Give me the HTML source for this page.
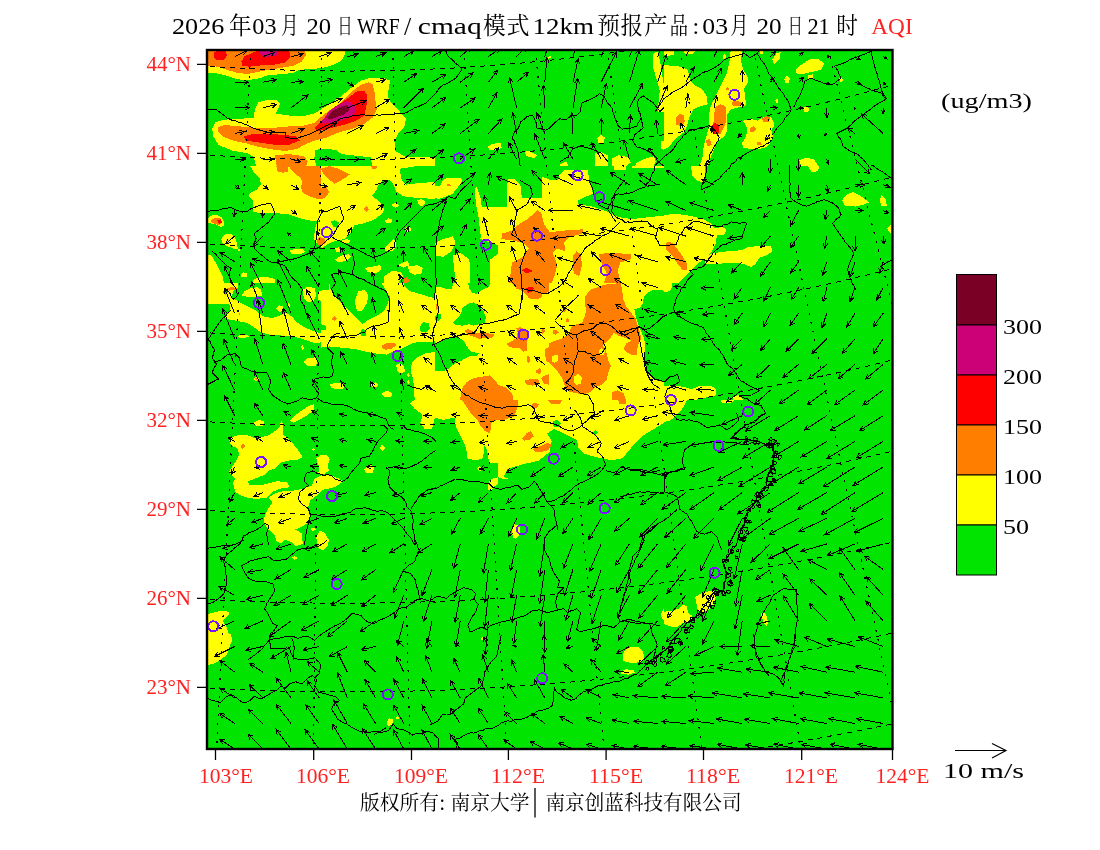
<!DOCTYPE html>
<html><head><meta charset="utf-8"><title>AQI</title>
<style>
html,body{margin:0;padding:0;background:#fff;width:1100px;height:850px;overflow:hidden}
svg{display:block}
.t{font-family:"Liberation Serif","Noto Serif CJK SC",serif;font-size:24px;fill:#000}
.c{font-family:"Noto Serif CJK SC","Liberation Serif",serif;font-size:24px;fill:#000}
.lab{font-family:"Liberation Serif",serif;font-size:21px;fill:#f22}
.cb{font-family:"Liberation Serif",serif;font-size:22px;fill:#000}
.cp{font-family:"Noto Serif CJK SC","Noto Sans CJK SC",serif;font-size:20.5px;fill:#000}
</style></head>
<body>
<svg width="1100" height="850" viewBox="0 0 1100 850">
<defs>
<clipPath id="mapclip"><rect x="207" y="50" width="685.5" height="699"/></clipPath>
<clipPath id="c0"><rect x="206" y="49" width="229" height="117"/></clipPath>
<clipPath id="c1"><rect x="435" y="49" width="229" height="117"/></clipPath>
<clipPath id="c2"><rect x="664" y="49" width="229" height="117"/></clipPath>
<clipPath id="c3"><rect x="206" y="166" width="115" height="117"/></clipPath>
<clipPath id="c4"><rect x="321" y="166" width="115" height="117"/></clipPath>
<clipPath id="c5"><rect x="435" y="166" width="229" height="117"/></clipPath>
<clipPath id="c6"><rect x="664" y="166" width="229" height="117"/></clipPath>
<clipPath id="c7"><rect x="206" y="283" width="115" height="117"/></clipPath>
<clipPath id="c8"><rect x="321" y="283" width="115" height="117"/></clipPath>
<clipPath id="c9"><rect x="435" y="283" width="115" height="117"/></clipPath>
<clipPath id="c10"><rect x="549" y="283" width="115" height="117"/></clipPath>
<clipPath id="c11"><rect x="664" y="283" width="229" height="117"/></clipPath>
<clipPath id="c12"><rect x="206" y="400" width="229" height="117"/></clipPath>
<clipPath id="c13"><rect x="435" y="400" width="229" height="117"/></clipPath>
<clipPath id="c14"><rect x="664" y="400" width="229" height="117"/></clipPath>
<clipPath id="c15"><rect x="206" y="517" width="229" height="117"/></clipPath>
<clipPath id="c16"><rect x="435" y="517" width="229" height="117"/></clipPath>
<clipPath id="c17"><rect x="664" y="517" width="229" height="117"/></clipPath>
<clipPath id="c18"><rect x="206" y="634" width="229" height="120"/></clipPath>
<clipPath id="c19"><rect x="435" y="634" width="229" height="120"/></clipPath>
</defs>
<rect width="1100" height="850" fill="#fff"/>
<g clip-path="url(#mapclip)" shape-rendering="crispEdges">
<rect x="207" y="50" width="686" height="700" fill="#00e400"/>
<g clip-path="url(#c0)"><polygon fill="#ffff00" points="206,49 345.1,49 344.4,56.3 340.3,61.5 330.9,65.7 321.5,68.2 310.1,69 299.7,69.8 293.4,72.9 278.9,74.4 268.5,75 260.1,78.1 247.6,80.2 237.2,79.2 226.8,75.6 218.5,73.6 206,72.9"/><polygon fill="#ff7e00" points="206,49 304.9,49 305.9,55.2 301.8,61.5 293.4,65.7 278.9,68.2 268.5,69.8 258,71.9 247.6,74 237.2,72.9 226.8,69.8 218.5,66.7 206,65.7"/><polygon fill="#ff0000" points="214.3,52.1 218.5,50.7 225.8,50.7 226.8,55.2 224.7,59.4 217.4,60.5 214.3,57.3"/><polygon fill="#ff0000" points="241.4,61.5 244.5,56.3 253.9,52.1 260.1,50.7 289.3,50.7 290.3,57.3 285.1,62.5 274.7,64.6 262.2,65.2 249.7,66.7 242.4,65.7"/><polygon fill="#cc0077" points="259.1,50.7 277.8,50.7 276.8,55.2 268.5,56.9 261.2,55.7"/><polygon fill="#ffff00" points="212.2,129.1 215.4,122.3 222.7,119.8 239.3,118.7 253.5,118.1 254.9,109.4 258.5,102.1 266.4,100 276.8,100 280.1,104.2 275.7,113.5 289.3,115.6 303.8,116 315.3,113.1 323.6,107.7 333,102.1 343.4,94.4 351.7,87.5 361.1,80.6 370.5,77.7 383,77.7 390.2,80.6 388.8,88.6 387.5,95.8 391.3,103.1 399.6,111.5 405.9,118.7 404.8,126 398.6,133.3 394.4,140.6 395.4,151 405.9,157.3 435,157.3 435,166 256,166 253.9,157.3 247.6,153.1 233.1,151 218.5,144.8 213.3,136.4"/><polygon fill="#00e400" points="315.3,150 324.7,148.5 336.1,150 341.3,154.1 351.7,155.2 370.5,157.3 372.5,166 316.3,166 314.3,159.3"/><polygon fill="#ff7e00" points="218.5,127.1 224.7,125 239.3,126.4 258,128.1 274.7,127.7 289.3,126.4 301.8,126 314.3,122.9 322.6,115.6 330.9,109.4 341.3,102.7 351.7,91.7 360.1,85.4 368.4,82.3 372.5,84.4 374.6,92.7 375.7,103.1 376.7,109.4 372.5,117.7 364.2,123.9 351.7,129.1 339.2,132.3 326.7,137.5 314.3,140.6 303.8,144.8 297.6,148.9 285.1,151 268.5,148.9 258,146.8 247.6,143.7 233.1,140.6 222.7,136.4 217.4,131.2"/><polygon fill="#ff0000" points="243.5,136.4 251.8,134.4 268.5,133.9 283,134.8 295.5,136.4 299.7,140.6 289.3,144.8 274.7,144.8 260.1,142.7 245.6,140.6"/><polygon fill="#ff0000" points="314.3,128.1 322.6,119.8 330.9,111.5 339.2,104.2 349.6,96.9 358,90.6 364.2,90.6 367.3,95.8 366.3,107.3 364.2,115.6 355.9,120.8 343.4,125 330.9,128.1 318.4,131.2"/><polygon fill="#cc0077" points="321.5,121.9 328.8,111.5 337.2,105.2 345.5,101 351.7,102.7 355.9,107.3 353.8,115.6 343.4,119.8 330.9,122.9 323.6,123.9"/><polygon fill="#7a0025" points="326.7,117.7 333,110.4 341.3,106.2 347.6,105.2 349.6,110.4 343.4,114.6 335.1,117.7 328.8,119.8"/><polygon fill="#ff7e00" points="274.7,155.2 289.3,154.1 303.8,156.2 308,161.4 305.9,166 276.8,166"/></g>
<g clip-path="url(#c1)"><polygon fill="#ffff00" points="653.6,53.2 657.8,51.5 660.9,65.7 663,80.2 664,86.5 664,111.5 657.8,111.5 658.8,99 659.8,90.6 655.7,76.1 652.5,65.7"/><polygon fill="#ffff00" points="547.4,56.9 550.5,55.9 550.7,58.4 547.8,58.6"/><polygon fill="#ffff00" points="488.1,146.8 492.2,143.7 500.6,143.1 501.6,147.9 495.4,150 489.1,150"/><polygon fill="#ffff00" points="524.5,152.1 528.7,150.6 537,155.2 534.9,158.3 526.6,156.2"/><polygon fill="#ffff00" points="597.4,138.5 600.5,134.8 604.7,137.5 604,142.7 598.4,142.7"/><polygon fill="#ffff00" points="595.3,153.1 601.5,152.1 607.8,155.2 607.8,166 595.3,166"/><polygon fill="#ffff00" points="612,158.3 618.2,155.2 628.6,157.3 630.7,162.5 626.5,166 612,166"/><polygon fill="#ffff00" points="636.9,162.5 643.2,159.3 653.6,156.2 655.7,161.4 653.6,166 634.9,166"/><polygon fill="#ffff00" points="660.9,141.6 664,140.6 664,150 661.5,148.9"/><polygon fill="#ffff00" points="559.9,164.5 566.2,161.4 568.2,166 559.9,166"/></g>
<g clip-path="url(#c2)"><polygon fill="#ffff00" points="664,50.7 674.4,50.7 673.4,55.2 668.2,55.7 664,54.8"/><polygon fill="#ffff00" points="683.8,50.7 695.2,50.7 693.1,53.6 684.8,53.6"/><polygon fill="#ffff00" points="664,64.6 670.2,65.7 680.7,66.7 687.9,69.8 690,80.2 695.2,85.4 702.5,89.6 706.7,95.8 707.7,104.2 700.4,106.2 693.1,109.4 689,117.7 686.9,126 683.8,132.3 678.6,136.4 672.3,142.7 668.2,147.9 664,148.9"/><polygon fill="#ffff00" points="730.6,50.7 742.1,50.7 741,61.5 743.1,69.8 747.3,76.1 748.3,82.3 744.1,88.6 745.2,96.9 746.2,105.2 738.9,107.3 730.6,109.4 726.5,115.6 726.5,123.9 726.5,132.3 724.4,136.4 718.1,140.6 714,148.9 710.8,157.3 707.7,166 699.4,166 702.5,157.3 703.6,146.8 705.6,138.5 708.8,128.1 708.8,117.7 709.8,109.4 712.9,101 718.1,90.6 722.3,82.3 726.5,74 728.5,65.7 730.2,57.3"/><polygon fill="#ffff00" points="723.3,54.8 725.4,54.2 725.8,58.4 723.5,58.8"/><polygon fill="#ffff00" points="759.8,50.7 762.9,50.7 762.9,54.2 760.2,54.2"/><polygon fill="#ffff00" points="772.3,59.4 776.4,53.2 780.6,52.1 779.5,59.4 774.3,64.6"/><polygon fill="#ffff00" points="784.3,79.2 786.8,75.6 790,78.1 788.9,83.3 785.4,83.3"/><polygon fill="#ffff00" points="775.4,100 777.5,98.5 778.5,102.7 776,103.5"/><polygon fill="#ffff00" points="795.2,69.8 801.4,64.6 809.7,59.4 819.1,59.4 824.3,63.6 821.2,69.8 811.8,71.9 803.5,74 797.2,74"/><polygon fill="#ffff00" points="807.6,75 812.9,74.4 813.5,78.1 808.1,78.6"/><polygon fill="#ffff00" points="838.5,79.2 841,77.1 843.5,79.8 841,82.3"/><polygon fill="#ffff00" points="803.1,108.3 806.6,106.2 809.3,109.4 807.6,112.5 803.9,111.5"/><polygon fill="#ffff00" points="743.1,120.8 749.4,118.7 757.7,120.8 761.8,117.7 770.2,116.7 773.3,120.8 774.3,126 771.2,130.2 773.3,136.4 770.2,142.7 767,146.8 759.8,148.9 751.4,148.9 743.1,147.9 742.1,142.7 746.2,136.4 747.3,128.1"/><polygon fill="#ffff00" points="799.3,160.4 805.6,157.7 813.9,159.3 818.1,166 801.4,166"/><polygon fill="#ff7e00" points="715,107.3 720.2,104.2 725.4,106.2 726.5,115.6 725.4,123.9 722.3,130.2 720.2,134.4 715,133.3 712.9,128.1 714,117.7"/><polygon fill="#ff7e00" points="705.6,140.6 709.8,138.5 711.9,144.8 707.7,146.8"/><polygon fill="#ff7e00" points="731.7,102.1 735.8,100.6 741,102.1 740.6,106.2 732.7,106.2"/><polygon fill="#ff7e00" points="726,88.1 728.1,86.5 729,89.8 726.5,90.2"/><polygon fill="#ff7e00" points="675.5,117.7 679.6,113.5 683.8,115.6 684.8,121.9 681.7,126 676.5,125"/><polygon fill="#ff7e00" points="761.8,118.7 766,116 770.2,117.7 769.1,121.9 763.9,122.3"/><polygon fill="#ff7e00" points="749.8,128.1 753.5,126 756.6,129.1 753.5,132.3 750.4,131.9"/><polygon fill="#ff7e00" points="756.6,142.7 760.8,141.6 761.8,144.8 757.7,145.2"/><polygon fill="#ff0000" points="711.9,126 715,122.9 719.2,125 719.2,132.3 715,134.4 712.3,131.2"/></g>
<g clip-path="url(#c3)"><polygon fill="#ffff00" points="250.1,166 321,166 321,220.4 313.4,221.1 302.4,219 288.6,214.2 280.4,213.5 272.1,212.8 261.1,213.5 252.8,211.5 253.5,205.9 252.8,200.4 248.7,196.3 250.1,192.9 257,189.4 261.1,183.9 259.7,178.4 253.5,171.5"/><polygon fill="#ff7e00" points="276.2,166 288.6,166 288,171.5 283.1,172.9 277.6,171.5"/><polygon fill="#ff7e00" points="288.6,166 321,166 321,199.1 314.8,198.4 306.6,194.9 302.4,192.2 301,186.7 302.4,181.2 299.7,177 295.5,174.3 291.4,170.1"/><polygon fill="#ffff00" points="208.1,218.3 211.5,215.6 217,214.9 221.2,217 223.9,221.1 224.6,225.2 221.2,227.3 214.3,223.9 208.1,223.2"/><polygon fill="#ff7e00" points="210.1,221.1 214.3,218.3 219.8,218.1 221.8,221.8 219.8,225.2 212.9,223.2"/><polygon fill="#ff0000" points="217,220 220.9,219.4 222.3,222.2 218.7,223.9"/><polygon fill="#ffff00" points="221.2,239 225.3,234.2 230.8,233.5 234.9,237.6 237,243.1 237.7,248.6 233.5,248.6 226.7,245.9 222.5,243.1"/><polygon fill="#ffff00" points="237.7,249.3 239.1,248.4 240.2,250 238.8,251.1"/><polygon fill="#ffff00" points="290,250.7 295.5,248.6 302.4,249.3 305.2,252.1 301,254.2 291.4,253.5"/><polygon fill="#ffff00" points="316.2,223.9 321,219.7 321,243.1 314.8,243.1 314.1,234.9"/><polygon fill="#ff7e00" points="316.9,239 321,236.2 321,245.2 317.6,244.5"/><polygon fill="#ffff00" points="206,254.2 211.5,255.5 215.6,262.4 219.8,270.7 222.5,276.2 223.9,283.1 206,283.1"/><polygon fill="#ffff00" points="240.4,274.8 243.2,272.1 247.3,273.4 246.6,276.9 241.8,277.6"/><polygon fill="#ffff00" points="252.8,280.3 258.3,277.6 266.6,276.9 274.9,278.9 274.9,283.1 252.8,283.1"/></g>
<g clip-path="url(#c4)"><polygon fill="#ffff00" points="321,166 436,166 436,283.1 321,283.1"/><polygon fill="#00e400" points="399.5,168.8 417.4,166 436,166 436,181.8 417.4,183.2 406.4,184.6 401.6,179.8"/><polygon fill="#00e400" points="321,248.6 329.3,243.1 337.5,240.4 344.4,239 351.3,232.1 354.1,225.2 362.3,223.9 370.6,221.1 376.1,218.3 381.6,214.2 384.4,210.1 381.6,204.6 376.1,199.1 372,195.6 376.1,190.8 378.9,183.9 384.4,179.8 389.9,179.8 394,185.3 396.1,191.5 403.6,196.3 414.7,197.7 425.7,198.4 436,199.1 436,283.1 321,283.1"/><polygon fill="#00e400" points="330.6,221.1 334.8,220.4 338.9,222.5 337.5,228 333.4,226.6"/><polygon fill="#ffff00" points="391.2,205.3 395.4,202.5 399.5,205.3 395.4,208"/><polygon fill="#ffff00" points="384.4,221.1 388.5,218.3 392.6,219.7 391.2,222.5 386.4,223.2"/><polygon fill="#ffff00" points="417.4,200.4 421.6,199.1 425.7,201.8 422.9,205.9 418.8,205.3"/><polygon fill="#ffff00" points="405,228 409.2,226.6 411.9,230 407.8,232.1 405,230.7"/><polygon fill="#ffff00" points="341.7,240.4 347.2,239 350.6,241.1 348.5,243.1 343,243.1"/><polygon fill="#ffff00" points="384.4,248.6 389.9,243.1 394,239 396.1,241.8 395.4,248.6 392.6,251.4 385.7,251.4"/><polygon fill="#ffff00" points="334.8,248.6 338.9,247.3 340.3,251.4 336.2,252.1"/><polygon fill="#ffff00" points="334.8,259.7 341.7,255.5 348.5,254.2 351.3,256.9 345.8,261 337.5,262.4"/><polygon fill="#ffff00" points="365.1,267.9 372,266.6 380.2,265.2 381.6,269.3 376.1,273.4 367.8,272.1"/><polygon fill="#ffff00" points="384.4,276.2 392.6,270.7 400.9,272.1 403.6,276.2 398.1,283.1 384.4,283.1"/><polygon fill="#ffff00" points="398.1,265.2 403.6,262.4 407.8,261 409.2,265.2 403.6,267.9"/><polygon fill="#ffff00" points="407.8,266.6 417.4,265.2 422.9,267.9 421.6,273.4 414.7,274.8 409.2,272.1"/><polygon fill="#ff7e00" points="403.6,278.9 407.1,276.9 409.8,280.3 407.8,283.1 403.6,283.1"/><polygon fill="#ff7e00" points="321,168.8 329.3,166 338.9,168.8 349.9,174.3 344.4,178.4 334.8,183.9 329.3,179.8 323.8,174.3"/><polygon fill="#ff7e00" points="321,188 326.5,186.7 329.3,192.2 325.1,197.7 321,199.1"/><polygon fill="#ff7e00" points="363.7,209 366.5,205.9 369.2,209.4 366.5,212.1"/><polygon fill="#ff7e00" points="370.6,166 377.5,166 376.1,168.8 372.7,169.4"/><polygon fill="#ff7e00" points="321,237.6 325.1,239 325.8,243.1 322.4,245.2 321,244.5"/></g>
<g clip-path="url(#c5)"><polygon fill="#ffff00" points="435,166 664,166 664,283 435,283"/><polygon fill="#00e400" points="435,166 587.6,166 587.6,170.2 564.1,170.2 559.9,174.3 557.8,179.7 549.9,179.7 542.4,177 542.4,197.6 532.8,198.3 521.8,197.6 520.4,184.7 514.1,178.5 507.9,179.5 506.8,191 506.8,207.2 481.8,207.2 480.4,197.6 477.7,189.3 476.2,186.8 475,188.9 475,195.1 476.6,207.6 478.7,218 479.8,228.5 480.8,236.8 480.4,238.9 485,240.9 498.3,245.1 497.5,254.1 490.2,259.7 490.2,283 435,283"/><polygon fill="#00e400" points="587.6,170.2 590.3,183.9 593,193.5 577.8,200.3 578.6,204.5 590.3,206 606.8,211.4 617.8,217 631.5,219.1 645.3,217.6 664,215.5 664,166 587.6,166"/><polygon fill="#ffff00" points="613.6,166 626.1,166 626.1,170.2 613.6,170.2"/><polygon fill="#ffff00" points="631.5,166 664,166 664,168.1 631.5,168.1"/><polygon fill="#ffff00" points="443.3,179.7 448.7,177.7 461.2,177.7 462.5,181.2 457.1,188.1 452.9,193.5 446,196.4 437.7,199.1 435,197.6 435,186.6 440.4,185.4"/><polygon fill="#ffff00" points="435,243 443.3,239.1 452.9,236.2 455.6,243 451.4,251.4 443.3,257 435,255.5"/><polygon fill="#ffff00" points="452.7,255.5 460,252.4 469.4,259.7 470.4,283 455.8,283"/><polygon fill="#ff7e00" points="446,185.2 448.7,183.9 451.4,185.2 448.7,186.6"/><polygon fill="#ff7e00" points="501.2,239.1 502.5,233.5 512,230.7 517.6,225.1 528.7,218.3 537,210.1 541.2,212.8 543.9,223.9 549.9,232.2 562.6,230.7 583.4,229.3 582,233.5 568.2,237.6 564.1,243 565.5,251.4 557.2,248.6 552.6,253.4 554.5,257 557.2,265.1 554.5,276.1 551.6,283 509.3,283 512,262.4 523.1,257 528.7,248.6 523.1,243 512,240.3"/><polygon fill="#ff7e00" points="598.6,254.1 610.9,252.8 631.5,254.1 630.3,259.7 620.5,262.4 617.8,270.7 620.5,283 604,283 606.8,273.4 601.3,262.4 599.9,258.2"/><polygon fill="#ff7e00" points="573,255.5 576.6,251.4 580.7,254.1 582,265.1 579.3,276.1 573.6,273.4"/><polygon fill="#ff0000" points="521.4,270.1 526.6,267.6 532.8,271.1 526.6,273.2"/><polygon fill="#ff0000" points="558.7,237.6 559.9,236.2 561.4,237.6 559.9,239.1"/></g>
<g clip-path="url(#c6)"><polygon fill="#ffff00" points="691.1,166 704.6,166 705.6,174.3 703.6,182.7 697.3,180.6 692.1,175.4"/><polygon fill="#ffff00" points="664,214.9 676.5,213.9 691.1,216 703.6,219.1 711.9,224.3 717.1,232.6 716,243 711.9,251.4 705.6,257.6 695.2,265.9 686.9,274.3 678.6,283 664,283"/><polygon fill="#ffff00" points="715,228.5 721.2,226.8 726.5,229.5 724.4,234.7 717.1,234.7"/><polygon fill="#ffff00" points="703.6,257.6 711.9,253.4 726.5,251.4 741,250.3 747.3,247.2 757.7,246.1 771.2,246.1 772.3,251.4 766,255.5 759.8,257.6 755.6,263.8 751.4,267 743.1,263.8 732.7,262.8 718.1,263.8 705.6,263.8"/><polygon fill="#ffff00" points="807.6,166 819.1,166 818.1,171.2 811.8,172.2"/><polygon fill="#ffff00" points="842,200.3 847.2,194.1 853.4,192 859.7,195.1 869.1,202.4 863.9,204.5 855.5,206.6 845.1,205.6"/><polygon fill="#ffff00" points="879.5,200.3 881.5,195.1 885.7,199.3 886.8,205.6 881.5,205.6"/><polygon fill="#ffff00" points="886.8,228.5 890.9,224.3 893,225.3 893,234.7 889.9,232.6"/><polygon fill="#ff7e00" points="666.1,243 670.2,241.4 674.4,245.1 680.7,253.4 686.9,263.8 686.9,270.1 682.7,270.1 677.5,263.8 672.3,255.5 666.1,249.3"/></g>
<g clip-path="url(#c7)"><polygon fill="#ffff00" points="206,283 237.7,283 238.4,287.1 233.5,291.3 231.5,296.8 239.1,302.3 247.3,306.4 255.6,310.5 263.9,316.7 272.1,318.1 280.4,315.4 285.9,312.6 291.4,316.1 296.9,322.3 305.2,327.8 316.2,331.9 321,333.3 321,342.2 316.2,343.6 307.9,340.9 299.7,338.1 288.6,336 277.6,335.3 269.4,334.7 261.1,332.6 255.6,328.5 247.3,322.9 240.4,321.6 233.5,320.2 226.7,319.1 223.9,316.1 230.1,310.5 229.4,304.3 206,304.3"/><polygon fill="#00e400" points="222.5,292 225.3,290.6 228,292.6 225.3,294.7"/><polygon fill="#ffff00" points="244.6,291.3 250.1,288.5 257,287.1 261.1,289.9 262.5,295.4 255.6,296.8 247.3,296.8 241.8,295.4"/><polygon fill="#ffff00" points="276.2,308.5 279,305 283.1,306.4 283.8,310.5 279.7,312.2"/><polygon fill="#ffff00" points="302.4,289.9 307.9,286.4 314.8,288.5 316.2,295.4 313.4,300.9 307.9,302.3 303.8,298.2"/><polygon fill="#ffff00" points="317.6,292.6 321,290.6 321,300.9 318.3,299.5"/><polygon fill="#ffff00" points="287,305 288.6,303 290.3,305.7 288.4,308.1"/><polygon fill="#ffff00" points="237.7,336 241.8,334.2 247.3,334.7 248.7,336.7 243.2,338.1 239.1,337.8"/><polygon fill="#ffff00" points="301,347 302.4,345 304.1,347.7 302.4,350.5"/><polygon fill="#ffff00" points="303.8,361.5 307.9,358.1 314.8,357.4 317.6,360.1 316.2,365.6 306.6,365.6"/><polygon fill="#ffff00" points="253.5,378.7 256.3,376 259,378.7 256.3,381.5"/><polygon fill="#ff7e00" points="254.9,378.7 256.3,377.4 257.7,378.7 256.3,380.1"/><polygon fill="#ff7e00" points="226.7,288.5 230.8,287.1 237,287.8 235.6,289.9 229.4,290.6"/><polygon fill="#ff7e00" points="238.1,314 239.1,312.9 240,314 239.1,315.1"/></g>
<g clip-path="url(#c8)"><polygon fill="#ffff00" points="321,283 436,283 436,400.1 321,400.1"/><polygon fill="#00e400" points="321,283 329.3,283 329.3,289.9 321,290.6"/><polygon fill="#00e400" points="329.3,283 381.6,283 385.7,289.9 389.9,296.8 387.1,305 384.4,310.5 378.9,314.7 373.3,317.4 367.8,320.2 362.3,324.3 355.4,317.4 348.5,310.5 341.7,303.7 334.8,296.8 330.6,289.9"/><polygon fill="#ffff00" points="354.7,300.9 358.2,291.3 365.1,289.9 368.5,295.4 366.5,303.7 362.3,310.5 356.8,310.5"/><polygon fill="#00e400" points="403.6,283 436,283 436,298.2 428.4,296.8 420.2,294 410.5,291.3 405,287.1"/><polygon fill="#00e400" points="419.5,327.1 422.9,322.3 428.4,322.9 429.8,328.5 425.7,332.6 420.9,331.9"/><polygon fill="#00e400" points="360.3,332.6 362.3,328.5 366.5,330.5 365.8,336 360.9,336"/><polygon fill="#00e400" points="321,324.3 325.1,325 326.5,329.8 321,330.5"/><polygon fill="#00e400" points="321,347.7 329.3,346.4 341.7,347.7 355.4,349.1 366.5,351.9 378.9,353.9 387.1,354.6 392.6,351.9 398.1,350.5 403.6,347.7 411.9,343.6 420.2,341.5 429.8,342.2 436,340.9 436,351.9 425.7,353.2 417.4,357.4 411.9,362.9 410.5,371.2 413.3,379.4 414.7,400.1 321,400.1"/><polygon fill="#ffff00" points="329.3,384.9 334.8,382.9 343,383.6 345.8,386.3 341.7,389.1 332,388.4"/><polygon fill="#ffff00" points="370.6,384.2 375.4,382.2 378.9,384.9 376.1,387 372,387"/><polygon fill="#ffff00" points="381.6,393.2 387.1,390.4 392.6,393.2 391.2,397.3 384.4,397.3"/><polygon fill="#ffff00" points="396.1,365.6 399.5,362.9 403.6,365.6 405,371.2 400.9,373.9 397.4,371.2"/><polygon fill="#ffff00" points="407.1,374.6 408.5,373.2 409.8,376 408.1,377.4"/><polygon fill="#ffff00" points="407.1,381.5 408.5,380.1 409.8,382.9 408.1,384.2"/><polygon fill="#ff7e00" points="332,318.1 334.8,316.1 336.8,318.8 334.8,320.9 332.7,320.2"/><polygon fill="#ff7e00" points="381.6,345.7 387.1,342.9 394,342.5 396.1,345 392.6,348.4 385.7,349.8 382.3,348.4"/></g>
<g clip-path="url(#c9)"><polygon fill="#ffff00" points="435,283 550,283 550,400.1 435,400.1"/><polygon fill="#00e400" points="435,283 452.9,283 452.2,288.5 447.4,289.2 440.5,287.1 435,286.4"/><polygon fill="#00e400" points="468.1,283 490.1,283 488.7,287.1 481.8,289.9 476.3,294 472.2,292.6 469.4,288.5"/><polygon fill="#00e400" points="452.9,322.9 457,318.8 461.2,313.3 462.5,307.8 468.1,303.7 473.6,302.3 479.1,306.4 483.2,310.5 486,317.4 484.6,322.9 479.1,324.3 473.6,325.7 469.4,324.3 462.5,325.7 455.7,325"/><polygon fill="#00e400" points="439.1,313.3 441.2,314.7 440.5,318.8 437.8,321.6 435,320.2 435,316.1"/><polygon fill="#00e400" points="435,343.6 440.5,340.9 448.8,338.1 457,336.7 463.9,340.9 466.7,346.4 470.8,351.9 479.1,353.2 476.3,356 469.4,356 462.5,360.1 455.7,362.9 448.8,368.4 443.3,371.2 435,371.2"/><polygon fill="#ff7e00" points="512.1,283 550,283 550,291.3 542.4,294 541.1,298.2 534.2,299.5 528.7,298.2 525.9,294 523.2,291.3 516.3,288.5"/><polygon fill="#ff0000" points="525.9,288.5 530,286.4 534.2,287.8 531.4,292 528,292.6"/><polygon fill="#ff7e00" points="464.6,330.5 468.1,329.1 472.2,331.2 479.1,333.3 487.3,333.3 494.2,334 492.9,337.4 486,338.1 479.1,338.8 473.6,336.7 468.1,334.7"/><polygon fill="#ff7e00" points="506.6,343.6 512.1,340.9 516.3,338.1 517.6,332.6 516.3,328.5 520.4,327.1 525.9,329.8 528.7,332.6 527.3,340.9 526.6,345 527.3,350.5 523.2,351.9 519,347.7 513.5,347.7 509.4,347"/><polygon fill="#ff7e00" points="541.1,329.8 543.8,328.5 545.2,331.9 542.4,334"/><polygon fill="#ff7e00" points="545.2,349.1 550,346.4 550,362.9 546.6,361.5 545.2,356"/><polygon fill="#ff7e00" points="527.3,356 530,356.7 529.4,362.9 527.3,362.2"/><polygon fill="#ff7e00" points="535.6,371.2 539.7,367.7 541.7,371.2 539.7,373.9 536.2,373.2"/><polygon fill="#ff7e00" points="524.5,380.8 531.4,378.7 538.3,379.4 539.7,383.6 532.8,385.6 525.9,384.2"/><polygon fill="#ff7e00" points="541.1,378 545.2,375.3 550,373.9 550,384.9 543.8,383.6"/><polygon fill="#ff7e00" points="459.8,400.1 462.5,387.7 466.7,382.2 473.6,378 481.8,376.7 490.1,375.3 494.2,379.4 498.4,384.9 506.6,387.7 512.1,393.2 513.5,400.1"/><polygon fill="#ff7e00" points="435.7,303.7 437.8,303.7 439.1,307.8 436.4,310.5"/></g>
<g clip-path="url(#c10)"><polygon fill="#ffff00" points="549,283 664,283 664,400.1 549,400.1"/><polygon fill="#00e400" points="648.2,292.6 653.7,289.9 664,290.6 664,382.2 657.8,380.8 650.9,376.7 646.8,371.2 645.4,362.9 644,354.6 645.4,346.4 644,338.1 639.9,328.5 637.2,321.6 635.1,313.3 634.4,309.2 639.9,307.8 642.7,303.7 644,296.8"/><polygon fill="#ff7e00" points="584.8,296.8 590.3,289.9 601.3,285.8 606.9,284.4 620.6,283 622,289.9 623.4,299.5 626.1,306.4 631.6,313.3 635.8,318.8 637.2,324.3 639.9,332.6 641.3,338.1 638.5,343.6 637.2,349.1 637.2,354.6 631.6,354.6 626.1,351.9 623.4,349.1 626.1,343.6 631.6,340.9 626.1,338.1 617.9,335.3 613.7,332.6 612.4,335.3 608.2,340.9 604.1,343.6 602.7,346.4 605.5,349.1 606.9,354.6 608.2,360.1 611,365.6 608.2,372.5 606.9,379.4 601.3,384.9 594.5,387.7 590.3,391.8 583.4,394.6 576.5,393.2 569.7,391.8 565.5,387.7 562.8,379.4 557.3,371.2 551.8,365.6 549,362.9 549,343.6 554.5,340.9 562.8,338.1 569.7,332.6 571,327.1 576.5,324.3 582.1,322.9 584.8,316.1 586.2,310.5 584.8,303.7"/><polygon fill="#ffff00" points="598.6,350.5 601.3,348.4 605.5,350.5 604.1,354.6 600,354.6"/><polygon fill="#ffff00" points="573.8,376.7 577.9,373.9 582.1,378 580.7,383.6 576.5,384.9 573.8,382.2"/><polygon fill="#ffff00" points="551.8,356 557.3,354.6 558.6,360.1 554.5,362.9 551.8,361.5"/><polygon fill="#ff7e00" points="612.4,391.8 617.9,390.4 623.4,393.2 626.1,400.1 612.4,400.1"/><polygon fill="#ff7e00" points="553.1,330.5 556.6,329.8 558.6,332.6 555.9,334.7 553.1,334"/><polygon fill="#ff7e00" points="565.5,318.8 568.3,318.1 569,321.6 566.2,322.3"/><polygon fill="#ff7e00" points="562.8,309.9 565.5,308.5 566.2,311.2 563.5,311.9"/></g>
<g clip-path="url(#c11)"><polygon fill="#ffff00" points="664,283 672.3,283 671.3,289.2 667.1,292.4 664,292.4"/><polygon fill="#ffff00" points="664,386.1 672.3,385 684.8,387.1 691.1,389.2 699.4,386.1 711.9,386.1 716,389.2 716,395.4 705.6,397.5 695.2,400 664,400"/><polygon fill="#ffff00" points="732.7,396.5 738.9,395 743.1,400 732.7,400"/></g>
<g clip-path="url(#c12)"><polygon fill="#ffff00" points="228.9,438.5 237.2,435.4 247.6,435.4 256,438.5 268.5,435.4 274.7,431.2 279.9,427.1 280.9,419.8 283.4,425 283,434.4 289.3,439.6 296.6,447.9 302.8,457.2 295.5,460.4 289.3,460.4 280.9,462.5 274.7,468.7 268.5,470.8 264.3,474.9 253.9,479.1 247.6,481.2 249.7,485.4 260.1,485.4 268.5,483.3 276.8,481.2 287.2,482.2 289.3,487.4 280.9,488.5 272.6,491.6 266.4,497.8 256,498.9 247.6,497.8 241.4,495.8 235.1,491.6 233.1,483.3 235.1,479.1 228.9,471.8 235.1,462.5 239.3,454.1 237.2,447.9 231,445.8"/><polygon fill="#ffff00" points="268.5,497.8 274.7,493.7 280.9,491.6 293.4,490.6 303.8,488.5 312.2,485.4 314.3,479.1 322.6,474.9 330.9,475.4 339.2,478.7 343.4,481.6 335.1,487 322.6,489.9 316.3,495.8 310.1,500.3 308,508.3 310.1,517 264.3,517 268.5,508.3 272.6,502"/><polygon fill="#ffff00" points="316.3,458.3 320.5,455.2 326.7,454.5 329.9,459.3 327.8,465.6 328.8,470.8 322.6,474.9 318.4,472.9 319.5,466.6 317.4,462.5"/><polygon fill="#ffff00" points="289.3,420.8 293.4,416.7 301.8,410.4 310.1,405.2 314.3,404.2 314.3,409.4 308,414.6 299.7,419.8 293.4,422.9"/><polygon fill="#ffff00" points="253.9,422.9 258,420.2 264.3,420.8 263.2,426 256,426"/><polygon fill="#ffff00" points="312.2,449.3 313.6,447.9 315.1,449.3 313.6,450.8"/><polygon fill="#ffff00" points="379.8,447.9 381.9,444.8 385,447.9 383,451"/><polygon fill="#ffff00" points="364.2,469.7 369.4,464.5 374.6,466.6 372.5,472.9 366.3,472.9"/><polygon fill="#ffff00" points="410,403.1 414.2,400 435,400 435,416.7 431.9,429.1 424.6,429.1 420.4,422.9 422.5,414.6 414.2,408.3"/><polygon fill="#ff7e00" points="240.3,446.2 242.8,443.3 245.6,446.2 242.8,449.1"/></g>
<g clip-path="url(#c13)"><polygon fill="#ffff00" points="435,400 664,400 664,422.9 653.6,429.1 643.2,435.4 632.8,445.8 622.4,458.3 612,460.4 601.5,458.3 593.2,456.2 584.9,454.1 578.6,447.9 576.6,439.6 564.1,433.3 553.7,429.1 547.4,433.3 551.6,441.6 549.5,452 539.1,460.4 522.4,464.5 507.9,468.7 503.7,477 509.9,479.1 503.7,479.1 497.5,477 497.5,462.5 489.1,462.5 487,450 484.5,445.8 482.9,458.3 475.6,460.4 467.3,458.3 466.2,447.9 462.1,439.6 455.8,427.1 454.8,417.7 443.3,419.8 435,417.7"/><polygon fill="#00e400" points="552.6,421.9 556.8,419.8 561,422.9 558.9,427.1 553.7,426.6"/><polygon fill="#00e400" points="593.2,432.3 595.7,429.6 597.8,432.9 595.3,435"/><polygon fill="#ffff00" points="488.1,483.3 491.2,479.1 497.5,477.4 498.5,483.3 493.3,487.4 491.2,491.6 488.1,489.5"/><polygon fill="#ffff00" points="476.6,468.7 479.8,466.2 482.9,468.7 479.8,471.2"/><polygon fill="#ff7e00" points="462.1,400 518.3,400 517.2,408.3 514.1,416.7 503.7,419.8 497.5,419.8 491.2,422.9 490.2,433.3 485,431.2 479.8,425 476.6,418.7 470.4,412.5 466.2,406.2"/><polygon fill="#ff7e00" points="530.8,405.2 534.9,402.5 539.1,404.2 537,408.3 531.8,407.9"/><polygon fill="#ff7e00" points="547.4,400 562,400 559.9,404.2 551.6,404.2"/><polygon fill="#ff7e00" points="618.2,400 626.5,400 625.5,403.7 619.2,403.7"/><polygon fill="#ff7e00" points="532.8,448.9 541.2,445.8 547.4,442.7 551.6,444.8 548.5,450 541.2,452 534.9,452"/><polygon fill="#ff7e00" points="522.4,438.5 526.6,433.3 530.8,431.2 533.9,436.4 529.7,439.6 524.5,440.6"/></g>
<g clip-path="url(#c14)"><polygon fill="#ffff00" points="664,400 686.9,400 682.7,408.3 676.5,414.6 670.2,420.8 664,421.9"/><polygon fill="#ffff00" points="720.2,400 734.8,400 730.6,403.1 722.3,403.1"/></g>
<g clip-path="url(#c15)"><polygon fill="#ffff00" points="264.3,517 310.1,517 308,523.2 301.8,526.4 295.5,529.5 301.8,533.7 302.8,544.1 295.5,546.1 291.4,542 285.1,539.9 280.9,543 276.8,542 274.7,535.7 268.5,529.5 264.3,523.2"/><polygon fill="#ffff00" points="316.3,537.8 319.5,530.5 324.7,532.6 328.8,539.9 327.8,546.1 322.6,550.3 318.4,548.2"/><polygon fill="#ffff00" points="310.1,529.1 313.2,527.4 316.3,529.5 312.6,531.2"/><polygon fill="#ffff00" points="291.4,557.6 294.5,556.1 297.6,558.2 294.5,559.9"/><polygon fill="#ffff00" points="206,614.8 216.4,611.7 224.7,610.7 229.9,612.8 226.8,616.9 222.7,621.1 226.8,627.3 228.9,634 206,634"/></g>
<g clip-path="url(#c16)"><polygon fill="#ffff00" points="511,529.5 514.1,524.3 519.3,525.3 520.4,533.7 516.2,538.9 513.1,537.8"/><polygon fill="#ffff00" points="660.9,613.8 664,608.6 664,620 661.9,619"/></g>
<g clip-path="url(#c17)"><polygon fill="#ffff00" points="695.2,597.1 701.5,593 714,589.9 716,596.1 714,604.4 707.7,610.7 701.5,612.8 697.3,608.6 696.3,602.4"/><polygon fill="#ffff00" points="664,611.7 672.3,610.7 678.6,608.6 682.7,604.4 686.9,606.5 687.9,612.8 692.1,615.9 691.1,621.1 682.7,623.2 676.5,627.3 670.2,626.3 664,624.2"/><polygon fill="#ffff00" points="760.8,613.8 763.9,611.7 767,616.9 768.1,623.2 766,626.3 763.5,622.1"/></g>
<g clip-path="url(#c18)"><polygon fill="#ffff00" points="206,634 231,634 232,640.2 228.9,648.6 226.8,654.8 218.5,661.1 212.2,664.2 206,665.2"/><polygon fill="#ffff00" points="386.7,722.5 389.2,718.3 392.9,719.4 392.3,724.6 388.2,726.6"/><polygon fill="#ffff00" points="395.9,717.3 397.9,715.2 399.2,718.3 397.1,719.8"/></g>
<g clip-path="url(#c19)"><polygon fill="#ffff00" points="622.4,654.8 625.5,649.6 631.7,646.5 638,646.5 643.2,651.7 644.2,657.9 640.1,662.1 631.7,663.1 623.4,661.1"/><polygon fill="#ffff00" points="620.3,671.5 625.5,669.4 633.8,669.8 634.9,672.5 628.6,674.6 621.3,674"/><polygon fill="#ffff00" points="480.8,638.2 483.3,637.1 484.1,639.8 481.6,640.2"/></g>
<path fill="none" stroke="#000" stroke-width="1" stroke-linejoin="round" d="M374.2 734.4 L377.4 732.9 L380.7 732.6 L385.2 731.2 L388.6 730.7 L390.9 727.2 L393.2 723.9 L396.5 728.2 L399.9 729.4 L402.4 729.4 L406.1 730.9 L409.8 732.9 L412.6 735.1 L416.1 733.7 L418.9 733.7 L421.8 733.1 L425.3 731.8 L429.8 731.8 L433.3 733.0 L435.3 735.8 L438.4 738.6 L439.0 742.9 L438.7 747.4 L437.7 750.2 L436.7 753.0 L436.5 756.2 L435.9 759.2 M452.1 758.5 L454.0 756.4 L453.6 751.8 L456.1 750.0 L457.0 746.3 L457.8 743.6 L454.4 739.4 L457.8 738.7 L460.7 737.6 L464.0 735.4 L466.9 734.2 L470.1 732.8 L473.7 733.1 L477.3 731.8 L479.5 730.7 L482.8 730.6 L485.1 728.8 L489.0 728.4 L492.0 728.6 L495.4 726.9 L498.5 725.4 L501.1 722.7 L504.6 721.9 L507.5 720.7 L511.0 721.7 L514.4 719.6 L517.2 719.6 L521.1 719.2 L523.9 718.4 L527.1 717.2 L529.7 715.7 L532.5 714.9 L536.7 711.7 L538.9 710.6 L542.5 710.2 L545.0 709.2 L548.2 708.4 L552.7 705.0 L553.1 701.3 L553.5 696.1 L553.9 692.3 L554.3 687.2 L555.9 690.7 L558.0 692.8 L561.3 694.7 L563.1 696.8 L566.0 698.7 L569.0 699.2 L571.4 700.4 L576.0 698.5 L577.9 696.0 L581.2 693.5 L583.2 691.9 L587.8 690.3 L590.9 689.6 L594.7 687.5 L596.9 686.0 L601.3 685.5 L604.1 684.3 L607.7 683.4 L611.4 682.8 L614.3 681.3 L618.1 681.9 L621.6 680.3 L624.8 678.3 L628.2 678.3 L631.4 676.0 L634.1 674.6 L636.7 674.1 L639.8 670.9 L641.8 669.2 L645.1 665.7 L647.2 663.1 L650.7 660.5 L654.3 658.2 L656.5 656.8 L659.6 654.8 L663.7 651.4 L666.3 649.2 L669.2 646.2 L670.1 643.2 L672.1 641.1 L674.4 638.1 L675.9 636.6 L678.1 633.9 L681.2 631.1 L682.0 628.0 L685.1 625.1 L686.3 623.0 L689.0 621.4 L692.7 618.2 L696.3 617.0 L699.3 613.6 L699.7 611.1 L702.7 608.6 L705.5 605.7 L707.9 601.9 L708.8 598.8 L710.3 596.3 L712.7 593.6 L716.7 593.0 L720.3 592.0 L723.0 590.5 L724.6 587.2 L724.9 582.7 L725.8 579.6 L726.1 574.8 L725.9 570.6 L723.7 566.3 L722.9 562.2 L726.2 558.6 L728.2 556.1 L730.6 553.4 L732.4 549.9 L735.0 547.1 L736.1 544.5 L737.7 541.7 L737.8 538.7 L738.9 534.6 L740.5 532.3 L741.1 528.4 L742.7 526.0 L744.8 522.5 L745.7 519.7 L747.3 516.1 L747.3 511.6 L749.4 508.8 L752.3 506.2 L753.4 503.5 L755.5 501.1 L756.8 497.8 L759.1 494.9 L760.5 492.9 L761.6 489.6 L764.3 487.3 L766.3 485.5 L767.1 481.9 L766.4 478.8 L767.5 476.2 L768.5 473.0 L770.4 470.6 L771.8 467.9 L772.2 464.5 L772.8 461.3 L774.1 456.9 L774.6 453.4 L773.3 449.0 L773.1 445.0 L770.3 443.8 L767.0 444.3 L764.1 443.8 L760.5 442.2 L758.5 441.8 L754.9 441.8 L751.8 440.2 L748.0 439.5 L744.8 439.4 L740.0 439.4 L736.1 439.3 L733.3 438.1 L731.0 438.0 L734.1 436.0 L735.1 433.3 L738.3 431.0 L740.9 428.7 L743.0 427.4 L745.3 425.3 L748.7 424.2 L751.1 423.5 L753.1 421.7 L756.5 419.7 L758.9 417.7 L762.2 415.4 L765.4 413.4 L764.3 410.5 L761.7 407.3 L760.9 405.3 L756.5 404.6 L753.9 403.5 L750.1 401.3 L747.2 398.6 L743.9 398.1 L740.4 395.7 L744.6 395.4 L747.7 395.1 L751.7 395.0 L756.1 392.3 L759.4 390.5 L756.7 389.1 L754.7 388.3 L751.9 387.0 L748.3 385.1 L745.3 383.1 L743.0 381.7 L740.4 380.6 L738.2 377.5 L736.3 373.8 L734.7 371.4 L732.1 368.0 L729.2 366.1 L727.4 364.3 L725.5 360.5 L723.8 357.2 L723.0 355.2 L721.5 353.5 L718.8 349.3 L716.0 346.9 L714.1 344.7 L712.5 341.9 L710.1 338.5 L708.3 335.2 L705.7 332.6 L705.4 330.3 L702.7 327.2 L699.1 326.2 L697.3 324.8 L694.7 324.1 L691.0 323.2 L688.7 321.7 L686.6 321.0 L683.1 318.5 L680.2 316.9 L677.6 316.4 L676.4 314.3 L674.3 310.9 L673.5 308.0 L674.3 304.7 L675.6 302.5 L676.0 298.6 L678.1 295.2 L680.2 291.7 L681.1 288.7 L683.7 286.1 L685.9 283.5 L687.6 280.0 L690.0 277.5 L693.4 274.5 L690.0 270.5 L693.0 269.9 L697.2 268.9 L698.6 267.6 L702.7 266.8 L705.7 263.9 L708.0 259.7 L710.9 256.8 L713.3 252.7 L715.1 250.9 L719.0 247.8 L721.2 245.1 L725.6 244.5 L727.9 243.2 L732.4 241.4 L736.1 239.6 L739.4 239.2 L742.3 237.8 L742.9 234.3 L744.6 229.7 L745.2 226.6 L747.1 223.1 L743.1 222.7 L739.3 223.2 L735.3 222.5 L731.1 221.9 L727.4 224.3 L724.0 224.2 L721.6 226.8 L717.5 226.7 L713.4 225.3 L710.0 225.0 L706.1 224.0 L702.5 222.8 L698.7 221.5 L695.6 221.1 L693.0 221.8 L689.6 224.8 L687.1 226.4 L685.0 227.5 L683.4 230.3 L681.1 233.8 L678.7 236.2 L678.1 239.6 L676.2 244.2 L672.6 244.5 L670.1 244.9 L667.2 245.7 L662.4 245.7 L659.3 245.5 L658.8 242.5 L656.7 239.7 L655.3 237.1 L656.5 233.8 L658.0 229.1 L654.1 227.7 L650.9 225.7 L647.7 221.7 L644.2 221.8 L641.5 221.0 L637.4 221.8 L634.7 221.5 L631.2 222.5 L628.0 221.9 L624.5 222.2 L622.3 219.9 L619.2 218.8 L616.1 217.4 L613.8 214.6 L611.3 210.5 L612.6 207.1 L612.5 202.8 L613.6 199.7 L615.4 194.9 L618.7 193.9 L621.7 194.7 L625.4 193.4 L628.4 193.4 L632.8 192.3 L635.6 190.8 L638.5 189.1 L641.7 188.0 L644.8 187.4 L646.7 183.7 L649.5 181.4 L650.8 177.3 L652.0 174.3 L654.3 170.5 L654.1 167.1 L656.2 164.3 L660.6 160.5 L662.8 158.5 L665.8 155.5 L669.3 152.9 L671.5 151.1 L674.0 148.4 L675.3 145.9 L677.4 142.4 L679.2 140.7 L682.3 137.6 L683.6 135.2 L687.1 133.1 L690.0 129.4 L693.6 129.2 L697.1 129.0 L699.6 127.6 L703.3 127.8 L705.6 126.5 L709.2 125.7 L712.5 127.9 L715.2 130.6 L716.9 133.4 L719.1 137.4 L718.1 140.6 L715.4 145.0 L713.6 147.7 L711.7 151.8 L710.2 153.5 L709.2 157.4 L708.9 161.6 L706.8 164.3 L707.0 167.2 L706.3 170.0 L706.0 173.5 L705.5 176.6 L703.5 180.3 L702.8 183.3 L701.5 186.1 L701.4 189.6 L705.8 187.5 L708.6 186.7 L712.0 184.6 L713.9 182.0 L716.7 180.3 L719.8 178.5 L721.4 175.8 L723.5 173.3 L726.2 171.2 L728.1 169.1 L730.0 167.4 L731.5 164.0 L735.0 162.2 L736.9 159.4 L738.5 157.8 L741.3 156.9 L743.7 155.3 L746.9 153.1 L750.3 151.6 L752.2 150.3 L754.9 149.2 L757.4 148.4 L760.7 146.7 L763.4 146.2 L766.1 144.1 L769.7 142.5 L771.5 139.8 M208.1 109.6 L211.9 109.6 L216.5 109.6 L219.4 111.9 L221.9 113.7 L224.6 115.9 L226.9 118.0 L229.5 119.0 L232.4 120.5 L236.3 121.0 L238.7 122.4 L241.5 122.9 L244.5 124.1 L247.8 125.3 L251.4 127.2 L254.5 128.6 L258.3 129.5 L261.8 130.9 L265.6 131.2 L268.7 132.6 L272.2 132.2 L274.9 132.5 L279.0 132.7 L281.8 132.9 L285.4 132.6 L285.4 137.9 L289.3 138.0 L292.3 138.7 L295.9 138.9 L300.5 137.0 L304.3 135.8 L307.8 134.9 L311.3 133.2 L314.7 131.6 L317.8 130.2 L320.1 128.9 L323.1 127.4 L325.9 125.8 L329.0 124.5 L331.4 123.2 L334.2 122.1 L337.3 120.8 L339.8 119.0 L343.1 118.0 L346.4 117.9 L349.5 116.9 L352.4 115.9 L356.6 115.4 L360.7 114.9 L363.9 114.7 L367.2 115.6 L369.8 115.6 L373.3 115.5 L377.0 114.9 L379.8 115.2 L383.5 114.7 L387.4 114.8 L391.0 114.5 L394.2 114.2 L397.2 113.3 L400.1 113.1 L403.6 113.3 L406.7 112.7 L409.2 110.9 L412.7 109.1 L415.1 107.5 L418.8 106.3 L422.2 104.7 L425.5 103.4 L428.2 101.0 L430.4 98.4 L433.7 95.1 L436.0 92.9 L438.3 89.4 L441.2 86.5 L443.9 84.6 L447.5 83.4 L450.4 81.3 L452.6 80.4 L455.8 78.2 L457.8 75.4 L459.9 72.4 L462.0 69.8 L461.0 67.7 L458.4 65.3 L455.8 63.6 L453.1 60.6 L449.9 57.7 L447.5 55.2 L445.4 50.0 M206.0 211.7 L210.3 210.9 L214.4 210.7 L219.0 210.1 L222.7 208.6 L226.9 208.2 L231.1 207.5 L233.9 208.8 L237.4 210.7 L241.3 211.4 L245.7 211.7 L248.2 210.8 L250.9 208.6 L254.1 207.5 L257.9 206.2 L262.4 204.4 L266.5 203.9 L270.8 203.4 L272.9 207.5 L273.8 210.8 L275.0 213.8 L272.8 216.3 L270.7 219.2 L268.7 222.2 L265.5 224.6 L263.3 226.5 L260.4 228.5 L257.6 231.0 L254.1 233.7 L256.2 238.9 L255.0 242.0 L254.1 245.2 L255.1 249.4 L257.4 251.6 L259.3 253.5 L262.2 255.5 L264.5 257.7 L266.9 259.7 L269.6 261.3 L272.9 262.9 L276.7 262.0 L281.3 261.9 L285.1 260.4 L289.6 259.8 L293.5 259.0 L298.0 257.7 L302.4 256.0 L306.4 254.6 L309.6 253.0 L312.6 251.4 L314.7 247.3 L315.8 242.0 L316.1 239.3 L316.3 236.1 L316.8 232.6 L317.5 228.6 L317.9 224.3 L317.9 220.7 L318.9 218.0 L320.5 214.7 L323.1 211.7 L327.7 211.1 L331.4 209.6 L336.0 207.7 L339.8 206.5 L341.1 210.4 L341.9 213.8 L344.0 218.0 L342.2 221.4 L339.8 224.3 L337.4 227.1 L335.6 230.5 L333.8 233.9 L331.4 236.8 L327.3 240.0 L323.1 244.1 L318.9 247.3 L314.7 249.4 M331.4 236.8 L333.9 238.3 L336.7 239.8 L339.8 241.0 L342.7 242.3 L345.5 243.9 L348.2 245.2 L350.5 246.6 L353.9 248.0 L356.5 249.4 L359.7 251.0 L362.0 251.9 L364.9 253.5 L367.3 255.2 L370.7 256.4 L373.3 257.7 L376.3 256.7 L379.5 255.6 L382.0 254.3 L384.8 253.0 L387.9 251.4 L391.2 249.5 L394.2 247.3 L394.6 243.4 L395.4 240.5 L396.3 236.8 L398.4 233.9 L400.4 230.5 L403.5 227.3 L406.7 224.3 L410.3 220.8 L413.0 218.0 L415.8 215.0 L419.3 211.7 L422.5 208.5 L425.5 205.5 L429.1 204.7 L432.7 204.4 L436.0 203.4 M212.3 251.4 L215.9 254.5 L218.5 257.7 L221.6 260.7 L223.8 262.9 L226.9 266.1 L231.1 268.2 L230.1 270.9 L229.0 274.4 L229.9 279.0 L231.1 282.8 L235.3 287.0 L236.7 290.8 L237.4 295.4 L233.2 299.5 L231.2 296.6 L230.4 293.8 L228.2 291.3 L226.9 289.1 M275.0 261.9 L278.9 263.7 L282.2 264.4 L285.4 266.1 L286.7 269.1 L288.5 271.2 L289.6 274.4 L292.1 277.6 L294.8 280.2 L298.0 282.8 L299.9 286.1 L302.2 289.1 L301.8 292.6 L300.7 295.9 L300.1 299.5 L302.3 302.8 L304.3 305.8 L304.9 308.8 L305.7 311.7 L306.4 315.0 M352.4 253.5 L353.4 256.9 L354.0 261.0 L354.4 264.0 L353.6 267.7 L352.9 270.6 L352.4 274.4 L348.0 273.7 L344.0 272.4 L339.5 273.0 L335.6 273.4 L331.4 274.4 L332.7 276.9 L334.2 279.9 L335.6 282.8 L333.5 286.3 L331.4 289.1 L332.9 291.9 L333.5 295.4 L337.2 297.6 L339.8 299.5 L342.4 303.0 L344.0 305.8 L345.4 308.6 L347.2 312.4 L348.2 315.0 M352.4 274.4 L355.3 276.2 L357.4 277.7 L360.7 278.6 L363.8 279.6 L366.6 281.7 L369.1 282.8 L371.6 284.7 L374.5 285.5 L377.4 287.0 L380.4 288.6 L383.3 289.6 L385.8 291.2 L387.2 293.6 L388.4 296.7 L390.0 299.5 L389.6 303.6 L390.0 307.9 L389.3 311.1 L387.9 315.0 M231.1 310.0 L228.0 312.9 L226.0 315.7 L222.7 318.4 L220.6 321.0 L218.2 324.4 L216.5 326.7 L214.6 329.6 L212.3 333.0 L210.3 336.3 L208.1 339.3 L210.1 341.7 L211.0 344.2 L212.9 347.5 L214.4 349.7 L213.6 353.5 L212.3 358.1 L214.2 360.8 L216.5 364.4 L214.7 367.1 L213.3 369.7 L212.3 372.7 L215.2 375.8 L218.5 379.0 L216.1 380.1 L213.1 381.7 L210.2 383.2 L206.0 385.3 M214.4 362.3 L217.1 361.5 L220.6 360.2 L224.2 357.4 L226.9 355.0 L230.9 354.1 L235.3 353.9 L239.5 358.1 L240.1 362.0 L241.5 366.4 L244.0 368.2 L246.8 368.9 L249.9 370.6 L254.5 372.1 L258.3 372.7 L262.1 372.5 L266.6 372.7 L268.5 375.4 L269.5 378.5 L270.8 381.1 L269.9 384.8 L268.7 389.4 L271.0 392.9 L272.9 395.7 L276.0 397.7 L279.2 399.9 L282.2 401.8 L285.2 402.4 L287.5 404.1 L290.9 403.0 L293.8 402.0 L297.1 401.1 L299.4 399.6 L302.2 397.8 L305.7 398.5 L308.4 399.9 L312.5 399.3 L316.8 397.8 L318.9 393.6 L316.5 390.8 L314.8 387.9 L312.6 385.3 L314.0 381.8 L314.7 379.0 L319.0 378.0 L323.1 376.9 L326.8 377.2 L331.4 376.9 L332.8 374.1 L333.5 370.6 L332.2 366.5 L331.4 362.3 L332.1 358.3 L333.5 353.9 L330.5 351.2 L327.3 347.6 L327.9 344.2 L329.4 341.4 L331.0 338.7 L333.5 335.1 L336.8 333.7 L339.8 333.0 M316.8 397.8 L319.7 399.9 L323.1 402.0 L327.3 402.6 L331.4 404.1 L335.6 404.5 L339.8 404.1 L344.1 405.1 L348.2 406.2 L351.2 407.5 L353.5 409.3 L356.5 410.4 L360.4 411.8 L364.9 412.4 L369.5 413.5 L373.3 414.5 L376.4 415.1 L379.5 416.6 L382.3 417.9 L385.8 418.7 L387.4 421.6 L388.2 424.5 L390.0 427.1 L394.2 430.0 M331.4 336.1 L336.1 336.5 L339.8 337.2 L344.3 336.4 L348.2 336.1 L352.3 335.4 L356.5 335.1 L360.8 333.1 L364.9 332.0 L367.0 328.8 L370.0 327.4 L373.3 326.3 L377.0 325.8 L381.6 324.6 L385.2 323.2 L387.9 322.5 L388.5 318.4 L388.9 314.2 L387.9 310.0 M406.7 385.3 L410.2 386.0 L413.0 387.4 L417.6 388.4 L421.3 389.4 L424.4 387.5 L427.6 385.3 L431.8 389.4 L436.0 391.5 M306.4 473.1 L309.5 472.2 L312.6 471.0 L316.2 472.6 L320.0 474.0 L323.1 475.2 L326.9 474.9 L331.4 475.2 L335.6 479.4 L338.7 480.3 L341.9 481.4 L345.5 479.6 L348.2 477.3 L350.2 474.0 L352.4 471.0 L355.2 468.0 L358.6 464.7 L360.1 461.3 L360.7 458.5 L364.8 457.3 L369.1 456.4 L371.3 453.0 L373.3 450.1 L374.2 447.5 L375.9 444.7 L377.4 441.7 L381.6 437.5 L385.8 433.4 L387.9 429.2 L383.7 425.0 M306.4 473.1 L304.8 477.6 L304.3 481.4 L308.4 485.6 L305.9 487.2 L302.9 489.6 L300.1 491.9 L299.4 495.4 L298.0 498.2 L299.9 501.4 L302.2 504.4 L305.3 506.3 L308.4 508.6 L309.4 511.7 L310.5 514.9 L309.5 519.5 L308.4 523.3 L307.6 527.0 L306.4 531.6 L305.7 535.4 L305.6 538.4 L304.9 541.8 L304.3 545.0 M310.5 514.9 L313.4 514.5 L316.8 514.9 L320.1 515.7 L323.1 517.0 L327.4 516.6 L331.4 517.0 L336.1 516.1 L339.8 514.9 L343.8 513.4 L348.2 512.8 L351.3 511.8 L353.6 509.6 L356.5 508.6 L361.2 508.5 L364.9 507.6 L369.0 508.8 L373.3 510.7 L377.7 511.2 L381.6 510.7 L384.6 511.6 L387.9 512.8 L391.4 516.2 L394.2 519.1 L398.3 523.3 L402.5 527.4 L405.0 530.7 L406.7 533.7 L410.9 537.9 L412.7 541.9 L415.1 545.0 M385.8 466.8 L390.0 471.0 L389.3 474.9 L387.9 479.4 L388.6 483.2 L390.0 487.7 L394.2 491.9 L397.6 494.4 L400.4 496.1 L404.6 500.3 L406.2 503.6 L406.7 506.5 L410.9 510.7 L412.1 515.1 L413.0 519.1 L413.0 522.6 L412.6 525.6 L413.0 529.5 L413.8 532.9 L414.3 536.0 L414.3 538.5 L415.0 541.9 L415.1 545.0 M410.9 508.6 L412.9 506.2 L414.5 503.1 L416.1 501.3 L417.6 498.6 L419.3 496.1 L421.8 493.9 L424.9 492.3 L427.6 489.8 L431.9 488.7 L436.0 487.7 M402.5 425.0 L406.7 429.2 L410.6 429.9 L415.1 431.3 L419.2 432.0 L423.4 433.4 L426.1 434.4 L429.0 436.2 L431.8 437.5 L436.0 441.7 M436.0 450.1 L433.4 451.9 L430.0 454.1 L427.6 456.4 L425.1 458.3 L422.4 460.7 L419.3 462.6 L416.5 464.1 L413.7 465.4 L410.9 466.8 L407.0 468.0 L402.5 468.9 L398.4 467.4 L394.2 466.8 L389.7 467.5 L385.8 468.9 M239.5 545.0 L241.3 541.6 L242.5 538.9 L243.6 535.8 L246.9 534.5 L249.1 532.6 L252.0 531.6 L254.7 530.7 L258.1 528.6 L260.4 527.4 L264.5 523.3 L268.7 525.4 L268.0 529.2 L266.6 533.7 L267.4 537.4 L267.8 541.2 L268.7 545.0 M243.6 540.0 L240.9 542.1 L238.5 545.0 L235.3 547.3 L232.6 550.2 L229.3 552.5 L226.9 554.6 L225.1 557.5 L223.8 560.9 L224.3 564.6 L225.6 568.1 L225.9 571.4 L226.0 574.5 L226.3 578.0 L226.9 581.8 L226.2 585.3 L225.1 588.5 L224.8 592.3 L222.1 595.6 L218.5 598.5 L215.0 601.0 L212.3 602.7 L209.1 603.7 L206.0 604.8 M241.5 566.1 L243.9 564.5 L247.0 563.1 L249.9 560.9 L254.2 559.9 L258.3 558.8 L262.2 557.9 L265.6 557.3 L268.7 556.7 L272.0 559.3 L275.0 560.9 L278.8 560.7 L282.3 559.7 L285.4 559.9 L288.5 557.6 L291.7 554.6 L295.1 552.0 L298.0 549.4 L300.9 549.0 L304.2 548.5 L307.8 548.8 L310.5 548.4 L314.7 547.0 L318.9 546.3 L321.9 544.1 L325.2 542.1 L327.3 540.0 M241.5 566.1 L243.1 569.1 L244.5 572.3 L246.5 575.0 L247.8 577.6 L250.6 579.4 L253.6 580.5 L256.2 581.8 L259.3 581.8 L263.6 581.9 L266.6 581.8 L269.6 583.0 L272.9 583.9 L273.6 586.9 L275.0 590.2 L273.7 592.8 L271.7 595.9 L270.3 598.0 L268.7 600.6 L266.9 603.5 L265.9 606.0 L264.5 609.0 L267.1 612.3 L268.7 615.3 L270.2 618.4 L271.4 621.3 L272.9 623.6 L277.1 625.7 L275.2 628.7 L272.9 632.0 L271.5 635.2 L270.2 637.1 L268.7 640.4 L267.0 643.1 L264.3 645.9 L262.4 648.7 L259.0 651.5 L256.2 653.9 L253.5 655.9 L250.6 657.8 L247.8 660.0 M268.7 640.4 L271.8 639.2 L275.6 638.6 L279.2 638.3 L283.1 637.1 L286.2 636.7 L289.6 636.2 L294.2 636.9 L298.0 638.3 L302.0 637.1 L306.4 636.2 L308.9 637.1 L311.9 638.5 L314.7 640.4 L318.9 636.2 L322.1 633.7 L325.2 632.0 L328.1 629.9 L331.4 627.8 L334.6 626.0 L336.7 625.3 L339.8 623.6 L342.5 621.9 L346.1 619.4 L349.3 616.1 L352.4 613.2 L356.9 614.5 L360.7 615.3 L363.7 618.7 L367.0 621.5 L369.8 622.7 L373.3 623.6 L376.1 622.5 L378.6 620.7 L381.6 619.4 L384.7 618.1 L387.4 616.8 L390.0 615.3 L392.9 613.6 L395.5 611.3 L398.3 609.0 L402.4 607.5 L406.7 606.9 L409.8 604.5 L412.6 603.1 L415.1 600.6 L418.4 599.3 L421.3 598.5 L424.3 599.5 L427.6 600.6 L431.4 601.6 L436.0 602.7 M415.1 540.0 L416.9 543.5 L417.5 547.4 L419.3 550.5 L417.8 554.2 L416.0 557.1 L415.1 560.9 L412.8 563.3 L409.0 565.1 L406.7 567.2 L402.5 571.4 L406.6 572.1 L410.9 573.5 L412.6 576.4 L415.1 579.7 L415.8 583.6 L417.2 588.1 L418.6 592.1 L419.3 596.4 L421.3 600.6 M291.7 638.3 L293.2 641.1 L293.8 644.5 L294.1 647.4 L294.0 650.6 L293.9 653.9 L293.3 657.1 L293.8 660.0 M206.0 548.4 L209.2 548.0 L212.2 547.7 L215.4 547.1 L218.5 546.7 L221.5 545.9 L225.4 545.4 L228.8 545.5 L231.8 545.3 L235.3 544.6 L237.9 543.0 L241.1 541.5 L243.6 540.0 M206.0 696.4 L208.7 698.7 L212.3 700.6 L216.5 701.3 L220.6 702.7 L223.3 700.0 L226.9 696.4 L231.1 694.4 L234.1 696.2 L237.4 698.5 L240.7 701.1 L243.6 702.7 L246.6 702.1 L249.9 700.6 L254.1 696.4 L258.1 698.0 L262.4 698.5 L265.8 696.1 L268.7 694.4 L271.9 692.6 L273.9 691.7 L277.1 690.2 L281.3 686.0 L285.4 688.1 L289.6 683.9 L293.2 682.4 L295.9 681.8 L299.5 683.1 L302.2 683.9 L305.5 680.6 L308.4 677.6 L312.6 675.5 L316.8 679.7 L315.6 682.6 L314.7 686.0 L316.8 688.9 L318.9 692.3 L322.7 693.2 L327.3 694.4 L331.0 695.6 L335.6 696.4 L339.8 700.6 L335.6 702.7 L333.2 705.6 L331.4 709.0 L333.5 712.4 L335.6 715.3 L337.7 719.4 L340.8 721.2 L343.0 722.6 L346.1 723.6 L349.6 725.8 L352.4 727.8 L355.6 729.4 L357.7 730.3 L360.7 732.0 L364.5 731.7 L368.1 732.5 L371.2 732.0 L375.6 731.6 L379.5 732.0 L382.2 730.3 L385.8 727.8 M268.7 640.0 L270.2 643.9 L270.8 648.4 L274.0 648.0 L276.6 648.0 L280.4 648.1 L283.5 648.6 L286.5 647.9 L289.6 648.4 L290.6 651.6 L292.3 655.7 L293.8 658.8 L297.2 659.0 L299.7 659.2 L303.6 659.9 L306.4 659.9 L310.4 658.6 L314.7 657.8 L317.2 660.6 L319.9 663.0 L320.3 666.2 L320.0 669.5 L319.9 673.5 L317.4 675.1 L314.7 677.6 L312.6 675.5 M519.9 180.0 L522.6 181.9 L524.9 183.5 L528.1 185.2 L530.4 186.3 L531.5 190.3 L532.4 194.6 L531.2 196.9 L529.4 199.5 L528.0 202.5 L526.2 205.1 L523.7 206.1 L520.8 208.2 L517.8 209.3 L516.4 213.1 L515.7 217.6 L514.6 220.9 L514.6 224.2 L513.6 228.1 L513.0 231.1 L511.5 234.4 L514.4 236.1 L517.8 238.5 L520.0 240.6 L523.0 242.7 L524.2 247.0 L526.2 251.1 L524.4 254.9 L523.0 259.4 L521.5 263.7 L519.9 267.8 L520.8 270.5 L521.0 273.7 L521.9 276.9 L522.0 280.4 L521.9 284.7 L522.0 288.7 L522.2 292.3 L522.4 296.1 L522.0 300.0 M430.0 205.1 L433.2 203.8 L436.5 203.3 L439.6 201.5 L442.5 200.9 L445.4 198.7 L448.8 196.7 L452.4 197.9 L455.1 198.8 L457.2 195.9 L459.3 192.5 L461.7 189.9 L465.0 186.7 L467.6 184.2 L471.8 180.0 M446.7 200.9 L445.1 204.7 L443.5 207.7 L442.5 211.4 L441.6 215.1 L440.7 218.1 L439.6 221.1 L439.4 224.8 L438.4 228.1 L438.1 231.7 L437.3 235.1 L436.5 238.6 L436.3 242.7 L435.8 246.2 L436.0 249.9 L435.9 253.5 L435.8 256.2 L435.8 260.1 L435.2 263.6 L435.4 266.6 L435.3 269.9 L435.4 274.0 L435.9 277.3 L436.3 280.4 L436.4 283.8 L435.3 286.6 L435.7 290.2 L434.7 293.9 L434.2 297.1 L434.2 300.0 M522.0 288.7 L525.0 289.1 L528.7 290.2 L531.2 290.6 L534.5 290.8 L538.1 291.9 L540.3 292.9 L543.7 293.5 L547.1 293.9 L549.5 292.3 L552.6 290.7 L555.4 288.7 L558.5 287.0 L561.4 284.9 L563.8 282.4 L565.3 279.7 L566.9 277.0 L568.0 274.1 L569.9 271.4 L571.6 269.2 L572.4 266.5 L574.3 263.6 L576.4 260.6 L578.4 257.4 L580.8 254.7 L582.8 252.2 L584.7 249.0 L587.2 246.5 L590.1 244.7 L593.1 242.7 L595.5 240.2 L598.6 238.9 L601.4 236.4 L604.5 235.0 L607.4 233.8 L609.8 232.3 L613.0 228.7 L616.1 226.0 L620.3 221.8 M588.9 180.0 L590.3 183.5 L592.0 187.3 L593.1 190.5 L594.0 194.7 L595.2 198.8 L597.4 202.2 L599.3 205.1 L602.6 206.7 L605.3 208.0 L607.7 209.3 L609.6 212.2 L611.9 215.5 L613.5 218.7 L616.1 221.8 M607.7 209.3 L609.1 205.5 L611.0 202.7 L611.9 198.8 L613.7 196.5 L614.6 193.9 L616.2 190.9 L618.2 188.4 L620.2 185.3 L622.4 182.7 L624.4 180.0 M639.1 180.0 L642.0 182.2 L644.7 184.2 L647.4 186.3 L650.9 185.4 L653.5 185.3 L656.5 184.8 L660.0 184.2 M432.1 345.2 L435.7 343.5 L439.0 342.0 L442.5 340.0 L445.6 338.8 L449.0 337.9 L452.4 337.8 L455.1 336.8 L458.8 335.5 L463.5 334.7 L467.4 334.3 L470.5 333.2 L473.9 332.6 L476.3 330.1 L477.7 327.3 L480.2 324.3 L483.1 324.0 L486.0 323.5 L489.3 323.1 L492.7 322.2 L496.7 321.5 L499.4 320.5 L503.2 320.1 L507.0 318.9 L510.4 317.6 L513.6 315.9 L516.5 315.0 L519.9 313.8 L519.8 310.4 L520.6 306.4 L520.9 303.4 L521.5 299.3 L522.0 295.0 M436.3 295.0 L436.4 298.0 L437.8 301.0 L437.7 304.7 L438.4 307.5 L438.2 311.2 L437.8 315.2 L436.8 318.2 L436.3 322.2 L435.2 325.3 L433.7 328.0 L433.6 331.2 L432.1 334.7 L433.2 337.9 L433.8 342.1 L434.2 345.2 L436.2 348.1 L437.1 349.9 L438.8 352.6 L440.5 355.6 L441.7 359.1 L442.9 362.7 L444.6 366.1 L446.6 369.3 L447.8 372.6 L448.9 375.8 L450.9 378.6 L452.6 381.8 L455.1 384.9 L458.2 387.2 L460.9 390.8 L463.5 393.3 L465.8 395.2 L469.1 396.0 L471.5 398.3 L473.9 399.5 L477.1 401.2 L480.6 402.5 L484.4 403.7 L487.3 404.2 L490.5 405.6 L493.4 406.6 L496.0 407.5 L499.0 407.9 L502.7 408.1 L506.0 407.0 L510.1 406.8 L513.6 406.9 L517.6 406.5 L521.0 406.2 L524.4 405.6 L528.3 404.8 L531.9 406.6 L534.5 408.9 L533.7 411.7 L532.4 415.0 M555.4 320.1 L557.2 317.4 L559.8 314.6 L562.1 312.0 L563.8 309.6 L566.2 306.8 L569.2 304.3 L572.2 301.3 L575.7 298.6 L578.4 295.0 M555.4 321.1 L557.5 323.6 L560.5 326.1 L563.4 328.2 L565.7 330.4 L568.0 332.6 L572.2 334.1 L576.4 334.7 L579.4 333.2 L582.3 331.6 L584.7 330.5 L589.2 329.8 L593.1 328.5 L597.3 324.3 L601.2 323.5 L605.6 323.2 L608.6 324.8 L611.9 326.4 L614.8 329.0 L618.2 332.6 L622.0 334.1 L626.5 334.7 L629.7 332.7 L632.8 331.6 L637.0 328.5 L639.1 326.4 L641.5 328.2 L645.1 331.0 L647.4 332.6 L649.7 334.0 L653.3 335.0 L655.8 336.8 L660.0 338.9 M576.4 334.7 L577.0 337.7 L577.0 341.4 L577.2 345.0 L577.5 347.8 L578.4 351.4 L581.8 351.8 L584.7 351.4 L587.4 353.3 L590.7 354.0 L593.1 355.6 L596.9 354.9 L601.4 353.5 L603.7 350.8 L605.6 347.3 L604.1 344.2 L603.5 341.0 L600.3 338.9 L597.3 336.8 M578.4 351.4 L577.1 354.5 L575.9 358.1 L574.3 361.9 L574.1 364.9 L573.3 368.9 L573.2 372.4 L571.8 375.9 L570.1 378.6 L565.9 382.8 L568.9 384.7 L572.2 387.0 L574.8 389.3 L578.1 390.9 L580.5 393.3 L584.9 394.2 L588.9 395.4 L590.0 398.4 L591.4 401.0 L593.1 403.7 L593.5 407.3 L594.1 411.6 L595.2 415.0 M637.0 328.5 L638.1 332.8 L639.1 336.8 L639.8 340.3 L640.3 344.1 L641.2 347.3 L641.6 350.4 L642.2 354.3 L643.3 357.7 L644.3 361.2 L644.2 364.4 L645.3 368.2 L646.3 371.5 L648.0 375.6 L649.5 378.6 L651.6 382.1 L653.7 384.9 L657.2 386.6 L660.0 389.1 M430.0 489.4 L434.6 488.8 L438.4 487.4 L440.7 485.7 L443.7 484.8 L446.7 483.2 L449.5 481.9 L452.6 480.5 L455.1 479.0 L459.6 479.1 L463.5 480.0 L467.7 481.0 L471.8 481.1 L476.1 481.2 L480.2 482.1 L484.7 483.1 L488.5 483.2 L492.7 487.4 L496.7 488.4 L501.1 489.4 L505.2 488.0 L509.4 487.4 L513.7 486.1 L517.8 485.3 L522.0 489.4 L524.8 488.5 L528.3 487.4 L531.7 484.3 L534.5 481.1 L536.9 484.4 L538.7 487.4 L540.8 490.9 L542.9 493.6 L544.6 496.5 L545.5 499.0 L547.1 502.0 L551.7 501.2 L555.4 499.9 L558.1 498.1 L561.0 496.7 L563.8 495.7 L565.9 493.6 L568.3 491.9 L571.0 489.9 L573.9 486.9 L576.4 485.3 L579.3 483.4 L581.5 482.5 L584.7 481.1 L587.5 479.7 L590.6 478.0 L593.1 476.9 L595.8 475.1 L599.1 472.8 L601.4 470.6 L603.5 468.0 L605.6 464.4 L604.1 461.5 L603.5 458.1 L600.7 454.7 L597.3 451.8 L598.2 448.9 L600.0 446.7 L601.4 443.5 L599.4 440.3 L597.4 437.6 L595.2 435.1 L592.2 432.8 L588.9 430.9 L586.2 428.9 L582.6 426.7 L581.8 422.3 L580.5 418.4 L578.7 415.6 L576.4 412.1 L574.3 410.0 M605.6 470.6 L609.8 471.6 L614.0 472.7 L617.2 470.9 L619.9 468.1 L622.3 466.4 L625.0 467.9 L627.9 468.9 L630.7 470.6 L634.8 470.6 L639.1 470.6 L643.0 471.7 L645.8 472.3 L649.5 472.7 L652.8 471.9 L656.1 471.2 L660.0 470.6 M547.1 502.0 L550.6 505.4 L553.4 508.3 L554.5 511.3 L554.3 515.1 L555.4 518.7 L556.4 522.7 L557.3 526.6 L557.5 530.0 M534.5 410.0 L535.6 413.6 L537.6 416.5 L538.7 420.5 L543.0 421.9 L547.1 422.5 L551.1 423.1 L555.4 424.6 L558.7 425.9 L561.3 427.6 L563.8 428.8 L567.9 430.3 L572.2 430.9 L575.4 429.1 L577.3 428.5 L580.5 426.7 L583.3 423.5 L586.6 421.4 L588.9 418.4 L592.0 416.7 L594.6 415.3 L597.3 414.2 L600.8 412.0 L603.5 410.0 M557.5 525.0 L554.9 526.7 L552.4 529.1 L549.2 531.3 L547.0 534.5 L545.0 537.5 L544.5 541.3 L543.9 544.3 L542.9 548.0 L544.8 550.8 L546.0 552.8 L547.5 555.7 L549.2 558.5 L550.1 562.8 L551.3 566.8 L552.4 569.3 L553.6 572.7 L555.4 575.2 L557.8 578.7 L559.6 581.4 L558.6 584.4 L557.5 587.7 L560.4 588.0 L563.8 587.7 L560.4 591.2 L557.5 594.0 L556.7 598.1 L555.4 602.4 L556.7 606.6 L557.5 610.7 M430.0 600.3 L432.7 599.0 L436.0 597.0 L438.4 596.1 L442.7 597.6 L446.7 598.2 L449.3 595.7 L452.3 593.6 L455.1 591.9 L457.6 590.8 L460.8 589.3 L463.5 587.7 L467.5 588.7 L471.8 589.8 L476.0 594.0 L473.9 598.2 L475.5 601.1 L478.1 604.4 L477.2 607.1 L476.0 610.7 L474.2 614.3 L471.8 617.0 L470.5 619.8 L469.0 623.1 L467.6 625.4 L469.2 628.4 L469.7 631.6 L472.8 631.0 L476.0 629.5 L479.1 628.1 L482.3 627.4 L486.4 629.5 L490.6 625.4 L493.8 624.7 L496.9 623.3 L501.1 622.0 L505.3 621.2 L509.6 620.2 L513.6 619.1 L516.5 618.2 L519.9 617.0 L523.2 616.4 L526.2 614.9 L529.6 612.6 L532.4 610.7 L535.5 610.6 L538.7 609.7 L543.4 611.0 L547.1 612.8 L551.2 611.5 L555.4 610.7 L560.1 609.5 L563.8 608.6 L568.0 612.8 L570.5 610.9 L574.0 610.0 L576.4 608.6 L580.5 612.8 L579.5 617.4 L578.4 621.2 L577.7 625.6 L576.4 629.5 L580.5 631.6 L584.6 630.5 L588.9 629.5 L593.0 628.8 L597.3 627.4 L601.4 626.1 L605.6 625.4 L610.2 626.8 L614.0 627.4 L617.4 624.6 L620.3 621.2 M655.8 525.0 L652.8 526.8 L650.2 528.7 L648.3 531.4 L645.3 533.4 L644.2 537.1 L643.3 541.7 L642.2 544.2 L640.1 547.2 L639.1 550.1 L635.6 553.1 L632.8 556.4 L631.7 561.0 L630.7 564.7 L629.6 569.0 L628.6 573.1 L629.3 577.1 L630.7 581.4 L629.2 584.7 L627.6 586.7 L626.5 589.8 L625.0 593.3 L623.8 596.4 L622.3 600.3 L621.5 604.3 L620.3 608.6 L619.3 612.7 L618.2 617.0 L620.3 621.2 L623.2 620.8 L626.5 621.2 L629.3 621.9 L632.6 622.4 L635.7 623.1 L639.1 623.3 L642.8 622.8 L646.3 623.2 L649.5 623.3 L653.5 624.2 L656.2 625.1 L660.0 625.4 M501.1 635.0 L500.7 638.9 L499.4 641.8 L499.0 645.5 L498.3 648.6 L497.2 652.7 L496.9 655.9 L493.6 659.3 L490.6 662.2 L489.5 664.7 L487.7 667.0 L486.3 669.7 L484.4 672.6 L484.2 675.8 L483.8 679.1 L482.8 681.7 L482.3 685.2 L479.0 687.6 L476.8 689.1 L473.9 691.4 L470.9 693.7 L468.3 695.7 L465.5 697.7 L464.5 701.2 L463.5 704.0 L460.2 706.4 L458.0 708.6 L455.1 710.3 L450.9 714.4 L446.4 714.0 L442.5 714.4 L440.3 717.3 L438.4 720.7 L434.2 722.8 L430.0 724.9 M655.0 111.7 L657.4 108.8 L659.3 105.3 L661.9 102.1 L663.7 98.8 L666.2 97.1 L669.8 94.5 L672.3 92.3 L675.2 90.9 L678.0 89.7 L681.0 87.9 L684.1 85.9 L686.8 83.7 L689.6 81.5 L692.5 79.1 L696.1 77.1 L699.0 75.3 L702.6 72.8 L705.5 71.6 L709.1 70.6 L713.4 68.5 L716.5 66.3 L719.9 64.1 L721.9 62.2 L724.2 59.8 L728.6 57.7 L732.6 56.8 L737.2 55.5 L741.0 54.6 L743.7 53.3 L746.7 55.1 L750.2 57.7 L753.7 55.5 L756.7 53.3 L758.9 51.2 M756.7 53.3 L759.3 56.1 L760.7 59.6 L763.2 62.0 L764.9 65.0 L766.5 67.9 L767.5 70.6 L769.2 74.1 L771.8 77.1 L774.1 80.7 L776.2 83.6 L778.1 87.3 L780.5 90.1 L782.9 93.1 L784.8 96.6 L787.0 99.4 L789.1 103.1 L790.0 106.6 L791.3 109.6 L789.1 113.9 L786.8 115.9 L784.8 118.2 L783.1 121.9 L780.5 124.7 L778.5 126.8 L776.2 129.1 L774.3 132.7 L771.8 135.5 M793.5 107.4 L795.4 104.1 L796.1 102.0 L797.8 98.8 L799.6 95.9 L800.8 93.3 L802.1 90.1 L803.7 86.2 L804.3 81.5 L807.8 79.8 L810.8 78.2 L813.5 79.4 L816.9 80.6 L819.4 81.5 L822.7 82.8 L825.1 83.8 L828.1 84.7 L831.4 84.3 L834.6 83.6 L837.6 80.6 L841.1 78.2 L839.3 74.8 L837.8 70.6 L834.6 66.3 L837.6 65.1 L841.1 64.1 L844.4 62.6 L847.0 61.4 L849.7 59.8 L853.0 58.4 L857.0 57.1 L860.5 55.5 L864.1 54.2 L867.4 53.0 L871.4 51.2 L875.7 49.0 M871.4 51.2 L871.8 55.2 L872.7 58.7 L873.5 62.0 L874.3 64.5 L875.2 68.3 L876.0 71.2 L877.1 73.6 L877.8 77.1 L879.0 80.1 L879.9 82.7 L880.3 86.3 L881.5 89.2 L882.2 92.3 L884.4 95.3 L886.5 98.8 L883.6 100.6 L880.9 102.2 L878.0 103.7 L875.7 105.3 L872.8 107.0 L869.9 109.8 L867.0 111.7 L864.5 113.5 L861.1 116.1 L858.4 118.2 L855.7 120.0 L852.9 122.6 L851.1 124.9 L848.2 127.1 L845.4 129.1 L842.8 130.4 L840.1 131.7 L836.7 133.4 L838.5 136.8 L841.1 139.9 L842.1 143.6 L843.2 146.4 L846.5 148.8 L849.7 150.7 L852.8 152.5 L856.0 153.3 L858.4 155.0 L860.8 157.6 L862.7 158.9 L864.9 161.5 L867.4 164.3 L869.0 166.7 L871.4 169.9 M858.4 83.6 L861.7 85.3 L865.3 87.3 L868.4 88.4 L871.4 90.1 L875.7 91.5 L880.0 92.3 L882.3 94.2 L884.0 97.1 L886.5 98.8 M789.1 165.0 L789.2 168.6 L789.1 171.3 L789.2 174.4 L790.0 177.6 L789.7 181.1 L790.2 184.1 L789.5 187.7 L789.5 190.9 L790.4 193.7 L790.2 197.5 L793.0 199.8 L795.6 201.8 L798.8 203.5 L802.4 205.0 L806.4 206.1 L809.0 205.4 L812.6 203.7 L815.1 202.9 L817.5 201.4 L820.5 201.0 L823.8 199.6 L826.4 200.3 L829.9 201.9 L832.4 202.9 L835.3 205.1 L838.9 208.3 L839.7 211.8 L841.1 214.8 L839.3 217.1 L836.7 218.8 L834.4 221.4 L832.4 223.4 L835.0 226.9 L836.7 229.9 L838.7 232.3 L840.6 235.6 L843.2 238.6 L844.9 241.9 L847.6 244.7 L849.7 247.2 L852.0 250.1 L854.0 253.7 L852.4 256.8 L851.1 259.6 L849.7 262.4 L848.7 266.0 L847.6 268.9 L848.6 273.5 L849.7 277.5 L851.6 280.5 L852.1 283.1 L854.0 286.2 L856.2 290.1 M871.4 165.0 L874.2 166.3 L876.3 168.1 L879.2 170.2 L882.2 171.5 L884.6 173.4 L887.5 175.4 L890.8 178.0 L893.0 179.1 M880.0 266.7 L883.4 265.0 L886.5 262.4 L890.2 260.9 L893.0 260.2 M620.0 332.1 L623.2 331.5 L626.4 330.8 L629.9 329.6 L633.4 328.3 L636.8 327.9 L639.9 327.2 L644.8 329.6 L649.8 328.4 L651.8 326.5 L654.5 324.2 L657.2 322.2 L659.5 319.9 L662.2 317.2 L667.2 314.7 M644.8 352.0 L644.4 355.1 L644.5 358.7 L644.8 361.9 L645.9 365.2 L646.5 368.8 L647.3 371.8 L650.0 374.3 L652.0 376.4 L654.7 379.3 L657.6 379.7 L661.3 380.9 L664.7 381.8 L667.1 379.6 L669.6 376.8 L673.7 376.0 L677.1 374.3 L678.8 378.2 L679.6 381.8 L675.4 384.4 L672.1 386.7 L667.2 389.2 L666.3 392.6 L664.7 396.7 L667.4 400.6 L669.6 404.1 L670.0 407.1 L671.2 410.5 L672.1 414.0 L674.8 416.5 L677.1 420.0 M669.6 410.0 L671.5 412.5 L673.1 415.4 L675.4 417.4 L677.1 419.9 L680.4 420.1 L683.7 419.9 L685.9 420.1 L689.5 419.9 L692.8 420.9 L695.7 421.6 L699.4 422.4 L703.4 425.3 L706.9 427.4 L710.3 427.0 L713.1 426.6 L716.6 425.9 L719.3 424.9 L722.9 427.1 L726.7 429.9 L730.3 427.6 L734.2 424.9 L736.7 422.3 L739.1 419.9 L737.8 416.5 L736.7 412.5 M694.5 444.7 L697.1 444.5 L700.4 443.2 L703.8 443.0 L706.9 442.3 L710.5 442.1 L713.0 441.9 L716.1 442.1 L719.3 442.3 L723.4 441.8 L726.8 442.4 L730.7 442.0 L734.2 442.3 L737.1 443.1 L741.3 444.3 L744.1 444.7 L747.8 444.4 L751.0 443.1 L754.0 442.3 M692.0 444.7 L688.3 447.2 L684.5 449.7 L683.8 453.0 L683.3 456.1 L682.1 459.6 L682.7 462.8 L683.3 465.9 L684.5 469.6 L681.1 469.6 L678.2 471.0 L675.8 471.3 L672.2 471.6 L669.6 472.1 L667.3 474.3 L664.7 477.0 L664.3 480.8 L664.8 484.1 L664.2 488.3 L664.7 491.9 L667.8 493.0 L671.3 494.1 L674.1 495.2 L677.1 496.9 L678.1 500.0 L678.6 503.4 L679.2 505.8 L679.6 509.3 L683.0 511.4 L687.0 514.2 L689.2 518.5 L692.0 521.7 L693.9 525.5 L695.2 528.5 L696.9 531.6 L700.7 533.4 L704.4 534.1 L708.4 532.7 L711.8 531.6 L714.5 534.4 L716.8 536.6 L718.3 540.5 L719.3 544.0 L720.7 547.3 L721.8 550.0 M620.0 467.1 L622.9 467.7 L627.1 468.7 L629.9 469.6 L633.3 469.2 L636.5 469.1 L639.9 469.6 L643.5 470.1 L646.8 471.0 L649.8 472.1 L652.7 472.8 L656.8 473.9 L659.7 474.5 L663.4 473.3 L665.9 472.7 L669.6 472.1 M677.1 509.3 L674.1 512.2 L672.5 513.8 L669.6 516.7 L666.3 518.3 L663.8 520.6 L660.1 522.3 L657.2 524.2 L655.0 526.4 L652.4 529.4 L649.8 531.6 L645.7 534.4 L642.3 536.6 L642.2 539.5 L641.0 543.3 L640.6 546.2 L639.9 550.0 M620.0 496.9 L623.0 496.1 L626.5 495.0 L629.9 494.4 L632.8 493.8 L637.0 492.5 L639.9 491.9 L643.5 492.3 L646.7 491.9 L649.8 491.9 L652.7 492.6 L656.3 492.2 L659.7 493.1 L664.7 491.9 M644.8 540.0 L642.9 542.9 L641.4 547.1 L639.9 549.9 L638.5 553.5 L636.9 556.6 L634.9 559.9 L634.1 563.1 L632.4 566.5 L630.7 569.4 L629.9 572.3 L628.7 575.4 L628.6 578.4 L627.4 582.2 L626.6 585.3 L625.4 589.2 L625.0 592.1 L623.6 595.4 L623.8 598.3 L622.5 602.1 L620.0 607.0 M620.0 621.9 L623.6 621.1 L626.5 620.0 L629.9 619.4 L632.9 620.6 L636.6 621.3 L639.9 621.9 L643.3 623.1 L646.6 623.2 L649.8 624.4 L651.0 627.6 L651.3 630.8 L652.3 634.3 L654.4 637.5 L656.0 641.4 L657.2 644.2 L656.2 647.1 L655.3 651.0 L654.7 654.2 L653.6 657.4 L653.4 660.3 L652.3 664.1 M768.9 675.3 L766.2 672.5 L764.0 669.1 L761.5 666.6 L760.2 663.3 L758.6 660.1 L756.9 657.6 L755.3 654.2 L755.1 650.1 L754.8 646.5 L754.0 643.3 L754.0 639.3 L754.6 636.2 L755.2 633.9 L756.6 630.5 L757.3 627.7 L758.0 625.0 L759.0 621.9 L760.4 618.6 L762.1 615.8 L763.2 612.6 L765.3 609.5 L766.4 607.0 L768.8 604.1 L770.4 601.1 L771.8 597.6 L773.9 594.6 L777.2 592.8 L780.1 590.4 L783.8 588.4 L786.5 588.9 L789.7 589.4 L793.1 589.3 L796.2 589.6 L796.1 592.7 L797.0 596.2 L796.6 598.8 L796.5 602.4 L797.2 605.4 L797.2 608.5 L797.6 611.8 L797.5 614.5 L797.2 617.4 L797.3 620.7 L796.3 624.1 L796.1 626.6 L795.4 630.4 L795.4 632.6 L795.8 636.5 L795.0 639.3 L794.1 642.5 L793.6 645.3 L792.5 647.9 L791.6 650.8 L791.3 654.2 L790.5 657.2 L789.1 659.7 L788.1 663.0 L787.8 666.5 L786.3 669.1 L784.7 672.3 L782.8 675.9 L781.3 680.0 M753.5 634.0 L754.2 637.7 L754.4 640.5 L754.5 643.8 L754.8 647.6 L755.6 650.7 L756.4 654.0 L757.9 656.5 L759.4 659.5 L760.1 662.6 L761.9 665.2 L763.9 668.6 L766.0 672.5 L769.1 672.7 L772.3 673.6 L775.1 675.1 L778.5 677.7 L780.2 680.0 L781.9 683.3 L783.7 686.1 L784.1 682.4 L783.9 679.1 L784.8 675.6 L785.0 672.1 L785.7 668.5 L786.8 665.2 L788.7 661.3 L789.8 658.0 L791.0 654.8 L792.2 652.1 L793.4 649.1 L795.2 646.5 L794.8 643.0 L795.1 640.0 L794.4 637.2 L794.1 634.0 M512.0 138.5 L513.4 135.5 L514.1 132.3 L518.3 128.1 L519.8 124.6 L520.4 121.9 L523.6 119.7 L526.6 116.7 L530.2 115.8 L532.9 115.6 L534.9 119.8 L536.5 123.8 L537.0 128.1 L540.9 128.8 L545.3 130.2 L548.9 128.5 L551.6 126.0 L555.8 121.9 L559.9 118.7 L563.5 119.6 L566.2 119.8 L570.3 115.6 L573.7 115.7 L576.6 115.6 L580.7 111.5 L581.0 106.9 L581.8 103.1 L585.0 101.6 L589.1 100.0 L592.6 98.3 L595.3 96.9 L599.5 93.8 L603.6 95.8 L605.8 99.8 L607.8 103.1 L610.2 105.9 L612.0 108.3 L613.0 112.1 L614.1 115.6 L615.5 119.5 L616.8 122.6 L618.2 126.0 L622.4 129.2 L626.5 128.3 L630.7 128.1 L633.6 127.1 L637.0 126.0 L638.2 122.8 L639.7 121.0 L641.1 117.7 L640.4 114.4 L639.0 111.5 L638.0 107.2 L637.0 103.1 L639.0 99.0 L643.2 95.8 L647.4 99.0 L650.5 101.0 L653.6 103.1 L655.9 106.4 L657.7 108.3 L659.9 111.5 L664.0 107.3 M512.0 138.5 L514.1 140.6 L515.0 143.4 L516.5 147.1 L517.7 149.9 L518.3 153.1 L518.7 156.8 L519.4 159.8 L519.4 163.2 L520.4 166.0 M641.1 117.7 L641.6 121.3 L642.8 124.9 L643.2 128.1 L640.4 130.1 L638.0 132.2 L634.9 134.4 L634.0 137.3 L632.8 140.6 L634.4 144.0 L637.0 146.9 L640.5 147.9 L643.2 148.9 L646.1 150.0 L648.4 151.8 L651.5 153.1 L653.8 155.4 L656.2 158.5 L657.8 161.4 L660.5 163.6 L664.0 166.0 M559.9 161.4 L563.0 160.0 L565.0 158.5 L568.3 157.3 L569.4 154.2 L571.4 151.6 L572.4 148.9 L576.7 147.3 L580.7 145.8 L584.3 147.0 L587.9 148.0 L591.2 148.9 L594.8 150.5 L597.6 152.0 L601.6 153.1 L603.3 155.9 L605.3 158.6 L607.8 161.4"/><path fill="none" stroke="#000" stroke-width="1" d="M649.7 663.4 L647.2 664.5 L645.0 663.5 L646.2 660.6 L648.3 660.4Z M652.2 663.2 L650.5 663.5 L649.4 662.8 L650.7 660.6 L651.6 660.4Z M648.5 669.7 L647.2 670.3 L646.0 669.6 L646.2 667.3 L648.3 667.6Z M656.1 661.2 L655.0 661.7 L653.1 659.6 L654.5 658.7 L656.5 658.5Z M655.0 663.1 L653.2 664.4 L652.2 662.7 L652.8 661.6 L654.8 662.2Z M656.5 665.7 L654.7 666.6 L651.0 662.9 L653.6 661.6 L655.8 662.3Z M658.2 656.5 L656.0 657.9 L655.3 656.8 L656.6 655.4 L657.7 655.4Z M665.4 661.1 L662.6 662.3 L660.1 661.2 L660.8 657.9 L664.2 658.1Z M661.8 654.8 L660.4 655.4 L659.5 654.5 L660.3 653.2 L661.1 654.0Z M671.6 656.2 L669.7 657.6 L666.9 656.5 L667.4 653.3 L670.7 652.7Z M665.0 647.9 L662.9 649.2 L662.5 648.4 L662.9 646.7 L664.3 647.3Z M672.7 651.3 L670.6 653.1 L668.6 652.0 L669.0 649.0 L672.2 649.2Z M674.2 643.1 L672.2 643.6 L671.0 642.4 L672.7 639.5 L675.0 639.7Z M672.8 651.4 L669.4 652.0 L668.1 649.6 L669.2 647.5 L671.8 646.8Z M673.7 650.5 L669.2 650.4 L668.2 649.3 L669.1 646.0 L672.5 646.4Z M682.3 642.9 L681.1 643.4 L678.7 641.1 L680.3 639.6 L681.7 640.5Z M679.4 642.2 L675.0 643.8 L674.1 642.5 L674.6 638.1 L679.4 638.4Z M682.4 644.1 L680.6 645.1 L677.9 642.8 L679.2 640.5 L681.8 642.0Z M688.6 628.7 L686.5 629.9 L685.4 629.0 L686.9 626.9 L688.1 627.2Z M690.0 631.8 L686.9 633.1 L684.7 631.6 L685.2 627.5 L688.9 628.3Z M687.8 632.7 L685.5 633.5 L684.5 632.4 L685.2 630.0 L687.6 630.6Z M693.2 628.1 L691.2 629.0 L689.6 627.3 L690.7 625.1 L693.3 626.4Z M694.1 622.2 L693.2 622.8 L690.7 621.8 L691.4 619.2 L694.7 619.6Z M694.5 619.9 L691.2 621.5 L690.2 618.7 L691.2 617.3 L694.9 618.5Z M699.4 616.8 L697.4 618.3 L695.6 616.5 L696.4 615.1 L698.7 615.1Z M701.9 615.1 L700.5 615.7 L697.4 612.2 L698.0 610.6 L701.8 611.7Z M702.9 615.4 L701.4 616.1 L700.8 614.5 L701.3 613.7 L703.4 613.8Z M711.1 606.5 L708.0 607.2 L705.6 603.6 L706.6 602.6 L710.4 602.1Z M704.8 605.6 L703.5 606.4 L702.3 605.4 L702.6 604.2 L703.9 604.1Z M705.0 612.0 L701.6 613.1 L700.7 611.4 L701.9 608.8 L704.3 609.5Z M713.9 607.9 L712.1 608.5 L710.9 607.7 L711.4 605.5 L714.3 605.2Z M710.8 599.4 L709.1 600.4 L706.4 598.2 L707.1 595.3 L710.5 596.9Z M715.6 602.8 L714.6 603.9 L713.1 602.6 L714.0 601.1 L715.9 600.8Z M716.5 589.6 L714.6 591.5 L712.7 589.7 L714.2 587.7 L716.2 588.8Z M718.4 593.9 L714.5 594.8 L712.6 591.1 L714.5 589.0 L718.2 589.2Z M718.3 595.7 L715.7 596.0 L713.7 593.5 L714.6 592.0 L717.6 591.6Z M725.6 595.1 L723.0 596.0 L722.0 593.5 L723.3 591.8 L725.4 592.6Z M725.1 593.3 L722.8 594.5 L721.9 592.3 L722.8 591.4 L724.7 592.0Z M730.8 592.0 L728.5 593.8 L726.2 591.8 L726.5 590.2 L729.7 590.3Z M732.2 582.1 L730.4 583.0 L729.0 582.1 L730.7 579.6 L731.2 580.1Z M733.5 584.7 L730.4 586.3 L729.6 585.2 L730.8 582.3 L732.4 583.4Z M731.8 585.4 L729.0 585.8 L727.4 583.8 L728.2 581.5 L730.5 581.5Z M729.0 574.9 L728.3 575.0 L726.9 573.7 L727.4 573.0 L728.9 573.7Z M731.9 569.3 L730.4 570.9 L728.1 568.6 L728.7 567.7 L731.4 567.5Z M730.4 576.8 L726.9 577.5 L725.7 574.9 L726.3 572.5 L730.4 573.8Z M728.2 560.2 L727.2 561.3 L726.2 559.9 L727.5 559.0 L728.5 559.0Z M728.3 561.4 L726.0 562.6 L725.4 560.7 L726.9 559.8 L727.5 559.8Z M724.9 560.9 L723.2 561.7 L722.2 560.9 L722.9 559.4 L724.4 559.5Z M733.9 552.6 L730.1 553.7 L728.3 552.2 L729.1 548.7 L733.0 550.3Z M737.8 558.0 L735.8 558.4 L735.3 557.9 L735.9 555.9 L737.6 556.7Z M738.8 551.6 L736.9 552.0 L736.0 550.9 L737.1 549.7 L738.5 549.6Z M745.4 539.9 L743.7 541.9 L740.3 538.9 L741.0 537.2 L745.3 537.3Z M742.7 539.6 L740.1 540.8 L738.1 538.4 L739.4 537.2 L741.6 538.3Z M743.7 540.6 L742.5 541.0 L741.4 539.4 L741.8 539.0 L743.4 538.9Z M747.3 530.5 L745.6 531.3 L742.8 528.7 L743.6 527.3 L747.6 527.1Z M748.7 532.8 L746.7 533.4 L745.8 532.6 L746.2 530.7 L747.9 530.8Z M742.7 533.1 L739.2 533.5 L738.3 532.4 L740.9 528.4 L741.9 529.6Z M749.2 521.3 L747.5 523.0 L745.8 522.1 L747.5 519.9 L748.6 520.5Z M751.7 522.3 L749.8 523.1 L749.3 521.5 L749.6 520.7 L751.7 521.2Z M745.9 518.2 L744.6 519.0 L743.9 518.3 L745.1 516.6 L745.8 517.2Z M750.4 510.3 L749.2 510.3 L748.6 509.8 L749.0 508.1 L750.7 508.4Z M750.4 511.2 L748.1 512.8 L747.1 510.6 L748.4 509.2 L750.3 509.2Z M754.0 507.7 L753.2 508.9 L751.3 507.8 L752.9 505.8 L754.3 506.1Z M754.5 503.0 L753.1 504.2 L750.8 502.0 L752.5 500.0 L754.7 500.2Z M760.3 505.6 L758.5 506.3 L756.2 505.1 L758.1 502.0 L759.6 502.4Z M760.4 507.2 L758.3 507.8 L757.7 505.9 L759.1 504.6 L759.9 504.9Z M760.1 497.1 L757.4 497.2 L754.7 495.8 L757.1 491.8 L758.8 492.9Z M763.0 495.4 L761.2 496.8 L759.3 495.8 L759.6 493.5 L762.7 493.4Z M761.2 495.0 L759.5 497.5 L756.3 494.8 L757.0 493.0 L761.2 492.9Z M771.1 485.1 L768.2 486.5 L765.5 482.5 L766.7 481.4 L770.8 481.0Z M767.7 490.3 L765.3 491.5 L764.6 490.6 L765.6 487.6 L768.2 487.7Z M772.8 484.8 L770.3 485.9 L768.9 484.5 L770.4 482.1 L771.7 482.3Z M776.2 482.7 L774.0 482.7 L772.1 480.6 L772.7 479.0 L775.2 479.4Z M774.9 480.1 L773.1 481.1 L772.1 480.1 L773.1 478.0 L774.0 478.6Z M775.5 473.2 L772.2 474.2 L770.3 472.2 L771.9 469.3 L775.1 469.7Z M776.9 463.7 L773.9 465.2 L772.6 464.1 L773.8 461.6 L775.9 461.4Z M774.6 468.6 L772.9 469.2 L770.4 467.6 L770.8 465.4 L773.8 466.7Z M775.0 473.6 L773.1 473.8 L769.8 470.5 L772.7 469.3 L775.4 470.5Z M777.0 457.4 L774.6 457.7 L772.2 455.7 L774.5 453.5 L775.9 453.7Z M777.8 453.5 L775.7 453.5 L774.9 452.0 L775.2 450.9 L777.5 451.1Z M781.6 457.7 L778.8 459.6 L778.0 457.1 L778.8 455.2 L781.9 455.7Z M779.6 444.5 L777.8 446.0 L777.0 443.9 L778.0 443.0 L779.4 443.0Z M775.5 442.7 L772.1 443.8 L771.3 441.5 L771.5 440.2 L774.8 439.4Z M777.5 442.7 L775.0 444.5 L773.7 441.6 L774.2 440.7 L776.5 441.0Z M772.1 446.7 L769.6 448.5 L768.4 446.6 L769.3 444.7 L771.9 445.0Z M772.4 439.8 L771.0 441.2 L768.7 439.4 L770.4 437.7 L771.5 437.9Z M770.3 446.0 L767.7 447.8 L765.1 444.8 L767.1 443.6 L770.1 443.9Z M757.0 442.8 L755.2 444.5 L753.1 442.4 L754.5 440.6 L756.7 440.9Z M757.9 440.2 L754.8 441.6 L753.2 438.9 L753.5 437.5 L757.0 438.3Z M759.5 443.2 L758.5 444.1 L756.6 442.5 L757.9 440.9 L759.6 441.9Z M746.3 444.0 L744.9 444.9 L742.9 444.0 L744.8 441.6 L745.5 441.2Z M747.9 437.9 L745.9 439.2 L745.0 437.7 L745.4 436.5 L747.4 437.2Z M746.6 444.3 L744.9 444.6 L744.5 444.0 L744.7 442.0 L746.9 442.5Z M645.1 665.7 L647.8 662.7 L650.7 660.5 L652.5 659.8 L656.5 656.8 L658.5 654.1 L663.7 651.4 L667.7 647.4 L669.2 646.2 L671.1 643.8 L671.2 640.4 L674.4 638.1 L677.3 635.6 L679.6 632.4 L681.2 631.1 L682.0 627.2 L684.6 627.1 L686.3 623.0 L689.9 621.9 L692.5 619.8 L696.3 617.0 L697.1 613.6 L701.1 612.1 L702.7 608.6 L705.0 603.9 L707.9 601.9 L708.7 598.2 L710.4 597.4 L712.7 593.6 L715.2 593.8 L720.8 590.1 L723.0 590.5 L723.6 586.8 L723.4 583.0 L725.8 579.6 L727.2 573.9 L725.9 570.6 L724.7 565.2 L722.9 562.2 L725.7 560.5 L727.1 554.8 L730.6 553.4 L731.0 550.6 L732.6 546.2 L735.9 546.0 L737.7 541.7 L738.4 538.2 L740.0 534.1 L740.5 532.3 L742.2 528.0 L743.7 527.2 L744.8 522.5 L744.2 519.0 L746.8 514.1 L747.3 511.6 L749.1 510.4 L752.3 506.2 L755.4 502.2 L756.0 502.0 L756.8 497.8 L757.8 495.7 L759.1 492.5 L763.1 490.7 L765.3 486.6 L766.3 485.5 L766.3 483.6 L767.4 479.2 L767.5 476.2 L768.6 475.0 L770.6 469.1 L771.8 467.9 L773.5 463.7 L773.1 459.6 L774.1 456.9 L773.6 452.4 L772.1 449.4 L773.1 445.0 L768.9 445.5 L765.6 445.1 L764.1 443.8 L762.0 442.9 L758.6 441.2 L755.6 440.8 L751.8 440.2 L747.0 441.4 L743.6 439.2 L740.0 439.4 L738.1 438.5 L734.5 437.4 L731.0 438.0 L734.6 434.9 L734.5 434.9 L737.4 432.5 L740.9 428.7 L745.1 427.5 L744.5 424.3 L748.7 424.2 L750.4 422.3 L754.3 422.7 L756.5 419.7 L759.0 416.5 L762.6 414.4 L765.4 413.4"/>
<polyline fill="none" stroke="#000" stroke-width="1" stroke-dasharray="5 5" points="200.0,65.6 207.0,66.1 214.0,66.6 221.0,67.1 228.0,67.5 235.0,67.9 242.0,68.3 249.0,68.6 256.0,69.0 263.0,69.3 270.0,69.6 277.0,69.8 284.0,70.0 291.0,70.3 298.0,70.4 305.0,70.6 312.0,70.7 319.0,70.8 326.0,70.9 333.0,71.0 340.0,71.0 347.0,71.0 354.0,71.0 361.0,70.9 368.0,70.9 375.0,70.8 382.0,70.7 389.0,70.5 396.0,70.3 403.0,70.1 410.0,69.9 417.0,69.7 424.0,69.4 431.0,69.1 438.0,68.8 445.0,68.4 452.0,68.1 459.0,67.7 466.0,67.3 473.0,66.8 480.0,66.3 487.0,65.8 494.0,65.3 501.0,64.8 508.0,64.2 515.0,63.6 522.0,63.0 529.0,62.3 536.0,61.7 543.0,61.0 550.0,60.2 557.0,59.5 564.0,58.7 571.0,57.9 578.0,57.1 585.0,56.2 592.0,55.4 599.0,54.5 606.0,53.5 613.0,52.6 620.0,51.6 627.0,50.6 634.0,49.6 641.0,48.5 648.0,47.4 655.0,46.3 662.0,45.2 669.0,44.0 676.0,42.8 683.0,41.6 690.0,40.4 697.0,39.1 704.0,37.8 711.0,36.5 718.0,35.1 725.0,33.8 732.0,32.4 739.0,30.9 746.0,29.5 753.0,28.0 760.0,26.5 767.0,25.0 774.0,23.4 781.0,21.8 788.0,20.2 795.0,18.6 802.0,16.9 809.0,15.2 816.0,13.5 823.0,11.8 830.0,10.0 837.0,8.2 844.0,6.3 851.0,4.5 858.0,2.6 865.0,0.7 872.0,-1.3 879.0,-3.2 886.0,-5.2 893.0,-7.3 900.0,-9.3"/>
<polyline fill="none" stroke="#000" stroke-width="1" stroke-dasharray="5 5" points="200.0,154.6 207.0,155.0 214.0,155.5 221.0,155.9 228.0,156.4 235.0,156.7 242.0,157.1 249.0,157.4 256.0,157.8 263.0,158.1 270.0,158.3 277.0,158.6 284.0,158.8 291.0,159.0 298.0,159.2 305.0,159.3 312.0,159.4 319.0,159.5 326.0,159.6 333.0,159.7 340.0,159.7 347.0,159.7 354.0,159.7 361.0,159.6 368.0,159.6 375.0,159.5 382.0,159.4 389.0,159.2 396.0,159.1 403.0,158.9 410.0,158.7 417.0,158.4 424.0,158.2 431.0,157.9 438.0,157.6 445.0,157.3 452.0,156.9 459.0,156.5 466.0,156.1 473.0,155.7 480.0,155.2 487.0,154.8 494.0,154.3 501.0,153.7 508.0,153.2 515.0,152.6 522.0,152.0 529.0,151.4 536.0,150.8 543.0,150.1 550.0,149.4 557.0,148.7 564.0,147.9 571.0,147.2 578.0,146.4 585.0,145.6 592.0,144.7 599.0,143.9 606.0,143.0 613.0,142.1 620.0,141.1 627.0,140.2 634.0,139.2 641.0,138.2 648.0,137.1 655.0,136.1 662.0,135.0 669.0,133.9 676.0,132.8 683.0,131.6 690.0,130.4 697.0,129.2 704.0,128.0 711.0,126.7 718.0,125.4 725.0,124.1 732.0,122.8 739.0,121.4 746.0,120.0 753.0,118.6 760.0,117.2 767.0,115.7 774.0,114.2 781.0,112.7 788.0,111.2 795.0,109.6 802.0,108.0 809.0,106.4 816.0,104.8 823.0,103.1 830.0,101.4 837.0,99.7 844.0,97.9 851.0,96.2 858.0,94.4 865.0,92.5 872.0,90.7 879.0,88.8 886.0,86.9 893.0,85.0 900.0,83.0"/>
<polyline fill="none" stroke="#000" stroke-width="1" stroke-dasharray="5 5" points="200.0,243.5 207.0,243.9 214.0,244.4 221.0,244.8 228.0,245.2 235.0,245.6 242.0,245.9 249.0,246.2 256.0,246.5 263.0,246.8 270.0,247.1 277.0,247.3 284.0,247.5 291.0,247.7 298.0,247.9 305.0,248.0 312.0,248.1 319.0,248.2 326.0,248.3 333.0,248.4 340.0,248.4 347.0,248.4 354.0,248.4 361.0,248.3 368.0,248.3 375.0,248.2 382.0,248.1 389.0,247.9 396.0,247.8 403.0,247.6 410.0,247.4 417.0,247.2 424.0,246.9 431.0,246.7 438.0,246.4 445.0,246.1 452.0,245.7 459.0,245.4 466.0,245.0 473.0,244.6 480.0,244.1 487.0,243.7 494.0,243.2 501.0,242.7 508.0,242.2 515.0,241.6 522.0,241.1 529.0,240.5 536.0,239.8 543.0,239.2 550.0,238.5 557.0,237.9 564.0,237.1 571.0,236.4 578.0,235.7 585.0,234.9 592.0,234.1 599.0,233.2 606.0,232.4 613.0,231.5 620.0,230.6 627.0,229.7 634.0,228.8 641.0,227.8 648.0,226.8 655.0,225.8 662.0,224.7 669.0,223.7 676.0,222.6 683.0,221.5 690.0,220.3 697.0,219.2 704.0,218.0 711.0,216.8 718.0,215.6 725.0,214.3 732.0,213.0 739.0,211.7 746.0,210.4 753.0,209.1 760.0,207.7 767.0,206.3 774.0,204.9 781.0,203.4 788.0,201.9 795.0,200.4 802.0,198.9 809.0,197.4 816.0,195.8 823.0,194.2 830.0,192.6 837.0,190.9 844.0,189.3 851.0,187.6 858.0,185.9 865.0,184.1 872.0,182.3 879.0,180.6 886.0,178.7 893.0,176.9 900.0,175.0"/>
<polyline fill="none" stroke="#000" stroke-width="1" stroke-dasharray="5 5" points="200.0,332.4 207.0,332.8 214.0,333.2 221.0,333.6 228.0,334.0 235.0,334.4 242.0,334.7 249.0,335.0 256.0,335.3 263.0,335.6 270.0,335.8 277.0,336.1 284.0,336.3 291.0,336.4 298.0,336.6 305.0,336.7 312.0,336.9 319.0,336.9 326.0,337.0 333.0,337.1 340.0,337.1 347.0,337.1 354.0,337.1 361.0,337.0 368.0,337.0 375.0,336.9 382.0,336.8 389.0,336.7 396.0,336.5 403.0,336.3 410.0,336.1 417.0,335.9 424.0,335.7 431.0,335.4 438.0,335.2 445.0,334.9 452.0,334.5 459.0,334.2 466.0,333.8 473.0,333.4 480.0,333.0 487.0,332.6 494.0,332.1 501.0,331.6 508.0,331.1 515.0,330.6 522.0,330.0 529.0,329.5 536.0,328.9 543.0,328.3 550.0,327.6 557.0,327.0 564.0,326.3 571.0,325.6 578.0,324.9 585.0,324.1 592.0,323.3 599.0,322.5 606.0,321.7 613.0,320.9 620.0,320.0 627.0,319.1 634.0,318.2 641.0,317.3 648.0,316.4 655.0,315.4 662.0,314.4 669.0,313.4 676.0,312.3 683.0,311.3 690.0,310.2 697.0,309.1 704.0,307.9 711.0,306.8 718.0,305.6 725.0,304.4 732.0,303.2 739.0,301.9 746.0,300.7 753.0,299.4 760.0,298.0 767.0,296.7 774.0,295.3 781.0,293.9 788.0,292.5 795.0,291.1 802.0,289.6 809.0,288.2 816.0,286.7 823.0,285.1 830.0,283.6 837.0,282.0 844.0,280.4 851.0,278.8 858.0,277.1 865.0,275.5 872.0,273.8 879.0,272.0 886.0,270.3 893.0,268.5 900.0,266.7"/>
<polyline fill="none" stroke="#000" stroke-width="1" stroke-dasharray="5 5" points="200.0,421.3 207.0,421.7 214.0,422.1 221.0,422.5 228.0,422.8 235.0,423.2 242.0,423.5 249.0,423.8 256.0,424.1 263.0,424.3 270.0,424.6 277.0,424.8 284.0,425.0 291.0,425.2 298.0,425.3 305.0,425.5 312.0,425.6 319.0,425.7 326.0,425.7 333.0,425.8 340.0,425.8 347.0,425.8 354.0,425.8 361.0,425.7 368.0,425.7 375.0,425.6 382.0,425.5 389.0,425.4 396.0,425.2 403.0,425.1 410.0,424.9 417.0,424.7 424.0,424.5 431.0,424.2 438.0,423.9 445.0,423.6 452.0,423.3 459.0,423.0 466.0,422.6 473.0,422.3 480.0,421.9 487.0,421.4 494.0,421.0 501.0,420.5 508.0,420.0 515.0,419.5 522.0,419.0 529.0,418.5 536.0,417.9 543.0,417.3 550.0,416.7 557.0,416.1 564.0,415.4 571.0,414.7 578.0,414.0 585.0,413.3 592.0,412.6 599.0,411.8 606.0,411.0 613.0,410.2 620.0,409.4 627.0,408.5 634.0,407.7 641.0,406.8 648.0,405.9 655.0,404.9 662.0,404.0 669.0,403.0 676.0,402.0 683.0,401.0 690.0,399.9 697.0,398.9 704.0,397.8 711.0,396.7 718.0,395.5 725.0,394.4 732.0,393.2 739.0,392.0 746.0,390.8 753.0,389.5 760.0,388.3 767.0,387.0 774.0,385.7 781.0,384.3 788.0,383.0 795.0,381.6 802.0,380.2 809.0,378.8 816.0,377.3 823.0,375.9 830.0,374.4 837.0,372.9 844.0,371.3 851.0,369.8 858.0,368.2 865.0,366.6 872.0,365.0 879.0,363.3 886.0,361.6 893.0,359.9 900.0,358.2"/>
<polyline fill="none" stroke="#000" stroke-width="1" stroke-dasharray="5 5" points="200.0,510.1 207.0,510.5 214.0,510.9 221.0,511.3 228.0,511.6 235.0,512.0 242.0,512.3 249.0,512.6 256.0,512.9 263.0,513.1 270.0,513.3 277.0,513.5 284.0,513.7 291.0,513.9 298.0,514.0 305.0,514.2 312.0,514.3 319.0,514.4 326.0,514.4 333.0,514.5 340.0,514.5 347.0,514.5 354.0,514.5 361.0,514.4 368.0,514.4 375.0,514.3 382.0,514.2 389.0,514.1 396.0,514.0 403.0,513.8 410.0,513.6 417.0,513.4 424.0,513.2 431.0,513.0 438.0,512.7 445.0,512.4 452.0,512.1 459.0,511.8 466.0,511.4 473.0,511.1 480.0,510.7 487.0,510.3 494.0,509.9 501.0,509.4 508.0,509.0 515.0,508.5 522.0,508.0 529.0,507.4 536.0,506.9 543.0,506.3 550.0,505.7 557.0,505.1 564.0,504.5 571.0,503.8 578.0,503.2 585.0,502.5 592.0,501.8 599.0,501.0 606.0,500.3 613.0,499.5 620.0,498.7 627.0,497.9 634.0,497.0 641.0,496.2 648.0,495.3 655.0,494.4 662.0,493.5 669.0,492.5 676.0,491.6 683.0,490.6 690.0,489.6 697.0,488.6 704.0,487.5 711.0,486.4 718.0,485.4 725.0,484.2 732.0,483.1 739.0,482.0 746.0,480.8 753.0,479.6 760.0,478.4 767.0,477.1 774.0,475.9 781.0,474.6 788.0,473.3 795.0,472.0 802.0,470.6 809.0,469.2 816.0,467.9 823.0,466.4 830.0,465.0 837.0,463.6 844.0,462.1 851.0,460.6 858.0,459.1 865.0,457.5 872.0,456.0 879.0,454.4 886.0,452.8 893.0,451.1 900.0,449.5"/>
<polyline fill="none" stroke="#000" stroke-width="1" stroke-dasharray="5 5" points="200.0,599.0 207.0,599.4 214.0,599.8 221.0,600.1 228.0,600.4 235.0,600.8 242.0,601.1 249.0,601.3 256.0,601.6 263.0,601.8 270.0,602.1 277.0,602.3 284.0,602.5 291.0,602.6 298.0,602.8 305.0,602.9 312.0,603.0 319.0,603.1 326.0,603.1 333.0,603.2 340.0,603.2 347.0,603.2 354.0,603.2 361.0,603.1 368.0,603.1 375.0,603.0 382.0,602.9 389.0,602.8 396.0,602.7 403.0,602.5 410.0,602.4 417.0,602.2 424.0,601.9 431.0,601.7 438.0,601.5 445.0,601.2 452.0,600.9 459.0,600.6 466.0,600.3 473.0,599.9 480.0,599.5 487.0,599.1 494.0,598.7 501.0,598.3 508.0,597.9 515.0,597.4 522.0,596.9 529.0,596.4 536.0,595.9 543.0,595.3 550.0,594.7 557.0,594.2 564.0,593.6 571.0,592.9 578.0,592.3 585.0,591.6 592.0,590.9 599.0,590.2 606.0,589.5 613.0,588.7 620.0,588.0 627.0,587.2 634.0,586.4 641.0,585.5 648.0,584.7 655.0,583.8 662.0,582.9 669.0,582.0 676.0,581.1 683.0,580.2 690.0,579.2 697.0,578.2 704.0,577.2 711.0,576.2 718.0,575.1 725.0,574.0 732.0,572.9 739.0,571.8 746.0,570.7 753.0,569.5 760.0,568.4 767.0,567.2 774.0,566.0 781.0,564.7 788.0,563.5 795.0,562.2 802.0,560.9 809.0,559.6 816.0,558.3 823.0,556.9 830.0,555.5 837.0,554.1 844.0,552.7 851.0,551.2 858.0,549.8 865.0,548.3 872.0,546.8 879.0,545.3 886.0,543.7 893.0,542.2 900.0,540.6"/>
<polyline fill="none" stroke="#000" stroke-width="1" stroke-dasharray="5 5" points="200.0,687.8 207.0,688.2 214.0,688.6 221.0,688.9 228.0,689.2 235.0,689.6 242.0,689.8 249.0,690.1 256.0,690.4 263.0,690.6 270.0,690.8 277.0,691.0 284.0,691.2 291.0,691.3 298.0,691.5 305.0,691.6 312.0,691.7 319.0,691.8 326.0,691.8 333.0,691.9 340.0,691.9 347.0,691.9 354.0,691.9 361.0,691.9 368.0,691.8 375.0,691.7 382.0,691.6 389.0,691.5 396.0,691.4 403.0,691.2 410.0,691.1 417.0,690.9 424.0,690.7 431.0,690.5 438.0,690.2 445.0,690.0 452.0,689.7 459.0,689.4 466.0,689.1 473.0,688.7 480.0,688.4 487.0,688.0 494.0,687.6 501.0,687.2 508.0,686.7 515.0,686.3 522.0,685.8 529.0,685.3 536.0,684.8 543.0,684.3 550.0,683.7 557.0,683.2 564.0,682.6 571.0,682.0 578.0,681.4 585.0,680.7 592.0,680.0 599.0,679.4 606.0,678.7 613.0,677.9 620.0,677.2 627.0,676.4 634.0,675.7 641.0,674.9 648.0,674.0 655.0,673.2 662.0,672.3 669.0,671.5 676.0,670.6 683.0,669.7 690.0,668.7 697.0,667.8 704.0,666.8 711.0,665.8 718.0,664.8 725.0,663.7 732.0,662.7 739.0,661.6 746.0,660.5 753.0,659.4 760.0,658.3 767.0,657.1 774.0,656.0 781.0,654.8 788.0,653.6 795.0,652.3 802.0,651.1 809.0,649.8 816.0,648.5 823.0,647.2 830.0,645.9 837.0,644.5 844.0,643.2 851.0,641.8 858.0,640.4 865.0,638.9 872.0,637.5 879.0,636.0 886.0,634.5 893.0,633.0 900.0,631.5"/>
<polyline fill="none" stroke="#000" stroke-width="1" stroke-dasharray="5 5" points="200.0,776.7 207.0,777.0 214.0,777.4 221.0,777.7 228.0,778.0 235.0,778.3 242.0,778.6 249.0,778.9 256.0,779.1 263.0,779.3 270.0,779.5 277.0,779.7 284.0,779.9 291.0,780.1 298.0,780.2 305.0,780.3 312.0,780.4 319.0,780.5 326.0,780.5 333.0,780.6 340.0,780.6 347.0,780.6 354.0,780.6 361.0,780.6 368.0,780.5 375.0,780.4 382.0,780.3 389.0,780.2 396.0,780.1 403.0,780.0 410.0,779.8 417.0,779.6 424.0,779.4 431.0,779.2 438.0,779.0 445.0,778.7 452.0,778.5 459.0,778.2 466.0,777.9 473.0,777.5 480.0,777.2 487.0,776.8 494.0,776.4 501.0,776.0 508.0,775.6 515.0,775.2 522.0,774.7 529.0,774.2 536.0,773.8 543.0,773.2 550.0,772.7 557.0,772.2 564.0,771.6 571.0,771.0 578.0,770.4 585.0,769.8 592.0,769.1 599.0,768.5 606.0,767.8 613.0,767.1 620.0,766.4 627.0,765.7 634.0,764.9 641.0,764.1 648.0,763.3 655.0,762.5 662.0,761.7 669.0,760.9 676.0,760.0 683.0,759.1 690.0,758.2 697.0,757.3 704.0,756.3 711.0,755.4 718.0,754.4 725.0,753.4 732.0,752.4 739.0,751.3 746.0,750.3 753.0,749.2 760.0,748.1 767.0,747.0 774.0,745.9 781.0,744.7 788.0,743.6 795.0,742.4 802.0,741.2 809.0,739.9 816.0,738.7 823.0,737.4 830.0,736.1 837.0,734.8 844.0,733.5 851.0,732.2 858.0,730.8 865.0,729.4 872.0,728.0 879.0,726.6 886.0,725.2 893.0,723.7 900.0,722.2"/>
<line x1="251.2" y1="40" x2="216.1" y2="760" stroke="#000" stroke-width="1.2" stroke-dasharray="2 7"/>
<line x1="321.9" y1="40" x2="313.3" y2="760" stroke="#000" stroke-width="1.2" stroke-dasharray="2 7"/>
<line x1="392.5" y1="40" x2="410.3" y2="760" stroke="#000" stroke-width="1.2" stroke-dasharray="2 7"/>
<line x1="463.3" y1="40" x2="507.5" y2="760" stroke="#000" stroke-width="1.2" stroke-dasharray="2 7"/>
<line x1="534.4" y1="40" x2="605.1" y2="760" stroke="#000" stroke-width="1.2" stroke-dasharray="2 7"/>
<line x1="606.0" y1="40" x2="703.5" y2="760" stroke="#000" stroke-width="1.2" stroke-dasharray="2 7"/>
<line x1="678.3" y1="40" x2="802.8" y2="760" stroke="#000" stroke-width="1.2" stroke-dasharray="2 7"/>
<line x1="751.5" y1="40" x2="903.4" y2="760" stroke="#000" stroke-width="1.2" stroke-dasharray="2 7"/>
<line x1="825.9" y1="40" x2="1005.6" y2="760" stroke="#000" stroke-width="1.2" stroke-dasharray="2 7"/>
<path fill="none" stroke="#000" stroke-width="1" d="M234.6 56.6L246.6 50.7M243.2 55.0L246.6 50.7L241.1 50.7M262.8 56.6L275.0 52.2M271.2 56.2L275.0 52.2L269.6 51.7M291.0 56.6L303.1 53.9M298.8 57.3L303.1 53.9L297.8 52.6M319.2 56.6L331.2 52.7M327.2 56.5L331.2 52.7L325.7 52.0M347.4 56.6L358.2 53.8M354.0 57.4L358.2 53.8L352.9 52.7M375.6 56.6L385.7 52.8M381.9 56.8L385.7 52.8L380.3 52.3M403.8 56.6L414.1 50.4M411.1 55.0L414.1 50.4L408.6 50.9M432.0 56.6L442.3 50.2M439.4 54.9L442.3 50.2L436.8 50.8M460.2 56.6L471.1 47.4M468.8 52.5L471.1 47.4L465.8 48.8M488.4 56.6L500.0 48.2M497.4 53.0L500.0 48.2L494.6 49.1M516.6 56.6L527.0 46.4M525.1 51.6L527.0 46.4L521.8 48.2M544.8 56.6L549.7 40.3M550.6 45.7L549.7 40.3L546.0 44.3M573.0 56.6L578.1 40.4M578.9 45.8L578.1 40.4L574.3 44.4M601.2 56.6L610.7 32.3M611.2 37.8L610.7 32.3L606.7 36.0M629.4 56.6L639.2 35.8M639.3 41.3L639.2 35.8L634.9 39.3M657.6 56.6L666.6 35.7M666.9 41.2L666.6 35.7L662.5 39.3M685.8 56.6L693.5 41.5M693.4 47.0L693.5 41.5L689.1 44.8M714.0 56.6L721.3 42.1M721.2 47.6L721.3 42.1L717.0 45.5M742.2 56.6L744.5 46.7M745.7 52.1L744.5 46.7L741.1 51.0M770.4 56.6L775.3 51.6M773.8 56.0L775.3 51.6L770.9 53.2M798.6 56.6L803.1 52.2M801.6 56.3L803.1 52.2L799.0 53.6M826.8 56.6L830.3 56.5M827.5 57.9L830.3 56.5L827.5 55.3M855.0 56.6L860.0 59.6M855.9 59.2L860.0 59.6L857.7 56.1M883.2 56.6L887.1 59.0M883.6 58.6L887.1 59.0L885.2 56.0M234.6 82.2L248.6 82.2M243.6 84.6L248.6 82.2L243.6 79.8M262.8 82.2L276.1 79.7M271.7 83.0L276.1 79.7L270.8 78.3M291.0 82.2L303.2 81.6M298.4 84.2L303.2 81.6L298.1 79.5M319.2 82.2L332.5 79.3M328.2 82.7L332.5 79.3L327.2 78.0M347.4 82.2L353.4 86.2M348.7 85.6L353.4 86.2L351.0 82.1M375.6 82.2L385.6 79.2M381.6 83.0L385.6 79.2L380.2 78.4M403.8 82.2L416.6 73.6M413.8 78.4L416.6 73.6L411.1 74.4M432.0 82.2L445.9 74.2M442.8 78.7L445.9 74.2L440.4 74.6M460.2 82.2L473.1 72.9M470.5 77.7L473.1 72.9L467.7 73.9M488.4 82.2L497.5 70.1M496.5 75.5L497.5 70.1L492.6 72.6M516.6 82.2L528.5 72.2M526.3 77.2L528.5 72.2L523.2 73.5M544.8 82.2L546.9 57.5M548.9 62.6L546.9 57.5L544.1 62.2M573.0 82.2L578.3 58.6M579.5 63.9L578.3 58.6L574.9 62.9M601.2 82.2L616.2 52.3M616.1 57.8L616.2 52.3L611.8 55.6M629.4 82.2L639.4 49.5M640.2 54.9L639.4 49.5L635.6 53.6M657.6 82.2L666.6 54.4M667.3 59.8L666.6 54.4L662.8 58.3M685.8 82.2L694.1 67.3M693.8 72.8L694.1 67.3L689.6 70.4M714.0 82.2L721.5 68.2M721.3 73.7L721.5 68.2L717.1 71.5M742.2 82.2L742.2 70.3M744.6 75.2L742.2 70.3L739.8 75.2M770.4 82.2L774.1 77.9M773.1 81.8L774.1 77.9L770.4 79.5M798.6 82.2L803.6 77.3M802.1 81.7L803.6 77.3L799.2 78.8M826.8 82.2L829.3 84.0M826.5 83.5L829.3 84.0L827.9 81.5M855.0 82.2L860.9 84.3M856.6 84.8L860.9 84.3L857.8 81.2M883.2 82.2L885.5 84.8M882.7 83.7L885.5 84.8L884.6 81.9M234.6 107.9L249.5 107.9M244.6 110.3L249.5 107.9L244.6 105.5M262.8 107.9L276.5 104.4M272.3 107.9L276.5 104.4L271.1 103.3M291.0 107.9L308.0 94.9M305.5 99.8L308.0 94.9L302.6 96.0M319.2 107.9L342.0 98.5M338.3 102.6L342.0 98.5L336.5 98.2M347.4 107.9L365.7 100.9M361.9 104.9L365.7 100.9L360.2 100.4M375.6 107.9L389.5 99.2M386.5 103.9L389.5 99.2L384.0 99.8M403.8 107.9L423.7 88.0M421.9 93.2L423.7 88.0L418.5 89.8M432.0 107.9L445.9 97.5M443.3 102.4L445.9 97.5L440.5 98.6M460.2 107.9L475.2 97.9M472.4 102.6L475.2 97.9L469.8 98.7M488.4 107.9L497.0 92.7M496.6 98.2L497.0 92.7L492.4 95.9M516.6 107.9L509.7 78.0M513.1 82.3L509.7 78.0L508.5 83.4M544.8 107.9L543.4 85.5M546.1 90.3L543.4 85.5L541.3 90.6M573.0 107.9L577.8 78.3M579.4 83.6L577.8 78.3L574.7 82.8M601.2 107.9L606.4 83.7M607.7 89.0L606.4 83.7L603.0 88.0M629.4 107.9L642.9 83.1M642.6 88.6L642.9 83.1L638.4 86.3M657.6 107.9L667.2 85.8M667.4 91.3L667.2 85.8L663.0 89.4M685.8 107.9L688.2 95.1M689.7 100.4L688.2 95.1L684.9 99.5M714.0 107.9L716.7 95.7M718.0 101.1L716.7 95.7L713.3 100.0M742.2 107.9L742.2 102.8M743.9 106.2L742.2 102.8L740.5 106.2M770.4 107.9L777.4 107.9M773.2 109.9L777.4 107.9L773.2 105.9M798.6 107.9L803.3 108.1M800.0 109.6L803.3 108.1L800.2 106.4M826.8 107.9L826.8 117.9M824.4 112.9L826.8 117.9L829.2 112.9M855.0 107.9L854.0 110.0M854.0 107.4L854.0 110.0L856.0 108.4M883.2 107.9L883.2 113.8M881.4 110.1L883.2 113.8L885.0 110.1M234.6 133.5L244.6 131.6M240.2 134.9L244.6 131.6L239.3 130.2M262.8 133.5L273.9 131.5M269.5 134.7L273.9 131.5L268.6 130.0M291.0 133.5L304.0 128.6M300.2 132.6L304.0 128.6L298.5 128.1M319.2 133.5L336.6 122.8M333.6 127.5L336.6 122.8L331.1 123.4M347.4 133.5L363.4 125.2M360.1 129.6L363.4 125.2L357.9 125.4M375.6 133.5L389.1 127.1M385.7 131.4L389.1 127.1L383.6 127.1M403.8 133.5L418.8 130.5M414.4 133.8L418.8 130.5L413.5 129.1M432.0 133.5L445.1 123.8M442.6 128.7L445.1 123.8L439.7 124.8M460.2 133.5L479.1 119.2M476.6 124.1L479.1 119.2L473.7 120.3M488.4 133.5L502.1 119.0M500.4 124.3L502.1 119.0L496.9 121.0M516.6 133.5L512.7 113.0M516.0 117.4L512.7 113.0L511.3 118.3M544.8 133.5L536.9 113.5M540.9 117.3L536.9 113.5L536.5 119.0M573.0 133.5L571.7 113.1M574.4 117.8L571.7 113.1L569.6 118.2M601.2 133.5L601.2 118.5M603.6 123.5L601.2 118.5L598.8 123.5M629.4 133.5L630.5 114.9M632.6 119.9L630.5 114.9L627.8 119.7M657.6 133.5L656.2 120.0M659.1 124.7L656.2 120.0L654.3 125.2M685.8 133.5L680.9 123.6M685.2 127.0L680.9 123.6L680.9 129.1M714.0 133.5L710.7 128.6M714.3 130.7L710.7 128.6L711.3 132.8M742.2 133.5L737.8 137.2M739.5 133.5L737.8 137.2L741.8 136.2M770.4 133.5L765.5 140.1M766.5 135.0L765.5 140.1L770.1 137.7M798.6 133.5L799.2 138.2M797.2 135.2L799.2 138.2L800.3 134.7M826.8 133.5L824.6 135.4M825.8 132.8L824.6 135.4L827.3 134.7M855.0 133.5L847.2 127.7M852.6 128.8L847.2 127.7L849.7 132.6M883.2 133.5L861.3 113.7M866.6 115.2L861.3 113.7L863.4 118.8M234.6 159.2L245.0 159.3M240.1 161.6L245.0 159.3L240.1 156.9M262.8 159.2L273.7 159.4M268.7 161.7L273.7 159.4L268.8 156.9M291.0 159.2L300.9 161.9M295.5 162.9L300.9 161.9L296.7 158.3M319.2 159.2L330.2 158.4M325.4 161.1L330.2 158.4L325.1 156.3M347.4 159.2L359.4 159.2M354.5 161.6L359.4 159.2L354.4 156.8M375.6 159.2L387.3 153.8M383.8 158.0L387.3 153.8L381.8 153.7M403.8 159.2L415.8 149.2M413.5 154.2L415.8 149.2L410.5 150.6M432.0 159.2L443.4 149.6M441.2 154.6L443.4 149.6L438.1 150.9M460.2 159.2L474.8 148.9M472.1 153.7L474.8 148.9L469.4 149.8M488.4 159.2L498.8 147.6M497.2 152.9L498.8 147.6L493.7 149.7M516.6 159.2L508.5 142.4M512.8 145.8L508.5 142.4L508.5 147.9M544.8 159.2L534.8 134.3M538.9 138.1L534.8 134.3L534.5 139.8M573.0 159.2L563.5 142.9M568.1 146.0L563.5 142.9L563.9 148.4M601.2 159.2L591.9 142.9M596.4 146.1L591.9 142.9L592.3 148.4M629.4 159.2L624.0 139.8M627.6 143.9L624.0 139.8L623.0 145.2M657.6 159.2L648.3 148.0M653.3 150.3L648.3 148.0L649.6 153.3M685.8 159.2L675.7 162.3M679.7 158.6L675.7 162.3L681.1 163.1M714.0 159.2L704.7 165.2M707.6 160.5L704.7 165.2L710.2 164.5M742.2 159.2L738.5 157.6M741.8 157.5L738.5 157.6L740.7 160.1M770.4 159.2L770.0 172.9M767.8 167.9L770.0 172.9L772.6 168.0M798.6 159.2L798.1 170.4M795.9 165.4L798.1 170.4L800.7 165.6M826.8 159.2L828.2 164.5M825.6 161.5L828.2 164.5L829.0 160.6M855.0 159.2L869.6 173.8M864.5 172.0L869.6 173.8L867.8 168.6M234.6 184.8L239.5 188.9M235.3 187.8L239.5 188.9L237.7 184.9M262.8 184.8L267.9 189.1M263.5 188.0L267.9 189.1L266.0 185.0M291.0 184.8L298.8 189.4M293.3 189.0L298.8 189.4L295.7 184.8M319.2 184.8L327.2 186.6M322.2 187.8L327.2 186.6L323.1 183.4M347.4 184.8L360.9 182.6M356.4 185.7L360.9 182.6L355.6 181.0M375.6 184.8L387.6 180.9M383.6 184.7L387.6 180.9L382.2 180.2M403.8 184.8L411.8 178.8M409.3 183.7L411.8 178.8L406.4 179.9M432.0 184.8L443.1 174.7M441.1 179.8L443.1 174.7L437.9 176.2M460.2 184.8L475.2 172.8M472.8 177.8L475.2 172.8L469.8 174.1M488.4 184.8L490.2 172.7M491.9 178.0L490.2 172.7L487.1 177.3M516.6 184.8L496.7 176.8M502.2 176.4L496.7 176.8L500.4 180.9M544.8 184.8L532.0 170.6M537.1 172.7L532.0 170.6L533.5 175.9M573.0 184.8L553.3 176.0M558.8 175.9L553.3 176.0L556.8 180.2M601.2 184.8L569.2 174.8M574.6 174.0L569.2 174.8L573.2 178.6M629.4 184.8L610.1 172.4M615.6 173.1L610.1 172.4L613.0 177.1M657.6 184.8L638.5 173.2M644.0 173.8L638.5 173.2L641.5 177.8M685.8 184.8L666.0 170.2M671.4 171.2L666.0 170.2L668.5 175.0M714.0 184.8L701.8 179.4M707.3 179.3L701.8 179.4L705.4 183.6M742.2 184.8L742.2 172.9M744.6 177.8L742.2 172.9L739.8 177.8M770.4 184.8L767.7 190.7M767.6 186.3L767.7 190.7L771.1 187.9M798.6 184.8L798.6 196.8M796.2 191.9L798.6 196.8L801.0 191.9M826.8 184.8L828.0 192.4M825.2 188.4L828.0 192.4L829.4 187.7M855.0 184.8L864.9 185.0M859.9 187.3L864.9 185.0L860.0 182.5M883.2 184.8L889.8 187.1M885.2 187.7L889.8 187.1L886.5 183.8M234.6 210.5L234.1 216.8M232.5 212.7L234.1 216.8L236.3 213.1M262.8 210.5L262.6 217.1M260.8 213.0L262.6 217.1L264.7 213.1M291.0 210.5L296.5 214.1M292.1 213.5L296.5 214.1L294.2 210.3M319.2 210.5L324.0 211.3M320.5 212.3L324.0 211.3L321.0 209.2M347.4 210.5L355.3 205.5M352.4 210.2L355.3 205.5L349.8 206.1M375.6 210.5L383.6 204.5M381.1 209.4L383.6 204.5L378.2 205.5M403.8 210.5L411.8 202.7M410.0 207.8L411.8 202.7L406.6 204.4M432.0 210.5L446.5 198.6M444.2 203.6L446.5 198.6L441.2 199.9M460.2 210.5L470.5 198.7M469.0 204.0L470.5 198.7L465.4 200.8M488.4 210.5L484.2 195.8M487.8 199.9L484.2 195.8L483.2 201.3M516.6 210.5L509.4 196.9M513.8 200.2L509.4 196.9L509.6 202.4M544.8 210.5L531.4 201.4M536.9 202.2L531.4 201.4L534.2 206.2M573.0 210.5L548.3 210.2M553.3 207.9L548.3 210.2L553.2 212.7M601.2 210.5L577.5 205.3M582.9 204.0L577.5 205.3L581.9 208.7M629.4 210.5L596.2 200.7M601.6 199.8L596.2 200.7L600.3 204.4M657.6 210.5L628.7 200.9M634.2 200.2L628.7 200.9L632.6 204.7M685.8 210.5L665.6 201.2M671.1 201.1L665.6 201.2L669.1 205.5M714.0 210.5L689.3 202.5M694.7 201.8L689.3 202.5L693.2 206.3M742.2 210.5L728.6 205.0M734.1 204.6L728.6 205.0L732.3 209.1M770.4 210.5L763.3 217.7M765.1 212.5L763.3 217.7L768.5 215.9M798.6 210.5L790.6 225.5M790.8 220.0L790.6 225.5L795.0 222.3M826.8 210.5L825.3 219.6M823.8 214.3L825.3 219.6L828.5 215.1M855.0 210.5L862.9 210.6M858.3 212.8L862.9 210.6L858.4 208.3M883.2 210.5L888.7 213.0M884.5 213.1L888.7 213.0L886.0 209.8M234.6 236.1L225.7 243.8M227.9 238.7L225.7 243.8L231.0 242.4M262.8 236.1L252.9 246.0M254.7 240.8L252.9 246.0L258.1 244.2M291.0 236.1L287.8 232.8M291.2 234.0L287.8 232.8L288.9 236.2M319.2 236.1L317.1 231.5M320.0 234.0L317.1 231.5L317.0 235.3M347.4 236.1L351.2 227.8M351.3 233.3L351.2 227.8L347.0 231.3M375.6 236.1L385.3 228.1M383.0 233.1L385.3 228.1L379.9 229.4M403.8 236.1L409.0 226.7M408.7 232.2L409.0 226.7L404.5 229.9M432.0 236.1L443.2 226.0M441.1 231.1L443.2 226.0L437.9 227.6M460.2 236.1L466.2 224.7M466.0 230.2L466.2 224.7L461.8 228.0M488.4 236.1L483.8 217.6M487.3 221.8L483.8 217.6L482.7 222.9M516.6 236.1L511.1 219.2M514.9 223.2L511.1 219.2L510.4 224.7M544.8 236.1L533.2 227.7M538.6 228.7L533.2 227.7L535.8 232.6M573.0 236.1L553.2 238.6M557.8 235.6L553.2 238.6L558.4 240.4M601.2 236.1L582.6 232.9M587.8 231.4L582.6 232.9L587.0 236.1M629.4 236.1L600.6 228.2M606.0 227.2L600.6 228.2L604.7 231.8M657.6 236.1L630.8 228.4M636.3 227.5L630.8 228.4L634.9 232.0M685.8 236.1L658.9 227.4M664.3 226.6L658.9 227.4L662.8 231.2M714.0 236.1L687.3 227.7M692.7 226.9L687.3 227.7L691.3 231.5M742.2 236.1L728.3 238.5M732.8 235.3L728.3 238.5L733.6 240.0M770.4 236.1L760.5 247.8M761.9 242.5L760.5 247.8L765.5 245.6M798.6 236.1L790.3 247.8M791.2 242.3L790.3 247.8L795.1 245.1M826.8 236.1L824.6 248.0M823.2 242.7L824.6 248.0L827.9 243.5M855.0 236.1L855.0 250.9M852.6 245.9L855.0 250.9L857.4 245.9M883.2 236.1L884.0 244.2M881.3 239.8L884.0 244.2L885.8 239.4M234.6 261.8L219.9 252.2M225.3 252.9L219.9 252.2L222.7 256.9M262.8 261.8L252.5 258.9M257.9 257.9L252.5 258.9L256.6 262.5M291.0 261.8L277.3 250.5M282.7 251.8L277.3 250.5L279.6 255.5M319.2 261.8L309.6 250.8M314.6 253.0L309.6 250.8L311.0 256.1M347.4 261.8L340.9 247.7M345.2 251.2L340.9 247.7L340.8 253.2M375.6 261.8L372.7 249.0M376.1 253.3L372.7 249.0L371.4 254.4M403.8 261.8L403.2 250.7M405.9 255.5L403.2 250.7L401.1 255.7M432.0 261.8L423.3 247.3M427.9 250.3L423.3 247.3L423.8 252.7M460.2 261.8L455.8 249.0M459.7 252.9L455.8 249.0L455.1 254.5M488.4 261.8L483.3 247.3M487.2 251.2L483.3 247.3L482.7 252.8M516.6 261.8L511.6 246.8M515.4 250.8L511.6 246.8L510.9 252.3M544.8 261.8L536.1 251.1M541.1 253.5L536.1 251.1L537.4 256.5M573.0 261.8L558.1 257.7M563.5 256.7L558.1 257.7L562.2 261.3M601.2 261.8L591.2 251.8M596.4 253.6L591.2 251.8L593.0 257.0M629.4 261.8L609.2 254.1M614.7 253.6L609.2 254.1L613.0 258.1M657.6 261.8L636.6 255.9M642.1 254.9L636.6 255.9L640.8 259.5M685.8 261.8L665.8 256.8M671.1 255.7L665.8 256.8L670.0 260.3M714.0 261.8L693.8 258.0M699.1 256.6L693.8 258.0L698.2 261.3M742.2 261.8L731.4 273.1M733.1 267.8L731.4 273.1L736.6 271.1M770.4 261.8L760.5 276.0M761.4 270.6L760.5 276.0L765.3 273.3M798.6 261.8L790.6 273.0M791.6 267.6L790.6 273.0L795.4 270.3M826.8 261.8L822.5 274.9M821.7 269.5L822.5 274.9L826.3 271.0M855.0 261.8L850.1 276.7M849.4 271.3L850.1 276.7L853.9 272.8M883.2 261.8L879.8 273.4M878.9 268.0L879.8 273.4L883.5 269.3M234.6 287.4L224.1 265.9M228.4 269.3L224.1 265.9L224.1 271.4M262.8 287.4L250.2 262.5M254.6 265.9L250.2 262.5L250.3 268.0M291.0 287.4L277.2 258.9M281.5 262.3L277.2 258.9L277.2 264.4M319.2 287.4L306.3 266.1M310.9 269.1L306.3 266.1L306.8 271.6M347.4 287.4L338.1 269.1M342.5 272.5L338.1 269.1L338.2 274.6M375.6 287.4L372.1 272.1M375.6 276.4L372.1 272.1L370.9 277.4M403.8 287.4L399.6 275.0M403.4 278.9L399.6 275.0L398.9 280.4M432.0 287.4L421.8 278.0M427.1 279.6L421.8 278.0L423.8 283.2M460.2 287.4L451.6 277.6M456.6 279.7L451.6 277.6L453.0 282.9M488.4 287.4L478.2 278.6M483.5 280.0L478.2 278.6L480.3 283.6M516.6 287.4L507.9 276.9M512.9 279.2L507.9 276.9L509.2 282.2M544.8 287.4L534.2 278.8M539.5 280.0L534.2 278.8L536.5 283.7M573.0 287.4L561.1 279.6M566.6 280.4L561.1 279.6L564.0 284.4M601.2 287.4L588.4 278.6M593.8 279.5L588.4 278.6L591.1 283.4M629.4 287.4L614.5 278.3M620.0 278.9L614.5 278.3L617.5 283.0M657.6 287.4L641.9 282.9M647.3 282.0L641.9 282.9L646.0 286.6M685.8 287.4L673.8 286.5M679.0 284.5L673.8 286.5L678.6 289.3M714.0 287.4L701.2 288.2M706.0 285.5L701.2 288.2L706.3 290.3M742.2 287.4L734.0 299.0M734.9 293.5L734.0 299.0L738.8 296.3M770.4 287.4L763.7 301.3M763.7 295.8L763.7 301.3L768.0 297.9M798.6 287.4L791.4 299.5M791.9 294.0L791.4 299.5L796.0 296.5M826.8 287.4L823.2 302.0M822.1 296.7L823.2 302.0L826.7 297.8M855.0 287.4L850.0 301.4M849.4 295.9L850.0 301.4L853.9 297.5M883.2 287.4L876.9 299.6M877.1 294.1L876.9 299.6L881.3 296.3M234.6 313.1L224.5 288.2M228.6 291.9L224.5 288.2L224.2 293.7M262.8 313.1L251.4 281.4M255.4 285.2L251.4 281.4L250.9 286.8M291.0 313.1L277.6 279.5M281.7 283.3L277.6 279.5L277.2 285.0M319.2 313.1L306.3 289.6M310.8 292.8L306.3 289.6L306.6 295.1M347.4 313.1L337.2 293.2M341.6 296.5L337.2 293.2L337.4 298.7M375.6 313.1L372.2 297.8M375.6 302.1L372.2 297.8L370.9 303.1M403.8 313.1L398.8 301.0M402.9 304.7L398.8 301.0L398.5 306.5M432.0 313.1L421.4 305.1M426.8 306.1L421.4 305.1L423.9 310.0M460.2 313.1L450.6 305.2M455.9 306.5L450.6 305.2L452.9 310.2M488.4 313.1L477.9 305.0M483.3 306.1L477.9 305.0L480.4 309.9M516.6 313.1L506.4 305.0M511.8 306.2L506.4 305.0L508.8 309.9M544.8 313.1L534.1 305.2M539.5 306.2L534.1 305.2L536.7 310.1M573.0 313.1L561.8 305.4M567.2 306.2L561.8 305.4L564.5 310.1M601.2 313.1L588.3 304.9M593.8 305.5L588.3 304.9L591.2 309.5M629.4 313.1L615.4 304.2M620.8 304.9L615.4 304.2L618.3 308.9M657.6 313.1L644.7 309.4M650.1 308.4L644.7 309.4L648.8 313.0M685.8 313.1L675.1 312.7M680.1 310.5L675.1 312.7L680.0 315.3M714.0 313.1L702.6 314.7M707.2 311.6L702.6 314.7L707.8 316.4M742.2 313.1L734.2 324.4M735.1 319.0L734.2 324.4L739.0 321.8M770.4 313.1L763.7 326.6M763.8 321.1L763.7 326.6L768.0 323.3M798.6 313.1L789.9 325.6M790.8 320.1L789.9 325.6L794.7 322.9M826.8 313.1L822.0 327.7M821.3 322.3L822.0 327.7L825.8 323.8M855.0 313.1L846.9 326.9M847.3 321.4L846.9 326.9L851.5 323.9M883.2 313.1L873.4 326.8M874.3 321.4L873.4 326.8L878.2 324.2M234.6 338.8L222.6 308.8M226.7 312.5L222.6 308.8L222.2 314.3M262.8 338.8L257.6 299.4M260.6 304.0L257.6 299.4L255.9 304.6M291.0 338.8L283.2 308.4M286.7 312.6L283.2 308.4L282.1 313.8M319.2 338.8L307.2 313.8M311.5 317.2L307.2 313.8L307.2 319.3M347.4 338.8L339.5 321.3M343.8 324.8L339.5 321.3L339.4 326.8M375.6 338.8L373.6 325.8M376.7 330.3L373.6 325.8L372.0 331.0M403.8 338.8L399.3 327.8M403.4 331.5L399.3 327.8L399.0 333.3M432.0 338.8L422.1 333.6M427.6 333.8L422.1 333.6L425.4 338.0M460.2 338.8L450.9 332.8M456.4 333.5L450.9 332.8L453.8 337.5M488.4 338.8L480.3 330.9M485.5 332.6L480.3 330.9L482.2 336.1M516.6 338.8L508.2 331.1M513.5 332.7L508.2 331.1L510.3 336.2M544.8 338.8L536.4 331.1M541.6 332.6L536.4 331.1L538.4 336.2M573.0 338.8L564.6 331.0M569.9 332.6L564.6 331.0L566.6 336.1M601.2 338.8L590.8 331.4M596.2 332.3L590.8 331.4L593.4 336.2M629.4 338.8L619.3 330.9M624.6 332.1L619.3 330.9L621.7 335.8M657.6 338.8L645.3 335.4M650.7 334.4L645.3 335.4L649.4 339.0M685.8 338.8L673.8 336.8M679.1 335.2L673.8 336.8L678.3 339.9M714.0 338.8L701.7 339.5M706.5 336.8L701.7 339.5L706.8 341.6M742.2 338.8L731.6 349.5M733.4 344.3L731.6 349.5L736.8 347.6M770.4 338.8L760.3 350.7M761.7 345.3L760.3 350.7L765.3 348.4M798.6 338.8L786.0 351.4M787.8 346.2L786.0 351.4L791.2 349.6M826.8 338.8L811.8 353.7M813.6 348.6L811.8 353.7L817.0 351.9M855.0 338.8L842.4 353.1M843.8 347.8L842.4 353.1L847.4 351.0M883.2 338.8L873.2 353.7M874.0 348.3L873.2 353.7L877.9 351.0M234.6 364.4L223.3 339.1M227.5 342.7L223.3 339.1L223.1 344.6M262.8 364.4L254.9 338.8M258.6 342.9L254.9 338.8L254.1 344.3M291.0 364.4L283.1 343.3M287.0 347.1L283.1 343.3L282.6 348.8M319.2 364.4L311.4 349.5M315.8 352.8L311.4 349.5L311.6 355.0M347.4 364.4L340.7 352.1M345.2 355.3L340.7 352.1L341.0 357.6M375.6 364.4L371.7 352.9M375.6 356.8L371.7 352.9L371.1 358.4M403.8 364.4L400.8 353.3M404.4 357.4L400.8 353.3L399.8 358.7M432.0 364.4L424.2 357.9M429.6 359.2L424.2 357.9L426.5 362.9M460.2 364.4L450.7 359.2M456.2 359.5L450.7 359.2L453.9 363.7M488.4 364.4L479.4 358.6M484.8 359.3L479.4 358.6L482.2 363.3M516.6 364.4L507.5 357.9M512.9 358.8L507.5 357.9L510.1 362.7M544.8 364.4L535.1 357.1M540.5 358.2L535.1 357.1L537.6 362.0M573.0 364.4L563.4 358.4M568.9 359.0L563.4 358.4L566.4 363.0M601.2 364.4L590.9 357.4M596.4 358.2L590.9 357.4L593.7 362.2M629.4 364.4L618.6 358.3M624.0 358.7L618.6 358.3L621.7 362.8M657.6 364.4L644.5 361.7M649.8 360.4L644.5 361.7L648.8 365.0M685.8 364.4L671.4 360.8M676.8 359.7L671.4 360.8L675.7 364.3M714.0 364.4L699.8 364.8M704.7 362.3L699.8 364.8L704.8 367.1M742.2 364.4L728.4 375.6M730.7 370.6L728.4 375.6L733.7 374.3M770.4 364.4L756.4 377.7M758.3 372.6L756.4 377.7L761.6 376.1M798.6 364.4L782.9 377.4M785.2 372.4L782.9 377.4L788.2 376.1M826.8 364.4L808.4 379.0M810.8 374.1L808.4 379.0L813.7 377.8M855.0 364.4L838.1 378.8M840.3 373.7L838.1 378.8L843.4 377.4M883.2 364.4L865.4 379.2M867.7 374.2L865.4 379.2L870.8 377.8M234.6 390.1L222.9 365.8M227.2 369.2L222.9 365.8L222.9 371.3M262.8 390.1L254.3 370.8M258.5 374.4L254.3 370.8L254.1 376.3M291.0 390.1L283.1 372.2M287.3 375.8L283.1 372.2L282.9 377.7M319.2 390.1L312.8 379.8M317.4 382.7L312.8 379.8L313.4 385.3M347.4 390.1L340.8 381.2M345.7 383.8L340.8 381.2L341.9 386.6M375.6 390.1L370.5 381.8M375.1 384.7L370.5 381.8L371.0 387.2M403.8 390.1L401.4 378.6M404.7 383.0L401.4 378.6L400.1 384.0M432.0 390.1L425.0 385.3M430.3 386.1L425.0 385.3L427.7 389.9M460.2 390.1L450.5 385.3M456.0 385.3L450.5 385.3L453.9 389.7M488.4 390.1L478.9 386.2M484.4 385.8L478.9 386.2L482.6 390.3M516.6 390.1L507.0 385.6M512.5 385.5L507.0 385.6L510.5 389.8M544.8 390.1L534.8 382.7M540.2 383.7L534.8 382.7L537.4 387.5M573.0 390.1L562.7 388.4M568.0 386.8L562.7 388.4L567.2 391.5M601.2 390.1L591.0 383.2M596.4 383.9L591.0 383.2L593.7 387.9M629.4 390.1L617.7 386.4M623.2 385.6L617.7 386.4L621.8 390.2M657.6 390.1L643.0 389.6M648.0 387.4L643.0 389.6L647.9 392.1M685.8 390.1L670.5 385.5M676.0 384.6L670.5 385.5L674.6 389.2M714.0 390.1L696.9 389.5M701.9 387.3L696.9 389.5L701.8 392.1M742.2 390.1L726.3 402.1M728.8 397.2L726.3 402.1L731.7 401.0M770.4 390.1L754.5 404.5M756.6 399.4L754.5 404.5L759.8 402.9M798.6 390.1L779.4 403.6M782.1 398.8L779.4 403.6L784.8 402.7M826.8 390.1L806.9 404.9M809.4 400.1L806.9 404.9L812.3 403.9M855.0 390.1L834.7 404.6M837.3 399.8L834.7 404.6L840.1 403.7M883.2 390.1L863.2 405.0M865.8 400.1L863.2 405.0L868.6 403.9M234.6 415.7L224.6 395.8M229.0 399.2L224.6 395.8L224.7 401.3M262.8 415.7L254.3 403.1M259.1 405.9L254.3 403.1L255.1 408.6M291.0 415.7L283.9 411.2M289.2 411.8L283.9 411.2L286.7 415.7M319.2 415.7L311.9 410.4M317.3 411.4L311.9 410.4L314.5 415.2M347.4 415.7L339.5 413.9M344.5 412.7L339.5 413.9L343.5 417.1M375.6 415.7L367.9 413.7M372.9 412.7L367.9 413.7L371.7 417.0M403.8 415.7L396.7 412.6M401.7 412.4L396.7 412.6L400.0 416.4M432.0 415.7L424.0 415.7M428.6 413.5L424.0 415.7L428.6 417.9M460.2 415.7L451.6 414.3M456.8 412.8L451.6 414.3L456.0 417.4M488.4 415.7L479.4 415.6M484.4 413.2L479.4 415.6L484.3 418.0M516.6 415.7L507.4 415.6M512.4 413.2L507.4 415.6L512.3 418.0M544.8 415.7L534.5 417.5M539.0 414.3L534.5 417.5L539.8 419.0M573.0 415.7L563.0 420.7M566.4 416.3L563.0 420.7L568.5 420.6M601.2 415.7L589.4 417.6M593.9 414.4L589.4 417.6L594.7 419.2M629.4 415.7L614.6 420.4M618.6 416.6L614.6 420.4L620.0 421.2M657.6 415.7L642.2 419.6M646.4 416.1L642.2 419.6L647.6 420.7M685.8 415.7L662.5 412.2M667.7 410.6L662.5 412.2L667.0 415.3M714.0 415.7L690.2 412.4M695.4 410.7L690.2 412.4L694.7 415.5M742.2 415.7L721.9 424.8M725.5 420.5L721.9 424.8L727.4 424.9M770.4 415.7L745.8 430.5M748.8 425.9L745.8 430.5L751.3 430.0M798.6 415.7L774.8 430.3M777.7 425.7L774.8 430.3L780.2 429.8M826.8 415.7L804.5 430.1M807.4 425.4L804.5 430.1L810.0 429.4M855.0 415.7L830.1 430.7M833.1 426.1L830.1 430.7L835.5 430.2M883.2 415.7L859.8 430.5M862.7 425.8L859.8 430.5L865.3 429.9M234.6 441.4L228.4 437.7M233.1 438.1L228.4 437.7L231.0 441.6M262.8 441.4L255.1 436.7M260.6 437.2L255.1 436.7L258.1 441.3M291.0 441.4L283.2 438.2M288.5 437.8L283.2 438.2L286.7 442.1M319.2 441.4L311.2 438.0M316.6 437.7L311.2 438.0L314.8 442.0M347.4 441.4L339.3 439.3M344.4 438.3L339.3 439.3L343.3 442.7M375.6 441.4L367.4 439.7M372.5 438.4L367.4 439.7L371.6 442.9M403.8 441.4L395.7 440.8M400.5 438.9L395.7 440.8L400.1 443.4M432.0 441.4L423.8 441.3M428.5 439.1L423.8 441.3L428.5 443.6M460.2 441.4L451.4 442.3M456.1 439.4L451.4 442.3L456.6 444.1M488.4 441.4L479.3 442.9M483.8 439.7L479.3 442.9L484.6 444.4M516.6 441.4L507.0 443.5M511.3 440.1L507.0 443.5L512.3 444.7M544.8 441.4L532.4 448.0M535.6 443.5L532.4 448.0L537.9 447.8M573.0 441.4L560.9 448.0M564.1 443.5L560.9 448.0L566.4 447.7M601.2 441.4L588.1 447.2M591.7 443.0L588.1 447.2L593.6 447.4M629.4 441.4L614.6 448.0M618.1 443.8L614.6 448.0L620.0 448.2M657.6 441.4L641.3 446.8M645.2 443.0L641.3 446.8L646.7 447.5M685.8 441.4L663.1 445.0M667.6 441.9L663.1 445.0L668.4 446.6M714.0 441.4L690.5 445.4M695.0 442.2L690.5 445.4L695.8 446.9M742.2 441.4L719.1 452.1M722.6 447.8L719.1 452.1L724.6 452.2M770.4 441.4L742.8 458.1M745.8 453.5L742.8 458.1L748.3 457.6M798.6 441.4L771.7 457.8M774.7 453.2L771.7 457.8L777.2 457.2M826.8 441.4L801.2 457.0M804.2 452.4L801.2 457.0L806.6 456.5M855.0 441.4L826.7 458.8M829.6 454.2L826.7 458.8L832.1 458.2M883.2 441.4L856.3 457.8M859.3 453.2L856.3 457.8L861.8 457.3M234.6 467.0L231.4 474.7M231.1 469.5L231.4 474.7L235.3 471.2M262.8 467.0L255.2 467.5M259.5 465.1L255.2 467.5L259.7 469.3M291.0 467.0L283.0 465.1M288.1 464.0L283.0 465.1L287.0 468.4M319.2 467.0L310.2 466.0M315.4 464.2L310.2 466.0L314.9 468.9M347.4 467.0L339.3 465.1M344.4 464.0L339.3 465.1L343.4 468.4M375.6 467.0L366.6 466.6M371.7 464.4L366.6 466.6L371.5 469.2M403.8 467.0L395.3 467.4M400.0 464.9L395.3 467.4L400.2 469.5M432.0 467.0L423.7 467.4M428.3 464.9L423.7 467.4L428.5 469.5M460.2 467.0L451.1 470.3M454.9 466.4L451.1 470.3L456.5 470.9M488.4 467.0L479.4 469.1M483.7 465.7L479.4 469.1L484.8 470.3M516.6 467.0L506.7 472.3M510.0 467.8L506.7 472.3L512.2 472.0M544.8 467.0L531.0 476.4M533.8 471.6L531.0 476.4L536.5 475.6M573.0 467.0L558.7 476.7M561.5 471.9L558.7 476.7L564.2 475.9M601.2 467.0L587.4 475.4M590.4 470.8L587.4 475.4L592.9 474.9M629.4 467.0L614.4 475.0M617.6 470.6L614.4 475.0L619.9 474.8M657.6 467.0L640.8 475.5M644.2 471.1L640.8 475.5L646.3 475.4M685.8 467.0L661.9 475.6M665.8 471.6L661.9 475.6L667.4 476.1M714.0 467.0L689.7 475.8M693.6 471.8L689.7 475.8L695.2 476.3M742.2 467.0L717.7 480.8M720.9 476.3L717.7 480.8L723.2 480.4M770.4 467.0L739.0 486.6M742.0 481.9L739.0 486.6L744.5 486.0M798.6 467.0L768.5 485.6M771.4 481.0L768.5 485.6L773.9 485.1M826.8 467.0L798.7 483.9M801.7 479.3L798.7 483.9L804.1 483.4M855.0 467.0L823.2 486.9M826.1 482.2L823.2 486.9L828.6 486.3M883.2 467.0L853.2 485.3M856.2 480.7L853.2 485.3L858.7 484.7M234.6 492.6L229.5 502.3M229.7 496.8L229.5 502.3L233.9 499.1M262.8 492.6L253.4 496.6M257.1 492.5L253.4 496.6L258.9 496.9M291.0 492.6L279.1 497.5M282.8 493.4L279.1 497.5L284.6 497.9M319.2 492.6L308.1 495.0M312.5 491.6L308.1 495.0L313.5 496.3M347.4 492.6L335.5 495.6M339.7 492.1L335.5 495.6L340.9 496.7M375.6 492.6L364.6 495.2M368.9 491.7L364.6 495.2L369.9 496.4M403.8 492.6L392.4 495.7M396.6 492.1L392.4 495.7L397.8 496.7M432.0 492.6L420.4 495.9M424.5 492.3L420.4 495.9L425.9 496.9M460.2 492.6L450.6 500.5M452.9 495.5L450.6 500.5L455.9 499.2M488.4 492.6L478.4 502.6M480.3 497.4L478.4 502.6L483.6 500.8M516.6 492.6L507.0 503.1M508.6 497.8L507.0 503.1L512.1 501.1M544.8 492.6L534.6 503.3M536.3 498.1L534.6 503.3L539.7 501.4M573.0 492.6L562.5 503.1M564.4 497.9L562.5 503.1L567.7 501.3M601.2 492.6L587.8 504.2M590.0 499.1L587.8 504.2L593.1 502.8M629.4 492.6L614.4 502.7M617.2 497.9L614.4 502.7L619.9 501.9M657.6 492.6L640.8 504.5M643.4 499.7L640.8 504.5L646.2 503.6M685.8 492.6L662.1 509.3M664.7 504.5L662.1 509.3L667.5 508.4M714.0 492.6L690.0 509.6M692.6 504.8L690.0 509.6L695.4 508.7M742.2 492.6L718.8 510.1M721.4 505.2L718.8 510.1L724.2 509.1M770.4 492.6L737.4 514.1M740.2 509.4L737.4 514.1L742.9 513.4M798.6 492.6L767.3 512.3M770.2 507.7L767.3 512.3L772.7 511.7M826.8 492.6L797.9 509.2M801.0 504.7L797.9 509.2L803.4 508.9M855.0 492.6L821.3 514.3M824.1 509.7L821.3 514.3L826.7 513.7M883.2 492.6L852.0 511.4M855.0 506.8L852.0 511.4L857.5 510.9M234.6 518.3L226.5 525.3M228.6 520.3L226.5 525.3L231.8 523.9M262.8 518.3L251.6 522.7M255.3 518.7L251.6 522.7L257.1 523.1M291.0 518.3L278.2 522.9M282.0 519.0L278.2 522.9L283.7 523.5M319.2 518.3L306.6 522.5M310.5 518.7L306.6 522.5L312.0 523.2M347.4 518.3L334.5 523.0M338.4 519.0L334.5 523.0L340.0 523.5M375.6 518.3L363.2 523.4M366.9 519.3L363.2 523.4L368.7 523.7M403.8 518.3L391.4 524.0M394.9 519.8L391.4 524.0L396.9 524.1M432.0 518.3L419.8 524.8M423.1 520.3L419.8 524.8L425.3 524.6M460.2 518.3L451.6 534.1M451.9 528.6L451.6 534.1L456.1 530.9M488.4 518.3L480.0 534.2M480.2 528.7L480.0 534.2L484.4 531.0M516.6 518.3L508.6 536.6M508.4 531.1L508.6 536.6L512.8 533.1M544.8 518.3L536.9 538.7M536.5 533.2L536.9 538.7L540.9 535.0M573.0 518.3L562.8 533.6M563.6 528.1L562.8 533.6L567.5 530.8M601.2 518.3L588.8 539.6M589.2 534.1L588.8 539.6L593.4 536.5M629.4 518.3L614.6 531.0M616.8 526.0L614.6 531.0L619.9 529.6M657.6 518.3L639.7 537.0M641.4 531.7L639.7 537.0L644.8 535.0M685.8 518.3L664.5 537.6M666.6 532.5L664.5 537.6L669.8 536.0M714.0 518.3L693.6 538.3M695.5 533.1L693.6 538.3L698.8 536.6M742.2 518.3L728.3 545.9M728.4 540.4L728.3 545.9L732.7 542.5M770.4 518.3L742.1 538.7M744.7 533.8L742.1 538.7L747.5 537.7M798.6 518.3L769.4 534.3M772.6 529.8L769.4 534.3L774.9 534.0M826.8 518.3L799.1 531.4M802.6 527.1L799.1 531.4L804.6 531.5M855.0 518.3L824.3 535.0M827.6 530.5L824.3 535.0L829.8 534.7M883.2 518.3L854.2 532.6M857.6 528.2L854.2 532.6L859.7 532.5M234.6 543.9L222.6 548.9M226.3 544.8L222.6 548.9L228.1 549.2M262.8 543.9L249.4 547.8M253.5 544.1L249.4 547.8L254.8 548.7M291.0 543.9L276.0 549.0M279.9 545.1L276.0 549.0L281.5 549.7M319.2 543.9L305.0 549.9M308.7 545.7L305.0 549.9L310.5 550.2M347.4 543.9L332.4 551.9M335.7 547.5L332.4 551.9L337.9 551.7M375.6 543.9L362.0 551.9M365.0 547.3L362.0 551.9L367.5 551.5M403.8 543.9L389.8 553.0M392.7 548.3L389.8 553.0L395.3 552.3M432.0 543.9L417.7 553.0M420.6 548.4L417.7 553.0L423.2 552.4M460.2 543.9L453.5 568.3M452.5 562.9L453.5 568.3L457.2 564.2M488.4 543.9L483.3 573.4M481.8 568.1L483.3 573.4L486.5 568.9M516.6 543.9L510.4 570.4M509.2 565.0L510.4 570.4L513.9 566.1M544.8 543.9L539.7 575.8M538.2 570.5L539.7 575.8L542.9 571.2M573.0 543.9L563.3 568.3M562.9 562.8L563.3 568.3L567.4 564.6M601.2 543.9L589.2 571.9M589.0 566.4L589.2 571.9L593.4 568.3M629.4 543.9L615.5 565.5M616.2 560.1L615.5 565.5L620.2 562.7M657.6 543.9L638.1 568.1M639.3 562.8L638.1 568.1L643.0 565.8M685.8 543.9L666.4 567.7M667.7 562.4L666.4 567.7L671.4 565.4M714.0 543.9L700.8 570.6M700.8 565.1L700.8 570.6L705.1 567.3M742.2 543.9L734.1 578.9M732.9 573.5L734.1 578.9L737.6 574.6M770.4 543.9L751.1 562.2M753.0 557.0L751.1 562.2L756.3 560.5M798.6 543.9L768.7 558.9M772.0 554.5L768.7 558.9L774.2 558.8M826.8 543.9L801.1 551.4M805.2 547.7L801.1 551.4L806.6 552.3M855.0 543.9L827.1 555.7M830.7 551.6L827.1 555.7L832.6 556.0M883.2 543.9L857.3 551.2M861.4 547.6L857.3 551.2L862.7 552.2M234.6 569.6L219.8 556.6M225.1 558.1L219.8 556.6L221.9 561.7M262.8 569.6L247.9 572.4M252.4 569.1L247.9 572.4L253.2 573.8M291.0 569.6L275.1 579.1M278.1 574.5L275.1 579.1L280.6 578.6M319.2 569.6L304.0 577.4M307.3 573.0L304.0 577.4L309.5 577.3M347.4 569.6L331.6 579.4M334.5 574.7L331.6 579.4L337.0 578.8M375.6 569.6L361.6 580.0M364.2 575.1L361.6 580.0L367.0 579.0M403.8 569.6L393.0 592.4M393.0 586.9L393.0 592.4L397.3 589.0M432.0 569.6L421.9 595.4M421.5 589.9L421.9 595.4L425.9 591.6M460.2 569.6L454.7 597.3M453.3 591.9L454.7 597.3L458.0 592.9M488.4 569.6L484.8 602.5M482.9 597.3L484.8 602.5L487.7 597.8M516.6 569.6L511.0 598.1M509.6 592.8L511.0 598.1L514.3 593.7M544.8 569.6L539.6 603.3M538.0 598.1L539.6 603.3L542.7 598.8M573.0 569.6L564.3 595.8M563.6 590.4L564.3 595.8L568.2 591.9M601.2 569.6L591.1 598.9M590.4 593.5L591.1 598.9L595.0 595.0M629.4 569.6L616.3 592.9M616.6 587.5L616.3 592.9L620.8 589.8M657.6 569.6L638.4 593.5M639.7 588.2L638.4 593.5L643.4 591.2M685.8 569.6L666.9 593.3M668.2 588.0L666.9 593.3L671.9 590.9M714.0 569.6L702.3 597.4M702.0 591.9L702.3 597.4L706.4 593.7M742.2 569.6L735.5 606.1M734.1 600.8L735.5 606.1L738.8 601.7M770.4 569.6L755.7 579.5M758.5 574.7L755.7 579.5L761.2 578.7M798.6 569.6L782.9 547.7M787.7 550.3L782.9 547.7L783.8 553.1M826.8 569.6L807.7 559.4M813.2 559.6L807.7 559.4L810.9 563.8M855.0 569.6L839.1 547.5M843.9 550.1L839.1 547.5L840.0 552.9M883.2 569.6L864.6 556.3M870.0 557.2L864.6 556.3L867.2 561.1M234.6 595.2L219.0 586.8M224.5 587.0L219.0 586.8L222.2 591.2M262.8 595.2L246.3 599.6M250.5 596.1L246.3 599.6L251.7 600.7M291.0 595.2L274.2 605.3M277.2 600.7L274.2 605.3L279.7 604.8M319.2 595.2L302.7 604.3M305.9 599.8L302.7 604.3L308.2 604.0M347.4 595.2L331.1 605.7M333.9 601.0L331.1 605.7L336.5 605.0M375.6 595.2L361.2 606.8M363.6 601.8L361.2 606.8L366.6 605.5M403.8 595.2L394.3 618.6M394.0 613.1L394.3 618.6L398.4 614.9M432.0 595.2L423.3 621.2M422.6 615.7L423.3 621.2L427.2 617.2M460.2 595.2L455.1 622.4M453.7 617.1L455.1 622.4L458.4 618.0M488.4 595.2L484.7 626.6M482.9 621.4L484.7 626.6L487.6 622.0M516.6 595.2L512.0 622.4M510.4 617.1L512.0 622.4L515.2 617.9M544.8 595.2L540.2 626.9M538.6 621.7L540.2 626.9L543.3 622.4M573.0 595.2L565.6 620.4M564.7 615.0L565.6 620.4L569.3 616.3M601.2 595.2L591.9 623.5M591.2 618.0L591.9 623.5L595.7 619.5M629.4 595.2L617.1 617.8M617.3 612.3L617.1 617.8L621.5 614.6M657.6 595.2L638.8 618.0M640.1 612.7L638.8 618.0L643.8 615.7M685.8 595.2L667.2 617.9M668.5 612.5L667.2 617.9L672.2 615.5M714.0 595.2L702.4 621.6M702.2 616.1L702.4 621.6L706.6 618.0M742.2 595.2L735.0 629.0M733.7 623.6L735.0 629.0L738.3 624.6M770.4 595.2L757.1 601.1M760.6 596.9L757.1 601.1L762.6 601.3M798.6 595.2L783.1 574.1M788.0 576.6L783.1 574.1L784.1 579.5M826.8 595.2L809.8 578.8M815.0 580.6L809.8 578.8L811.7 584.0M855.0 595.2L839.3 572.7M844.1 575.4L839.3 572.7L840.2 578.1M883.2 595.2L866.2 576.6M871.3 578.7L866.2 576.6L867.8 581.9M234.6 620.9L216.6 628.9M220.2 624.7L216.6 628.9L222.1 629.0M262.8 620.9L244.5 628.7M248.1 624.5L244.5 628.7L249.9 629.0M291.0 620.9L269.0 636.9M271.6 632.0L269.0 636.9L274.4 635.9M319.2 620.9L301.2 630.5M304.4 626.1L301.2 630.5L306.7 630.3M347.4 620.9L327.4 636.9M329.8 631.9L327.4 636.9L332.8 635.7M375.6 620.9L360.0 631.8M362.7 627.0L360.0 631.8L365.4 630.9M403.8 620.9L397.5 645.1M396.4 639.7L397.5 645.1L401.1 640.9M432.0 620.9L426.7 648.3M425.3 643.0L426.7 648.3L429.9 643.9M460.2 620.9L455.8 646.5M454.3 641.2L455.8 646.5L459.0 642.0M488.4 620.9L485.3 654.8M483.4 649.6L485.3 654.8L488.1 650.1M516.6 620.9L513.8 643.5M512.0 638.3L513.8 643.5L516.8 638.9M544.8 620.9L544.7 652.7M542.4 647.8L544.7 652.7L547.1 647.8M573.0 620.9L567.3 641.6M566.3 636.2L567.3 641.6L570.9 637.5M601.2 620.9L596.2 650.9M594.7 645.6L596.2 650.9L599.4 646.4M629.4 620.9L618.1 640.4M618.5 634.9L618.1 640.4L622.7 637.3M657.6 620.9L638.0 642.3M639.6 637.0L638.0 642.3L643.1 640.3M685.8 620.9L666.5 641.9M668.1 636.6L666.5 641.9L671.6 639.9M714.0 620.9L702.1 644.4M702.2 638.9L702.1 644.4L706.5 641.0M742.2 620.9L737.2 655.9M735.5 650.6L737.2 655.9L740.3 651.3M770.4 620.9L756.3 624.1M760.6 620.6L756.3 624.1L761.7 625.3M798.6 620.9L783.6 595.9M788.2 598.9L783.6 595.9L784.1 601.4M826.8 620.9L809.3 603.6M814.5 605.4L809.3 603.6L811.1 608.8M855.0 620.9L839.9 596.0M844.6 599.0L839.9 596.0L840.5 601.5M883.2 620.9L865.9 601.2M871.0 603.3L865.9 601.2L867.4 606.5M234.6 646.5L214.7 656.4M218.0 652.0L214.7 656.4L220.2 656.3M262.8 646.5L245.7 650.3M250.0 646.9L245.7 650.3L251.0 651.5M291.0 646.5L271.0 658.5M274.0 653.9L271.0 658.5L276.5 658.0M319.2 646.5L303.0 650.0M307.3 646.6L303.0 650.0L308.3 651.3M347.4 646.5L329.4 656.5M332.6 652.0L329.4 656.5L334.9 656.2M375.6 646.5L361.2 649.7M365.6 646.3L361.2 649.7L366.6 651.0M403.8 646.5L396.9 640.6M402.2 642.0L396.9 640.6L399.1 645.6M432.0 646.5L426.2 638.3M431.0 641.0L426.2 638.3L427.1 643.7M460.2 646.5L454.6 643.7M458.9 643.8L454.6 643.7L457.2 647.1M488.4 646.5L483.4 637.1M487.8 640.3L483.4 637.1L483.6 642.5M516.6 646.5L513.2 645.5M516.2 645.0L513.2 645.5L515.5 647.6M544.8 646.5L543.8 635.2M546.6 639.9L543.8 635.2L541.8 640.3M573.0 646.5L566.0 648.0M569.7 645.1L566.0 648.0L570.6 649.1M601.2 646.5L591.6 638.2M596.9 639.7L591.6 638.2L593.7 643.3M629.4 646.5L616.6 653.5M619.8 649.0L616.6 653.5L622.1 653.2M657.6 646.5L638.4 664.6M640.4 659.5L638.4 664.6L643.6 662.9M685.8 646.5L666.4 664.1M668.4 659.0L666.4 664.1L671.6 662.6M714.0 646.5L695.0 655.6M698.5 651.3L695.0 655.6L700.5 655.7M742.2 646.5L719.8 646.5M724.7 644.1L719.8 646.5L724.7 648.9M770.4 646.5L750.3 645.8M755.3 643.6L750.3 645.8L755.1 648.4M798.6 646.5L775.0 639.8M780.4 638.9L775.0 639.8L779.1 643.5M826.8 646.5L804.3 637.1M809.7 636.8L804.3 637.1L807.9 641.2M855.0 646.5L827.4 639.0M832.8 638.0L827.4 639.0L831.6 642.7M883.2 646.5L858.5 636.8M863.9 636.4L858.5 636.8L862.2 640.8M234.6 672.2L219.6 660.4M224.9 661.6L219.6 660.4L222.0 665.4M262.8 672.2L249.8 663.4M255.2 664.2L249.8 663.4L252.5 668.2M291.0 672.2L286.0 652.3M289.5 656.5L286.0 652.3L284.9 657.7M319.2 672.2L307.3 661.5M312.6 663.0L307.3 661.5L309.4 666.6M347.4 672.2L337.4 652.3M341.7 655.7L337.4 652.3L337.5 657.8M375.6 672.2L364.3 660.5M369.5 662.4L364.3 660.5L366.0 665.7M403.8 672.2L396.6 656.9M400.9 660.3L396.6 656.9L396.5 662.4M432.0 672.2L425.7 655.5M429.7 659.3L425.7 655.5L425.2 661.0M460.2 672.2L453.5 658.3M457.8 661.7L453.5 658.3L453.5 663.8M488.4 672.2L482.6 654.8M486.5 658.8L482.6 654.8L481.9 660.3M516.6 672.2L511.6 660.1M515.7 663.8L511.6 660.1L511.3 665.6M544.8 672.2L543.2 654.5M546.0 659.2L543.2 654.5L541.2 659.7M573.0 672.2L564.1 664.1M569.4 665.7L564.1 664.1L566.2 669.2M601.2 672.2L590.7 659.2M595.7 661.6L590.7 659.2L592.0 664.6M629.4 672.2L615.0 671.7M620.0 669.5L615.0 671.7L619.9 674.3M657.6 672.2L637.6 686.9M640.1 682.0L637.6 686.9L643.0 685.9M685.8 672.2L665.2 685.7M668.1 681.0L665.2 685.7L670.7 685.0M714.0 672.2L691.0 673.8M695.8 671.1L691.0 673.8L696.1 675.8M742.2 672.2L717.3 668.0M722.6 666.5L717.3 668.0L721.8 671.2M770.4 672.2L746.2 669.1M751.4 667.4L746.2 669.1L750.8 672.1M798.6 672.2L773.5 667.2M778.8 665.8L773.5 667.2L777.9 670.5M826.8 672.2L801.1 666.5M806.4 665.2L801.1 666.5L805.4 669.9M855.0 672.2L825.6 667.0M830.9 665.5L825.6 667.0L830.0 670.2M883.2 672.2L855.3 666.3M860.7 665.0L855.3 666.3L859.7 669.7M234.6 697.9L219.6 687.9M225.0 688.6L219.6 687.9L222.4 692.6M262.8 697.9L249.1 684.5M254.3 686.2L249.1 684.5L251.0 689.7M291.0 697.9L276.0 677.9M280.9 680.4L276.0 677.9L277.1 683.3M319.2 697.9L307.1 680.8M311.9 683.5L307.1 680.8L308.0 686.2M347.4 697.9L337.4 672.9M341.5 676.6L337.4 672.9L337.0 678.4M375.6 697.9L364.9 679.6M369.5 682.6L364.9 679.6L365.3 685.0M403.8 697.9L393.9 679.4M398.4 682.7L393.9 679.4L394.1 684.9M432.0 697.9L422.1 678.7M426.5 682.0L422.1 678.7L422.3 684.2M460.2 697.9L450.7 680.7M455.2 683.9L450.7 680.7L451.0 686.2M488.4 697.9L478.5 678.2M482.8 681.6L478.5 678.2L478.6 683.7M516.6 697.9L507.3 683.4M512.0 686.3L507.3 683.4L508.0 688.9M544.8 697.9L534.8 679.9M539.3 683.1L534.8 679.9L535.1 685.4M573.0 697.9L560.9 689.1M566.3 690.1L560.9 689.1L563.5 693.9M601.2 697.9L586.2 689.9M591.7 690.1L586.2 689.9L589.4 694.3M629.4 697.9L613.0 694.7M618.3 693.3L613.0 694.7L617.4 698.0M657.6 697.9L633.3 695.7M638.4 693.8L633.3 695.7L638.0 698.5M685.8 697.9L661.6 696.4M666.6 694.3L661.6 696.4L666.4 699.1M714.0 697.9L688.1 696.0M693.2 693.9L688.1 696.0L692.8 698.7M742.2 697.9L712.2 692.9M717.5 691.3L712.2 692.9L716.7 696.0M770.4 697.9L743.4 693.9M748.6 692.3L743.4 693.9L748.0 697.0M798.6 697.9L768.6 692.9M773.9 691.3L768.6 692.9L773.1 696.0M826.8 697.9L799.1 692.9M804.4 691.5L799.1 692.9L803.5 696.2M855.0 697.9L825.0 692.8M830.3 691.3L825.0 692.8L829.5 696.0M883.2 697.9L854.6 692.8M859.9 691.3L854.6 692.8L859.1 696.0M234.6 723.5L219.7 713.5M225.1 714.2L219.7 713.5L222.5 718.2M262.8 723.5L248.4 709.3M253.6 711.1L248.4 709.3L250.2 714.5M291.0 723.5L276.4 704.6M281.3 707.0L276.4 704.6L277.5 709.9M319.2 723.5L305.8 704.8M310.6 707.5L305.8 704.8L306.7 710.3M347.4 723.5L333.9 700.1M338.4 703.2L333.9 700.1L334.3 705.6M375.6 723.5L363.5 703.8M368.1 706.8L363.5 703.8L364.1 709.3M403.8 723.5L393.6 705.2M398.1 708.4L393.6 705.2L393.9 710.7M432.0 723.5L422.0 705.1M426.5 708.3L422.0 705.1L422.3 710.6M460.2 723.5L450.3 708.1M455.0 710.9L450.3 708.1L451.0 713.5M488.4 723.5L478.4 708.2M483.1 711.0L478.4 708.2L479.1 713.6M516.6 723.5L505.0 711.9M510.2 713.7L505.0 711.9L506.8 717.1M544.8 723.5L531.5 713.4M536.9 714.5L531.5 713.4L534.0 718.3M573.0 723.5L559.5 716.2M565.0 716.4L559.5 716.2L562.7 720.6M601.2 723.5L586.3 718.0M591.8 717.5L586.3 718.0L590.1 721.9M629.4 723.5L612.2 720.0M617.5 718.6L612.2 720.0L616.5 723.3M657.6 723.5L633.9 721.2M639.0 719.3L633.9 721.2L638.6 724.0M685.8 723.5L661.7 721.4M666.8 719.4L661.7 721.4L666.4 724.2M714.0 723.5L689.0 720.6M694.2 718.8L689.0 720.6L693.6 723.5M742.2 723.5L716.3 718.9M721.6 717.4L716.3 718.9L720.7 722.1M770.4 723.5L744.4 719.3M749.7 717.8L744.4 719.3L748.9 722.5M798.6 723.5L772.5 718.7M777.8 717.2L772.5 718.7L777.0 721.9M826.8 723.5L800.5 718.8M805.8 717.3L800.5 718.8L804.9 722.0M855.0 723.5L828.8 718.6M834.1 717.1L828.8 718.6L833.2 721.8M883.2 723.5L856.8 718.6M862.1 717.2L856.8 718.6L861.2 721.9M234.6 749.1L219.6 739.1M225.1 739.9L219.6 739.1L222.4 743.9M262.8 749.1L248.2 734.3M253.4 736.2L248.2 734.3L249.9 739.5M291.0 749.1L276.0 729.3M280.9 731.8L276.0 729.3L277.1 734.7M319.2 749.1L305.0 729.7M309.9 732.3L305.0 729.7L306.0 735.1M347.4 749.1L332.5 724.4M337.1 727.4L332.5 724.4L333.0 729.9M375.6 749.1L362.4 728.5M367.1 731.4L362.4 728.5L363.0 733.9M403.8 749.1L393.6 730.1M398.0 733.4L393.6 730.1L393.8 735.6M432.0 749.1L422.0 729.9M426.4 733.2L422.0 729.9L422.1 735.4M460.2 749.1L450.1 734.4M454.9 737.2L450.1 734.4L451.0 739.9M488.4 749.1L478.3 734.4M483.1 737.2L478.3 734.4L479.2 739.9M516.6 749.1L503.6 739.6M509.0 740.6L503.6 739.6L506.2 744.4M544.8 749.1L529.9 741.1M535.4 741.4L529.9 741.1L533.2 745.6M573.0 749.1L558.7 743.0M564.2 742.8L558.7 743.0L562.3 747.2M601.2 749.1L586.2 744.2M591.7 743.5L586.2 744.2L590.1 748.0M629.4 749.1L612.1 745.5M617.4 744.2L612.1 745.5L616.4 748.9M657.6 749.1L633.2 746.3M638.4 744.5L633.2 746.3L637.9 749.3M685.8 749.1L661.3 746.4M666.5 744.6L661.3 746.4L666.0 749.4M714.0 749.1L689.7 745.6M695.0 744.0L689.7 745.6L694.3 748.7M742.2 749.1L717.2 744.2M722.5 742.8L717.2 744.2L721.6 747.5M770.4 749.1L745.5 744.9M750.8 743.3L745.5 744.9L750.0 748.1M798.6 749.1L773.6 744.2M778.9 742.8L773.6 744.2L778.0 747.5M826.8 749.1L801.6 744.5M807.0 743.0L801.6 744.5L806.1 747.7M855.0 749.1L830.0 744.2M835.3 742.8L830.0 744.2L834.4 747.5M883.2 749.1L858.1 744.4M863.4 742.9L858.1 744.4L862.5 747.6"/>
<g fill="none" stroke="#7a14ff" stroke-width="2"><circle cx="459.0" cy="158.3" r="5"/><circle cx="734.4" cy="94.8" r="5"/><circle cx="326.8" cy="232.2" r="5"/><circle cx="577.6" cy="175.4" r="5"/><circle cx="599.5" cy="197.2" r="5"/><circle cx="537.0" cy="235.7" r="5"/><circle cx="486.0" cy="244.7" r="5"/><circle cx="605.7" cy="270.1" r="5"/><circle cx="259.0" cy="302.8" r="5"/><circle cx="397.5" cy="355.9" r="5"/><circle cx="523.5" cy="334.6" r="5"/><circle cx="671.0" cy="400.0" r="5"/><circle cx="748.3" cy="411.5" r="5"/><circle cx="718.5" cy="445.8" r="5"/><circle cx="630.7" cy="410.4" r="5"/><circle cx="553.7" cy="458.7" r="5"/><circle cx="604.7" cy="508.3" r="5"/><circle cx="261.2" cy="462.0" r="5"/><circle cx="332.0" cy="496.2" r="5"/><circle cx="336.7" cy="584.0" r="5"/><circle cx="213.3" cy="626.3" r="5"/><circle cx="522.0" cy="529.5" r="5"/><circle cx="714.6" cy="572.8" r="5"/><circle cx="387.8" cy="694.4" r="5"/><circle cx="542.2" cy="678.2" r="5"/></g>
</g>
<rect x="207" y="50" width="685.5" height="699" fill="none" stroke="#000" stroke-width="2.4"/>
<!-- title -->
<g class="t">
<text x="172.0" y="33.6" textLength="52.3" lengthAdjust="spacingAndGlyphs">2026</text>
<text x="252.3" y="33.6" textLength="24.2" lengthAdjust="spacingAndGlyphs">03</text>
<text x="306.4" y="33.6" textLength="24.6" lengthAdjust="spacingAndGlyphs">20</text>
<text x="357.0" y="33.6" textLength="42.7" lengthAdjust="spacingAndGlyphs">WRF</text>
<text x="417.8" y="33.6" textLength="63.9" lengthAdjust="spacingAndGlyphs">cmaq</text>
<text x="532.6" y="33.6" textLength="61.4" lengthAdjust="spacingAndGlyphs">12km</text>
<text x="702.3" y="33.6" textLength="25.7" lengthAdjust="spacingAndGlyphs">03</text>
<text x="756.4" y="33.6" textLength="25.1" lengthAdjust="spacingAndGlyphs">20</text>
<text x="807.4" y="33.6" textLength="22.4" lengthAdjust="spacingAndGlyphs">21</text>
<text x="404" y="35" font-size="26">/</text>
<text x="692.5" y="33.6">:</text>
<text x="871.3" y="33.6" textLength="41.4" lengthAdjust="spacingAndGlyphs" fill="#f22">AQI</text>
</g>
<g class="c">
<text x="228.9" y="33.5" textLength="22.6" lengthAdjust="spacingAndGlyphs">年</text>
<text x="281.0" y="33.5" textLength="17.5" lengthAdjust="spacingAndGlyphs">月</text>
<text x="337.5" y="32.5" font-size="21" textLength="15" lengthAdjust="spacingAndGlyphs">日</text>
<text x="482.9" y="33.5" textLength="22.6" lengthAdjust="spacingAndGlyphs">模</text>
<text x="506.2" y="33.5" textLength="23.3" lengthAdjust="spacingAndGlyphs">式</text>
<text x="597.3" y="33.5" textLength="22.7" lengthAdjust="spacingAndGlyphs">预</text>
<text x="620.5" y="33.5" textLength="22.5" lengthAdjust="spacingAndGlyphs">报</text>
<text x="643.9" y="33.5" textLength="23.6" lengthAdjust="spacingAndGlyphs">产</text>
<text x="669.8" y="33.5" textLength="18.3" lengthAdjust="spacingAndGlyphs">品</text>
<text x="730.3" y="33.5" textLength="18.2" lengthAdjust="spacingAndGlyphs">月</text>
<text x="787.7" y="32.5" font-size="21" textLength="15" lengthAdjust="spacingAndGlyphs">日</text>
<text x="836.2" y="33.5" textLength="21.7" lengthAdjust="spacingAndGlyphs">时</text>
</g>
<!-- lat labels -->
<g class="lab" text-anchor="end">
<text x="191" y="71.4">44°N</text>
<text x="191" y="160.4">41°N</text>
<text x="191" y="249.4">38°N</text>
<text x="191" y="338.4">35°N</text>
<text x="191" y="427.4">32°N</text>
<text x="191" y="516.4">29°N</text>
<text x="191" y="605.4">26°N</text>
<text x="191" y="694.4">23°N</text>
</g>
<g stroke="#000" stroke-width="1.3">
<path d="M197 64.4H207M197 153.4H207M197 242.4H207M197 331.4H207M197 420.4H207M197 509.4H207M197 598.4H207M197 687.4H207"/>
<path d="M215.5 749V760M313.7 749V760M411.5 749V760M508.4 749V760M606.1 749V760M703.5 749V760M801.7 749V760M892.5 749V760"/>
</g>
<g class="lab">
<text x="199" y="783" textLength="54" lengthAdjust="spacingAndGlyphs">103°E</text>
<text x="296" y="783" textLength="54" lengthAdjust="spacingAndGlyphs">106°E</text>
<text x="394" y="783" textLength="54" lengthAdjust="spacingAndGlyphs">109°E</text>
<text x="491" y="783" textLength="54" lengthAdjust="spacingAndGlyphs">112°E</text>
<text x="589" y="783" textLength="54" lengthAdjust="spacingAndGlyphs">115°E</text>
<text x="686" y="783" textLength="54" lengthAdjust="spacingAndGlyphs">118°E</text>
<text x="784" y="783" textLength="54" lengthAdjust="spacingAndGlyphs">121°E</text>
<text x="875.5" y="783" textLength="54" lengthAdjust="spacingAndGlyphs">124°E</text>
</g>
<!-- reference vector -->
<g stroke="#000" stroke-width="1.2" fill="none">
<path d="M955 750.5H1006M992 743.5L1006 750.5L992 758"/>
</g>
<text class="cb" x="943" y="778" textLength="81" lengthAdjust="spacingAndGlyphs">10 m/s</text>
<text class="cb" x="941" y="108" textLength="91" lengthAdjust="spacingAndGlyphs">(ug/m3)</text>
<!-- colorbar -->
<g stroke="#000" stroke-width="1">
<rect x="956.5" y="274.5" width="40" height="50.5" fill="#7a0025"/>
<rect x="956.5" y="325" width="40" height="50" fill="#cc0077"/>
<rect x="956.5" y="375" width="40" height="50" fill="#ff0000"/>
<rect x="956.5" y="425" width="40" height="50" fill="#ff7e00"/>
<rect x="956.5" y="475" width="40" height="50" fill="#ffff00"/>
<rect x="956.5" y="525" width="40" height="50" fill="#00e400"/>
</g>
<g class="cb">
<text x="1003" y="333.5" textLength="39" lengthAdjust="spacingAndGlyphs">300</text>
<text x="1003" y="383.5" textLength="39" lengthAdjust="spacingAndGlyphs">200</text>
<text x="1003" y="433.5" textLength="39" lengthAdjust="spacingAndGlyphs">150</text>
<text x="1003" y="483.5" textLength="39" lengthAdjust="spacingAndGlyphs">100</text>
<text x="1003" y="533.5" textLength="26" lengthAdjust="spacingAndGlyphs">50</text>
</g>
<!-- copyright -->
<g class="cp">
<text x="360" y="809.5" textLength="169.5" lengthAdjust="spacingAndGlyphs">版权所有: 南京大学</text>
<text x="545.5" y="809.5" textLength="196" lengthAdjust="spacingAndGlyphs">南京创蓝科技有限公司</text>
</g>
<path d="M535 788V817.5" stroke="#000" stroke-width="1.3"/>
</svg>
</body></html>
